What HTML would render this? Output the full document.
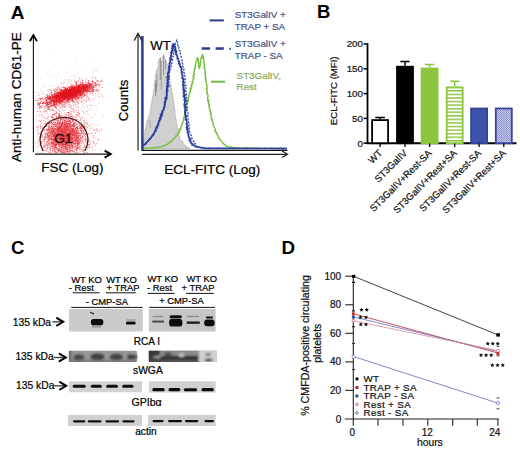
<!DOCTYPE html>
<html><head><meta charset="utf-8"><style>
html,body{margin:0;padding:0;background:#fff;width:520px;height:451px;overflow:hidden}
svg{display:block;font-family:"Liberation Sans",sans-serif}
</style></head><body>
<svg width="520" height="451" viewBox="0 0 520 451" font-family="Liberation Sans, sans-serif"><text x="10.7" y="19.2" font-size="19" fill="#000" text-anchor="start" font-weight="bold">A</text>
<text x="317" y="17.8" font-size="18.5" fill="#000" text-anchor="start" font-weight="bold">B</text>
<text x="11" y="253.8" font-size="18.5" fill="#000" text-anchor="start" font-weight="bold">C</text>
<text x="281.4" y="254.4" font-size="18.8" fill="#000" text-anchor="start" font-weight="bold">D</text>
<g stroke="#111" stroke-width="1.1" fill="none"><path d="M33.4 152.3 V35"/><path d="M35 154.1 H111"/></g><g stroke="#000" stroke-width="1.8" fill="none" stroke-linejoin="miter"><path d="M29.9 41.2 L33.4 35 L36.9 41.2"/><path d="M104.6 150.6 L110.8 154.1 L104.6 157.6"/></g>
<text x="20.8" y="162" font-size="13.5" fill="#000" text-anchor="start" transform="rotate(-90 20.8 162)" stroke="#000" stroke-width="0.22">Anti-human CD61-PE</text>
<text x="41.2" y="172.1" font-size="13.5" fill="#000" text-anchor="start" stroke="#000" stroke-width="0.22">FSC (Log)</text>
<path fill="#e26a78" fill-opacity="0.38" d="M61 112.3h.9v.9h-.9zM59.4 100h.9v.9h-.9zM47.9 103.6h.9v.9h-.9zM83.7 107h.9v.9h-.9zM82 104.6h.9v.9h-.9zM71.1 105.6h.9v.9h-.9zM38.3 121.6h.9v.9h-.9zM73.8 109.9h.9v.9h-.9zM47.9 99.7h.9v.9h-.9zM69 102.4h.9v.9h-.9zM71 93h.9v.9h-.9zM70.2 108.9h.9v.9h-.9zM57.4 131.3h.9v.9h-.9zM76.4 120h.9v.9h-.9zM51.7 94.9h.9v.9h-.9zM58 103.4h.9v.9h-.9zM75.2 105.8h.9v.9h-.9zM54 91.2h.9v.9h-.9zM58.5 123.6h.9v.9h-.9zM51.1 110h.9v.9h-.9zM67.3 80.7h.9v.9h-.9zM68.2 123.2h.9v.9h-.9zM60.1 92.2h.9v.9h-.9zM72.2 101.6h.9v.9h-.9zM41.6 120.6h.9v.9h-.9zM77.7 116h.9v.9h-.9zM89.1 105.1h.9v.9h-.9zM62.6 84.5h.9v.9h-.9zM72.7 93.1h.9v.9h-.9zM53.1 86.7h.9v.9h-.9zM46.4 99h.9v.9h-.9zM80.3 70.2h.9v.9h-.9zM40.2 111.8h.9v.9h-.9zM89.7 108.3h.9v.9h-.9zM68.1 92.1h.9v.9h-.9zM47.8 121.7h.9v.9h-.9zM82.9 103.1h.9v.9h-.9zM69.2 109.7h.9v.9h-.9zM92.3 108.4h.9v.9h-.9zM74.1 110.6h.9v.9h-.9zM41.1 127.6h.9v.9h-.9zM81.4 109h.9v.9h-.9zM73.4 74.8h.9v.9h-.9zM63.6 119.6h.9v.9h-.9zM46.2 131.7h.9v.9h-.9zM72.8 100.2h.9v.9h-.9zM71.1 112.6h.9v.9h-.9zM69 120.6h.9v.9h-.9zM51.8 99.8h.9v.9h-.9zM81.5 101.3h.9v.9h-.9zM51.7 120.6h.9v.9h-.9zM87.4 93.1h.9v.9h-.9zM40.5 106.1h.9v.9h-.9zM60.7 100h.9v.9h-.9zM84.8 84.7h.9v.9h-.9zM81.8 81.5h.9v.9h-.9zM52.5 115.7h.9v.9h-.9zM85.1 113.4h.9v.9h-.9zM70.2 105.1h.9v.9h-.9zM68.1 112h.9v.9h-.9zM61.8 108.6h.9v.9h-.9zM73.6 102.3h.9v.9h-.9zM78.3 110.1h.9v.9h-.9zM98.5 102.9h.9v.9h-.9zM55.9 99.8h.9v.9h-.9zM66.2 117.7h.9v.9h-.9zM59.4 110.7h.9v.9h-.9zM88.1 60.7h.9v.9h-.9zM45.8 110.9h.9v.9h-.9zM71.3 106.3h.9v.9h-.9zM58.5 115h.9v.9h-.9zM67.4 95.5h.9v.9h-.9zM54.5 104.2h.9v.9h-.9zM60.1 103.7h.9v.9h-.9zM77.8 83.8h.9v.9h-.9zM65.4 118.3h.9v.9h-.9zM82.2 123.5h.9v.9h-.9zM59.9 114.2h.9v.9h-.9zM75.3 61.1h.9v.9h-.9zM78.5 79.4h.9v.9h-.9zM71.6 79.9h.9v.9h-.9zM70.1 121.1h.9v.9h-.9zM62 107.3h.9v.9h-.9zM77.7 103.7h.9v.9h-.9zM66.5 126.9h.9v.9h-.9zM80.8 96.6h.9v.9h-.9zM78.6 97.4h.9v.9h-.9zM68.1 114h.9v.9h-.9zM69.4 112.8h.9v.9h-.9zM71.8 88h.9v.9h-.9zM43 85.3h.9v.9h-.9zM87.1 111.3h.9v.9h-.9zM86.2 85.8h.9v.9h-.9zM61 87.2h.9v.9h-.9zM81 125.2h.9v.9h-.9zM53.2 129.7h.9v.9h-.9zM80.1 98.5h.9v.9h-.9zM60.8 95.4h.9v.9h-.9zM71.8 108.9h.9v.9h-.9zM86.4 84.5h.9v.9h-.9zM86.9 122.6h.9v.9h-.9zM87.8 97h.9v.9h-.9zM54.2 121.2h.9v.9h-.9zM66.3 105.5h.9v.9h-.9zM87.2 95.9h.9v.9h-.9zM35.1 121.6h.9v.9h-.9zM67.7 94h.9v.9h-.9zM66 116.3h.9v.9h-.9zM68.8 123.4h.9v.9h-.9zM65.7 119.5h.9v.9h-.9zM93.2 123.4h.9v.9h-.9zM55 119h.9v.9h-.9zM43.3 107.4h.9v.9h-.9zM60.7 104.1h.9v.9h-.9zM54.7 109.2h.9v.9h-.9zM94.1 99.4h.9v.9h-.9zM75.5 117.2h.9v.9h-.9zM57.4 86h.9v.9h-.9zM57.5 121.5h.9v.9h-.9zM82.9 112.7h.9v.9h-.9zM66.2 115.9h.9v.9h-.9zM63.7 86.1h.9v.9h-.9zM36.2 99.2h.9v.9h-.9zM78 92.9h.9v.9h-.9zM46.9 95.3h.9v.9h-.9zM38.1 106.8h.9v.9h-.9zM45.2 112.9h.9v.9h-.9zM48.2 77.2h.9v.9h-.9zM75.4 97.8h.9v.9h-.9zM67.7 96.4h.9v.9h-.9zM79 112.7h.9v.9h-.9zM76 106.9h.9v.9h-.9zM88 109.8h.9v.9h-.9zM66.1 71.9h.9v.9h-.9zM82.4 120.7h.9v.9h-.9zM57.8 97.9h.9v.9h-.9zM91.9 72.3h.9v.9h-.9zM78.2 138.4h.9v.9h-.9zM50.3 116.9h.9v.9h-.9zM95.3 96.7h.9v.9h-.9zM75.7 115.7h.9v.9h-.9zM48.6 105.4h.9v.9h-.9zM71.1 115.3h.9v.9h-.9zM62.9 101.2h.9v.9h-.9zM46.1 101.7h.9v.9h-.9zM79.2 102.9h.9v.9h-.9zM47.5 94.1h.9v.9h-.9zM67.9 63.8h.9v.9h-.9zM75.7 109.3h.9v.9h-.9zM93.3 105.3h.9v.9h-.9zM64.2 111.9h.9v.9h-.9zM67.6 92.7h.9v.9h-.9zM90.9 126.8h.9v.9h-.9zM38.8 98.3h.9v.9h-.9zM69.4 105.9h.9v.9h-.9zM54.8 90.8h.9v.9h-.9zM102.2 113.1h.9v.9h-.9zM40.5 87.7h.9v.9h-.9zM95.1 113.6h.9v.9h-.9zM96.6 110.6h.9v.9h-.9zM50.1 110.4h.9v.9h-.9zM64.4 111.9h.9v.9h-.9zM51.5 104.3h.9v.9h-.9zM72.7 108.2h.9v.9h-.9zM75.2 105.2h.9v.9h-.9zM60.6 116.6h.9v.9h-.9zM62.7 91.7h.9v.9h-.9zM53.5 105.8h.9v.9h-.9zM62.6 106.6h.9v.9h-.9zM64.4 106.6h.9v.9h-.9zM58.5 85.8h.9v.9h-.9zM73.8 118.3h.9v.9h-.9zM70.8 99.9h.9v.9h-.9zM69 88.4h.9v.9h-.9zM50.3 117.7h.9v.9h-.9zM39 68.4h.9v.9h-.9zM50.7 130.4h.9v.9h-.9zM54 84.9h.9v.9h-.9zM52.6 113.9h.9v.9h-.9zM72.8 105.1h.9v.9h-.9zM90.7 110.1h.9v.9h-.9zM65.2 112.9h.9v.9h-.9zM94.2 113.5h.9v.9h-.9zM78.3 85h.9v.9h-.9zM63.4 115.2h.9v.9h-.9zM61.8 120.7h.9v.9h-.9zM76.3 115.7h.9v.9h-.9zM67.1 142.2h.9v.9h-.9zM84.2 97.2h.9v.9h-.9zM72.3 142.1h.9v.9h-.9zM60.5 117.9h.9v.9h-.9zM80.4 101.2h.9v.9h-.9zM44.9 110.2h.9v.9h-.9zM73 119.6h.9v.9h-.9zM77.2 102h.9v.9h-.9zM79.7 109.5h.9v.9h-.9zM67.6 104.2h.9v.9h-.9zM61.7 114.9h.9v.9h-.9zM44.7 97.8h.9v.9h-.9zM60.3 82.4h.9v.9h-.9zM51.5 75.6h.9v.9h-.9zM54 114.4h.9v.9h-.9zM73.3 101.5h.9v.9h-.9zM56.4 83.8h.9v.9h-.9zM95.9 106.2h.9v.9h-.9zM80 87.7h.9v.9h-.9zM56.2 77.7h.9v.9h-.9zM79.5 115.5h.9v.9h-.9zM70 76.1h.9v.9h-.9zM49.8 85.1h.9v.9h-.9zM65.2 107.6h.9v.9h-.9zM76.4 112.5h.9v.9h-.9zM92.2 116.8h.9v.9h-.9zM40.7 100.4h.9v.9h-.9zM43.4 91.2h.9v.9h-.9zM62.7 104.3h.9v.9h-.9zM68.1 79.1h.9v.9h-.9zM43.2 107.3h.9v.9h-.9zM59.8 100h.9v.9h-.9zM61 93h.9v.9h-.9zM76.7 107.2h.9v.9h-.9zM60.8 94.3h.9v.9h-.9zM54 64.3h.9v.9h-.9zM47.7 107.4h.9v.9h-.9zM39.3 111.4h.9v.9h-.9zM62.9 83.2h.9v.9h-.9zM59 100.1h.9v.9h-.9zM73.3 111.7h.9v.9h-.9zM61.2 91.5h.9v.9h-.9zM61.4 103.5h.9v.9h-.9zM77.1 106.2h.9v.9h-.9zM48.4 86.1h.9v.9h-.9zM55.8 94.2h.9v.9h-.9zM45.1 105.6h.9v.9h-.9zM56.1 107h.9v.9h-.9zM71.7 96.4h.9v.9h-.9zM102.1 92.4h.9v.9h-.9zM82.8 102.5h.9v.9h-.9zM76.5 65.6h.9v.9h-.9zM52.1 109.9h.9v.9h-.9zM80.2 136.7h.9v.9h-.9zM72.7 122h.9v.9h-.9zM79.3 115.7h.9v.9h-.9zM72.1 100.2h.9v.9h-.9zM69.7 86.6h.9v.9h-.9zM81.1 85.5h.9v.9h-.9zM73.7 134.6h.9v.9h-.9zM60.3 104.9h.9v.9h-.9zM83.5 101h.9v.9h-.9zM51.2 110.2h.9v.9h-.9zM75.6 112.8h.9v.9h-.9zM55.6 132.2h.9v.9h-.9zM92 99.3h.9v.9h-.9zM67.4 96.9h.9v.9h-.9zM85.8 89.4h.9v.9h-.9zM74 94.9h.9v.9h-.9zM54.3 116.7h.9v.9h-.9zM86.3 99.9h.9v.9h-.9zM54.8 118h.9v.9h-.9zM64 108.7h.9v.9h-.9zM92.4 116.2h.9v.9h-.9zM61.2 139.3h.9v.9h-.9zM66.1 115.6h.9v.9h-.9zM53 105.3h.9v.9h-.9zM39.4 135.6h.9v.9h-.9zM83.7 82h.9v.9h-.9zM82.5 93.7h.9v.9h-.9zM62.2 99.6h.9v.9h-.9zM59.1 88.3h.9v.9h-.9zM60.7 82.7h.9v.9h-.9zM63.6 108.8h.9v.9h-.9zM71.2 99.2h.9v.9h-.9zM49.3 109h.9v.9h-.9zM60 128.6h.9v.9h-.9zM76.6 100h.9v.9h-.9zM54.3 95h.9v.9h-.9zM47.4 101.6h.9v.9h-.9zM70.3 110.7h.9v.9h-.9zM79 133.3h.9v.9h-.9zM52.2 106.3h.9v.9h-.9zM55.7 108h.9v.9h-.9zM67.6 109.6h.9v.9h-.9zM61 110.1h.9v.9h-.9zM66.9 115.2h.9v.9h-.9zM61.3 88.8h.9v.9h-.9zM48.1 116.4h.9v.9h-.9zM54.8 115.3h.9v.9h-.9zM77.3 106.3h.9v.9h-.9zM72.2 101h.9v.9h-.9zM40.3 107.7h.9v.9h-.9zM70.2 94.8h.9v.9h-.9zM64.3 115.4h.9v.9h-.9zM51 116h.9v.9h-.9zM93.7 90.3h.9v.9h-.9zM66.1 101.3h.9v.9h-.9zM90.6 104.1h.9v.9h-.9zM77.2 91.2h.9v.9h-.9zM63.7 103.9h.9v.9h-.9zM38 130.5h.9v.9h-.9zM74.5 75.5h.9v.9h-.9zM76.1 99.9h.9v.9h-.9zM72.5 108.1h.9v.9h-.9zM38.4 105.3h.9v.9h-.9zM87.5 91.1h.9v.9h-.9zM43.3 86.9h.9v.9h-.9zM44.4 112.6h.9v.9h-.9zM93.5 105.3h.9v.9h-.9zM73.9 136.3h.9v.9h-.9zM53.5 95.6h.9v.9h-.9zM74.3 110.5h.9v.9h-.9zM44 89.7h.9v.9h-.9zM69.5 106.8h.9v.9h-.9zM41.6 104.9h.9v.9h-.9zM56.1 112.4h.9v.9h-.9zM61.8 103.1h.9v.9h-.9zM60.8 120.6h.9v.9h-.9zM86.3 94.5h.9v.9h-.9zM76.2 90.3h.9v.9h-.9zM67.2 114.9h.9v.9h-.9zM88.4 93.9h.9v.9h-.9zM63.3 107.1h.9v.9h-.9zM39 108.7h.9v.9h-.9zM53.7 111.5h.9v.9h-.9zM39.9 78.1h.9v.9h-.9zM65.3 107.7h.9v.9h-.9zM57.1 118.8h.9v.9h-.9zM57.8 95.9h.9v.9h-.9zM67.9 79.4h.9v.9h-.9zM52.6 105.7h.9v.9h-.9zM77.8 99.1h.9v.9h-.9zM67.5 93.4h.9v.9h-.9zM73.4 127.7h.9v.9h-.9zM58.7 141h.9v.9h-.9zM53.3 106.2h.9v.9h-.9zM69.6 118.6h.9v.9h-.9zM37.8 76.6h.9v.9h-.9zM76.2 114h.9v.9h-.9zM81.3 141h.9v.9h-.9zM68.1 107.1h.9v.9h-.9zM80.5 106.7h.9v.9h-.9zM88.6 80.8h.9v.9h-.9zM48.7 54.2h.9v.9h-.9zM76.6 96.1h.9v.9h-.9zM85.1 133.1h.9v.9h-.9zM63.2 100.3h.9v.9h-.9zM53.5 93.1h.9v.9h-.9zM55.1 115.3h.9v.9h-.9zM64.8 104.9h.9v.9h-.9zM63.5 118h.9v.9h-.9zM71.9 100.4h.9v.9h-.9zM74.7 99.8h.9v.9h-.9zM48.5 128.9h.9v.9h-.9zM69.3 88.5h.9v.9h-.9zM83 105.9h.9v.9h-.9zM42 132.4h.9v.9h-.9zM71.9 116.2h.9v.9h-.9zM66.9 101.2h.9v.9h-.9zM40.6 122.9h.9v.9h-.9zM63.8 99.7h.9v.9h-.9zM70.1 104.1h.9v.9h-.9zM74.3 96.5h.9v.9h-.9zM57.8 72.5h.9v.9h-.9zM58.7 115.2h.9v.9h-.9zM85.4 94.7h.9v.9h-.9zM66.1 127.7h.9v.9h-.9zM60.5 115.8h.9v.9h-.9zM92.2 99.6h.9v.9h-.9zM82.7 89.9h.9v.9h-.9zM67.3 102.2h.9v.9h-.9zM68.9 120.3h.9v.9h-.9zM102.3 87.1h.9v.9h-.9zM55.7 113h.9v.9h-.9zM47.6 114.5h.9v.9h-.9zM72.9 98.2h.9v.9h-.9zM68.9 79.5h.9v.9h-.9zM72.7 78.9h.9v.9h-.9zM50.9 97.8h.9v.9h-.9zM59.5 117.9h.9v.9h-.9zM64.3 97.9h.9v.9h-.9zM77.2 125.8h.9v.9h-.9zM65.1 109.4h.9v.9h-.9zM85.5 104.3h.9v.9h-.9zM49 144.6h.9v.9h-.9zM95.8 68.2h.9v.9h-.9zM64.4 110.3h.9v.9h-.9zM81.9 111h.9v.9h-.9zM56.7 89.2h.9v.9h-.9zM68.4 119h.9v.9h-.9zM43.1 92h.9v.9h-.9zM58.5 75.5h.9v.9h-.9zM58.5 98.3h.9v.9h-.9zM69.7 92.3h.9v.9h-.9zM48.2 100.8h.9v.9h-.9zM61.4 94.3h.9v.9h-.9zM66.2 115h.9v.9h-.9z"/>
<path fill="#e3303a" fill-opacity="0.5" d="M88.3 99.5h.9v.9h-.9zM54.3 97.7h.9v.9h-.9zM56 99.6h.9v.9h-.9zM72.3 85.6h.9v.9h-.9zM74 93.4h.9v.9h-.9zM39.9 107.2h.9v.9h-.9zM81.4 79.2h.9v.9h-.9zM79.6 93h.9v.9h-.9zM75 96h.9v.9h-.9zM86.3 87.9h.9v.9h-.9zM79.4 89.1h.9v.9h-.9zM76.4 87.6h.9v.9h-.9zM68.7 106.4h.9v.9h-.9zM73.4 92.8h.9v.9h-.9zM48.1 97.5h.9v.9h-.9zM71.8 100.3h.9v.9h-.9zM74.5 96.8h.9v.9h-.9zM69 103.9h.9v.9h-.9zM60 94.9h.9v.9h-.9zM80.6 91.7h.9v.9h-.9zM61.7 94.2h.9v.9h-.9zM64.3 100.9h.9v.9h-.9zM70 87.3h.9v.9h-.9zM73.8 94.8h.9v.9h-.9zM53.4 105.6h.9v.9h-.9zM62.1 95.6h.9v.9h-.9zM81.6 99.3h.9v.9h-.9zM57.4 102.1h.9v.9h-.9zM58.3 113.7h.9v.9h-.9zM61.9 105.4h.9v.9h-.9zM58.8 104h.9v.9h-.9zM95.6 70h.9v.9h-.9zM61.4 101.1h.9v.9h-.9zM64.3 92.7h.9v.9h-.9zM99.7 85.2h.9v.9h-.9zM43.8 109.4h.9v.9h-.9zM43.2 111.5h.9v.9h-.9zM58.5 99.8h.9v.9h-.9zM86.3 90.1h.9v.9h-.9zM42.6 93.6h.9v.9h-.9zM86.3 94h.9v.9h-.9zM56.3 105.1h.9v.9h-.9zM75.8 97.1h.9v.9h-.9zM82.1 95.5h.9v.9h-.9zM75.5 77.5h.9v.9h-.9zM70.5 97.9h.9v.9h-.9zM62.1 97.9h.9v.9h-.9zM79.5 88.9h.9v.9h-.9zM82.8 85.6h.9v.9h-.9zM70 91.6h.9v.9h-.9zM68 91.3h.9v.9h-.9zM45 110.5h.9v.9h-.9zM70.5 91.3h.9v.9h-.9zM72 100.6h.9v.9h-.9zM52 100.5h.9v.9h-.9zM76.2 96.2h.9v.9h-.9zM57.8 85.8h.9v.9h-.9zM86.4 91.4h.9v.9h-.9zM66.7 94.4h.9v.9h-.9zM70.2 92.2h.9v.9h-.9zM50.1 97.1h.9v.9h-.9zM56.8 95.6h.9v.9h-.9zM50.7 105.6h.9v.9h-.9zM48.5 106.6h.9v.9h-.9zM52.3 103.3h.9v.9h-.9zM88.2 90h.9v.9h-.9zM56 100.1h.9v.9h-.9zM65.9 85.4h.9v.9h-.9zM58.1 100.1h.9v.9h-.9zM60.1 98.9h.9v.9h-.9zM79.6 96.5h.9v.9h-.9zM81.9 94.6h.9v.9h-.9zM62.6 97.4h.9v.9h-.9zM62.3 95.6h.9v.9h-.9zM60.9 87.2h.9v.9h-.9zM61.9 97.6h.9v.9h-.9zM52.2 100.9h.9v.9h-.9zM74.5 92.4h.9v.9h-.9zM93.3 70.4h.9v.9h-.9zM60.3 86.7h.9v.9h-.9zM87 106h.9v.9h-.9zM74.3 91.6h.9v.9h-.9zM71 80.4h.9v.9h-.9zM80.6 93.7h.9v.9h-.9zM66.2 92.5h.9v.9h-.9zM75.7 89.9h.9v.9h-.9zM69.4 91.9h.9v.9h-.9zM71.5 99.2h.9v.9h-.9zM53.7 100.4h.9v.9h-.9zM76.6 93.6h.9v.9h-.9zM89.7 100.8h.9v.9h-.9zM49.5 89.8h.9v.9h-.9zM82.9 100.2h.9v.9h-.9zM82.5 95.8h.9v.9h-.9zM56.2 95.2h.9v.9h-.9zM78.7 86.2h.9v.9h-.9zM37.6 99.8h.9v.9h-.9zM55.2 95.4h.9v.9h-.9zM69 90.5h.9v.9h-.9zM86.7 88.7h.9v.9h-.9zM53.1 109.1h.9v.9h-.9zM58.6 100.3h.9v.9h-.9zM66.2 94.3h.9v.9h-.9zM70.6 90.4h.9v.9h-.9zM46.4 98.3h.9v.9h-.9zM66.8 96.4h.9v.9h-.9zM75.6 93.8h.9v.9h-.9zM53.6 96.1h.9v.9h-.9zM75.4 96.5h.9v.9h-.9zM64.8 95.6h.9v.9h-.9zM81.2 91.2h.9v.9h-.9zM79.3 95.5h.9v.9h-.9zM72.8 102.3h.9v.9h-.9zM57.6 96.9h.9v.9h-.9zM53.2 95.7h.9v.9h-.9zM94 97.9h.9v.9h-.9zM68.5 99.1h.9v.9h-.9zM86.4 94.5h.9v.9h-.9zM82.8 82.6h.9v.9h-.9zM58.2 101.9h.9v.9h-.9zM88.9 89.1h.9v.9h-.9zM53.3 98.5h.9v.9h-.9zM55.3 94.6h.9v.9h-.9zM88.5 84.6h.9v.9h-.9zM71.5 108.2h.9v.9h-.9zM85.6 91.7h.9v.9h-.9zM58.5 101.5h.9v.9h-.9zM92.8 91.1h.9v.9h-.9zM86.3 90h.9v.9h-.9zM74.4 92.2h.9v.9h-.9zM76 101.2h.9v.9h-.9zM45.2 103.1h.9v.9h-.9zM69.5 91.5h.9v.9h-.9zM63.9 102.1h.9v.9h-.9zM98.5 89.1h.9v.9h-.9zM68.9 85.5h.9v.9h-.9zM96.3 86.4h.9v.9h-.9zM64.3 89.8h.9v.9h-.9zM64 90.1h.9v.9h-.9zM69 98.3h.9v.9h-.9zM68 97.4h.9v.9h-.9zM56.9 108.5h.9v.9h-.9zM53.6 89.1h.9v.9h-.9zM62.7 92.6h.9v.9h-.9zM51 99.2h.9v.9h-.9zM69.1 87.8h.9v.9h-.9zM67.7 104.8h.9v.9h-.9zM77 91.6h.9v.9h-.9zM68.7 94.7h.9v.9h-.9zM67.7 100.4h.9v.9h-.9zM60.9 82.8h.9v.9h-.9zM64.9 91.1h.9v.9h-.9zM75.7 89.1h.9v.9h-.9zM73.5 107.6h.9v.9h-.9zM49 95.1h.9v.9h-.9zM41 89.8h.9v.9h-.9zM39.3 107.9h.9v.9h-.9zM53.7 88.7h.9v.9h-.9zM45.8 107.2h.9v.9h-.9zM54.6 98h.9v.9h-.9zM74.6 102h.9v.9h-.9zM98.4 91.7h.9v.9h-.9zM69.5 96.3h.9v.9h-.9zM97.1 94.7h.9v.9h-.9zM63.2 100.2h.9v.9h-.9zM71.4 94.8h.9v.9h-.9zM56.8 91.1h.9v.9h-.9zM55.9 90h.9v.9h-.9zM86.6 92.7h.9v.9h-.9zM51.5 110.2h.9v.9h-.9zM76.8 80.5h.9v.9h-.9zM96.4 91h.9v.9h-.9zM95.8 78.3h.9v.9h-.9zM75.9 95.6h.9v.9h-.9zM70.4 95.9h.9v.9h-.9zM80 82h.9v.9h-.9zM45.5 94.6h.9v.9h-.9zM57.4 95.5h.9v.9h-.9zM73.1 95.6h.9v.9h-.9zM66.2 92h.9v.9h-.9zM62.2 103.7h.9v.9h-.9zM78.7 92.6h.9v.9h-.9zM65.2 106.5h.9v.9h-.9zM59.3 102.8h.9v.9h-.9zM83.9 88.5h.9v.9h-.9zM77.3 85.4h.9v.9h-.9zM82.7 91.9h.9v.9h-.9zM44.3 108.1h.9v.9h-.9zM56 107.9h.9v.9h-.9zM56.4 98.6h.9v.9h-.9zM70.6 92.6h.9v.9h-.9zM69.8 91.5h.9v.9h-.9zM77.2 92.5h.9v.9h-.9zM64.8 79.3h.9v.9h-.9zM84.6 90.1h.9v.9h-.9zM40.2 105.8h.9v.9h-.9zM76.2 99.6h.9v.9h-.9zM53.6 110.4h.9v.9h-.9zM69.3 110.4h.9v.9h-.9zM66.1 100.6h.9v.9h-.9zM59.3 91.6h.9v.9h-.9zM85.4 95.4h.9v.9h-.9zM91.9 92.8h.9v.9h-.9zM55.1 89.6h.9v.9h-.9zM55.8 95.6h.9v.9h-.9zM55.8 103.6h.9v.9h-.9zM71.4 92.8h.9v.9h-.9zM69.3 94.3h.9v.9h-.9zM71.7 99.2h.9v.9h-.9zM80.2 87.1h.9v.9h-.9zM47 111.9h.9v.9h-.9zM70.9 101.7h.9v.9h-.9zM41.5 102.7h.9v.9h-.9zM64.6 87.7h.9v.9h-.9zM60.6 102.8h.9v.9h-.9zM86.4 99.4h.9v.9h-.9zM51.2 92.5h.9v.9h-.9zM76.7 98.6h.9v.9h-.9zM67.4 87.6h.9v.9h-.9zM80.4 96.4h.9v.9h-.9zM74.4 90.4h.9v.9h-.9zM73.1 98.9h.9v.9h-.9zM54.9 88.5h.9v.9h-.9zM72.9 97h.9v.9h-.9zM68.9 101h.9v.9h-.9zM58 98.6h.9v.9h-.9zM63.5 100.8h.9v.9h-.9zM90.6 86.3h.9v.9h-.9zM101.1 94h.9v.9h-.9zM80.1 95.2h.9v.9h-.9zM93.4 85.8h.9v.9h-.9zM63.2 90.6h.9v.9h-.9zM76.8 101.2h.9v.9h-.9zM75.9 95.6h.9v.9h-.9zM64.3 98h.9v.9h-.9zM47.5 109.4h.9v.9h-.9zM58.6 91.9h.9v.9h-.9zM54 95.2h.9v.9h-.9zM82 97.5h.9v.9h-.9zM48.3 108.3h.9v.9h-.9zM79.3 88.1h.9v.9h-.9zM43.1 99.5h.9v.9h-.9zM58.1 101.2h.9v.9h-.9zM57.6 86.4h.9v.9h-.9zM67.5 86.1h.9v.9h-.9zM78.3 84.4h.9v.9h-.9zM54.8 94.8h.9v.9h-.9zM61.3 106.2h.9v.9h-.9zM81.1 95h.9v.9h-.9zM68.8 85.6h.9v.9h-.9zM58 95.6h.9v.9h-.9zM53.2 104h.9v.9h-.9zM54.4 95.8h.9v.9h-.9zM47.2 89.8h.9v.9h-.9zM78.6 100.4h.9v.9h-.9zM67.7 89.5h.9v.9h-.9zM86 91.4h.9v.9h-.9zM83.9 99.6h.9v.9h-.9zM83.2 87.6h.9v.9h-.9zM84.4 94.9h.9v.9h-.9zM43 101.7h.9v.9h-.9zM45.2 102.8h.9v.9h-.9zM73.7 86.9h.9v.9h-.9zM38.4 114.1h.9v.9h-.9zM75.6 102.4h.9v.9h-.9zM49 108.9h.9v.9h-.9zM102.3 96.6h.9v.9h-.9zM64.3 98.6h.9v.9h-.9zM66.6 102.5h.9v.9h-.9zM82.9 91.1h.9v.9h-.9zM47.9 107.3h.9v.9h-.9zM61.1 102h.9v.9h-.9zM74.2 103.8h.9v.9h-.9zM83.3 87.5h.9v.9h-.9zM75.7 104.2h.9v.9h-.9zM59.7 101.3h.9v.9h-.9zM87.5 96.9h.9v.9h-.9zM72.3 85.8h.9v.9h-.9zM48.4 104h.9v.9h-.9zM77.8 108.4h.9v.9h-.9zM56.2 106.9h.9v.9h-.9zM75.4 82.5h.9v.9h-.9zM54.9 101.2h.9v.9h-.9zM59.2 97.7h.9v.9h-.9zM72.5 89h.9v.9h-.9zM72.8 90h.9v.9h-.9zM59.8 101.9h.9v.9h-.9zM58.9 100.6h.9v.9h-.9zM91.2 87.8h.9v.9h-.9zM66.2 100.9h.9v.9h-.9zM63.6 104h.9v.9h-.9zM48.8 106.2h.9v.9h-.9zM57.7 94.1h.9v.9h-.9zM92.1 82h.9v.9h-.9zM94.9 90.6h.9v.9h-.9zM87.1 82.9h.9v.9h-.9zM88 98h.9v.9h-.9zM65 95.9h.9v.9h-.9zM59.4 94.6h.9v.9h-.9zM74.4 95.6h.9v.9h-.9zM73 104.8h.9v.9h-.9zM63 100.4h.9v.9h-.9zM87.1 82.7h.9v.9h-.9zM86.3 101h.9v.9h-.9zM44.4 96.8h.9v.9h-.9zM47.7 90.9h.9v.9h-.9zM70.2 83.1h.9v.9h-.9zM77.4 101.6h.9v.9h-.9zM41.9 102.6h.9v.9h-.9zM39.5 110.4h.9v.9h-.9zM55.3 98.3h.9v.9h-.9zM68.9 98.8h.9v.9h-.9zM61.8 97.9h.9v.9h-.9zM59 99.5h.9v.9h-.9zM49.4 102.5h.9v.9h-.9zM36.8 103.3h.9v.9h-.9zM96.1 86.5h.9v.9h-.9zM48.4 104h.9v.9h-.9zM49.1 91.7h.9v.9h-.9zM57.3 104h.9v.9h-.9zM72.6 93.5h.9v.9h-.9zM50.9 94.7h.9v.9h-.9zM87.9 90.4h.9v.9h-.9zM48.5 89h.9v.9h-.9zM51.1 117.2h.9v.9h-.9zM49.5 101.5h.9v.9h-.9zM69.9 94h.9v.9h-.9zM60.1 89.7h.9v.9h-.9zM54.4 111.1h.9v.9h-.9zM57.2 104.7h.9v.9h-.9zM40.8 103.3h.9v.9h-.9zM73 100.5h.9v.9h-.9zM51.2 105.2h.9v.9h-.9zM71.4 89.8h.9v.9h-.9zM72.5 88.4h.9v.9h-.9zM54.9 100h.9v.9h-.9zM49 92.9h.9v.9h-.9zM62.1 102.5h.9v.9h-.9zM63.4 105.3h.9v.9h-.9zM46.9 94.6h.9v.9h-.9zM91.2 90.2h.9v.9h-.9zM79.7 86.4h.9v.9h-.9zM79.7 93.3h.9v.9h-.9zM76.9 92.8h.9v.9h-.9zM84 86h.9v.9h-.9zM49.5 92.6h.9v.9h-.9zM83.1 85.8h.9v.9h-.9zM49.4 96.1h.9v.9h-.9zM57.8 91.1h.9v.9h-.9zM61.4 94h.9v.9h-.9zM56.8 93.4h.9v.9h-.9zM66.7 93.2h.9v.9h-.9zM69.2 96.8h.9v.9h-.9zM67.9 81.8h.9v.9h-.9zM57.3 94.3h.9v.9h-.9zM75.6 83h.9v.9h-.9zM55.6 98.1h.9v.9h-.9zM63.9 103.4h.9v.9h-.9zM62.2 103.8h.9v.9h-.9zM41.3 93.4h.9v.9h-.9zM86.3 92.1h.9v.9h-.9zM74.6 94.2h.9v.9h-.9zM72 86.6h.9v.9h-.9zM80.3 88h.9v.9h-.9zM82.1 91.4h.9v.9h-.9zM83.8 89.3h.9v.9h-.9zM61.5 99.4h.9v.9h-.9zM59.5 95.1h.9v.9h-.9zM68.8 96.3h.9v.9h-.9zM90 88.4h.9v.9h-.9zM99 96.4h.9v.9h-.9zM95 93.1h.9v.9h-.9zM69.2 96.1h.9v.9h-.9zM63.4 92.6h.9v.9h-.9zM64.7 92.7h.9v.9h-.9zM92.9 90.5h.9v.9h-.9zM56.5 87.5h.9v.9h-.9zM65.4 93.9h.9v.9h-.9zM48.4 95.2h.9v.9h-.9zM71 111h.9v.9h-.9zM66.2 95.3h.9v.9h-.9zM89.1 89.2h.9v.9h-.9zM68.8 93h.9v.9h-.9zM60.8 107.7h.9v.9h-.9zM85.5 100.5h.9v.9h-.9zM61.8 98h.9v.9h-.9zM55.6 106.1h.9v.9h-.9zM47 106.5h.9v.9h-.9zM86.3 98.3h.9v.9h-.9zM54.9 107.1h.9v.9h-.9zM54.7 95.4h.9v.9h-.9zM49.2 109.4h.9v.9h-.9zM90.8 84h.9v.9h-.9zM54.8 98h.9v.9h-.9zM55.3 88.6h.9v.9h-.9zM59.1 106.2h.9v.9h-.9zM94.7 84.8h.9v.9h-.9zM55.5 96.7h.9v.9h-.9zM40.2 111h.9v.9h-.9zM52.7 107.7h.9v.9h-.9zM38.7 97.7h.9v.9h-.9zM69.9 90.2h.9v.9h-.9zM78.8 92h.9v.9h-.9zM50.4 105.6h.9v.9h-.9zM76 80.8h.9v.9h-.9zM95.6 89.3h.9v.9h-.9zM74.9 81.5h.9v.9h-.9zM55.4 97.8h.9v.9h-.9zM80.4 82.1h.9v.9h-.9zM49.7 89.1h.9v.9h-.9zM64 99.2h.9v.9h-.9zM40.3 101.4h.9v.9h-.9zM77.8 102.3h.9v.9h-.9zM76.5 90.8h.9v.9h-.9zM47.4 96.8h.9v.9h-.9zM57.2 100.3h.9v.9h-.9zM69.5 105.7h.9v.9h-.9zM69.3 88.4h.9v.9h-.9zM92.2 93.3h.9v.9h-.9zM67.1 91.4h.9v.9h-.9zM36.7 99.9h.9v.9h-.9zM79.2 86.7h.9v.9h-.9zM47.4 104h.9v.9h-.9zM71.9 98.2h.9v.9h-.9zM79.7 100.6h.9v.9h-.9zM56.2 105.9h.9v.9h-.9zM53.4 105.1h.9v.9h-.9zM70.2 96.4h.9v.9h-.9zM81.6 90.9h.9v.9h-.9zM85.5 95.2h.9v.9h-.9zM67.9 92.1h.9v.9h-.9zM54.6 96.9h.9v.9h-.9zM63.9 96.9h.9v.9h-.9zM77 87.1h.9v.9h-.9zM55.6 97.9h.9v.9h-.9zM67.9 89.1h.9v.9h-.9zM90.3 84.4h.9v.9h-.9zM78.7 77.1h.9v.9h-.9zM67.4 97.6h.9v.9h-.9zM71.1 98.4h.9v.9h-.9zM71.6 95.5h.9v.9h-.9zM37 101.8h.9v.9h-.9zM71.3 93.3h.9v.9h-.9zM53.4 97h.9v.9h-.9zM98.3 96.2h.9v.9h-.9zM68.6 103.6h.9v.9h-.9zM39.2 93.3h.9v.9h-.9zM58 93.6h.9v.9h-.9zM58.9 100h.9v.9h-.9zM68.3 97.3h.9v.9h-.9zM68.3 101.5h.9v.9h-.9zM91.4 79.7h.9v.9h-.9zM68.9 93.7h.9v.9h-.9zM69.4 85.5h.9v.9h-.9zM35.9 92h.9v.9h-.9zM75.3 94.4h.9v.9h-.9zM63.5 82.2h.9v.9h-.9zM59.9 93.7h.9v.9h-.9zM43.8 98.2h.9v.9h-.9zM78.6 95.5h.9v.9h-.9zM67.7 99h.9v.9h-.9zM58 99.5h.9v.9h-.9zM68.7 98.9h.9v.9h-.9zM65.7 95.6h.9v.9h-.9zM63.7 93h.9v.9h-.9zM101.8 87.3h.9v.9h-.9zM78 106.8h.9v.9h-.9zM85.2 79.9h.9v.9h-.9zM79.2 97.1h.9v.9h-.9zM98.1 93.6h.9v.9h-.9zM76.4 85.3h.9v.9h-.9zM54.4 102.1h.9v.9h-.9zM72.6 87.6h.9v.9h-.9zM60.4 95.7h.9v.9h-.9zM68.6 97.6h.9v.9h-.9zM60.2 90.5h.9v.9h-.9zM88.9 98.6h.9v.9h-.9zM67.4 102.4h.9v.9h-.9zM75 97.4h.9v.9h-.9zM72.8 89.2h.9v.9h-.9zM77.7 98.7h.9v.9h-.9zM57.3 111.8h.9v.9h-.9zM102.2 95.5h.9v.9h-.9zM98.5 89.8h.9v.9h-.9zM60.7 94.4h.9v.9h-.9zM54.9 100.9h.9v.9h-.9zM67.8 100h.9v.9h-.9zM41 119.6h.9v.9h-.9zM101.4 84h.9v.9h-.9zM78.2 95.2h.9v.9h-.9zM70.7 93.4h.9v.9h-.9zM63.5 92h.9v.9h-.9zM69.6 94.9h.9v.9h-.9zM70.2 89.5h.9v.9h-.9zM67.7 96.1h.9v.9h-.9zM74.1 86.8h.9v.9h-.9zM75.3 99.4h.9v.9h-.9zM75.3 90.8h.9v.9h-.9zM59.1 97.2h.9v.9h-.9zM81.1 101h.9v.9h-.9zM63.4 93.2h.9v.9h-.9zM73.1 95.2h.9v.9h-.9zM51.8 96.5h.9v.9h-.9zM66.8 100.3h.9v.9h-.9zM47 96.4h.9v.9h-.9zM72.2 86.5h.9v.9h-.9zM69.3 97.4h.9v.9h-.9zM63.3 90.8h.9v.9h-.9zM65.4 94.4h.9v.9h-.9zM70.4 89.5h.9v.9h-.9zM80.2 80.8h.9v.9h-.9zM64.3 97h.9v.9h-.9zM80.4 87.5h.9v.9h-.9zM74.2 89.9h.9v.9h-.9zM81.6 102h.9v.9h-.9zM61.8 100.6h.9v.9h-.9zM54.9 106.4h.9v.9h-.9zM85.4 89.9h.9v.9h-.9zM50.6 104.2h.9v.9h-.9zM86.5 96.2h.9v.9h-.9zM75.7 81.4h.9v.9h-.9zM59.5 107.6h.9v.9h-.9zM50.7 108.8h.9v.9h-.9zM97 90.5h.9v.9h-.9zM83.3 88.3h.9v.9h-.9zM48.3 101.8h.9v.9h-.9zM63.9 96.8h.9v.9h-.9zM77.3 91.5h.9v.9h-.9zM70.7 97.4h.9v.9h-.9zM70.5 106.5h.9v.9h-.9zM73.9 94.2h.9v.9h-.9zM62.6 93.5h.9v.9h-.9zM87.6 89.8h.9v.9h-.9zM49.6 98.4h.9v.9h-.9zM64.1 94.2h.9v.9h-.9zM81.1 83.8h.9v.9h-.9zM74.7 94.3h.9v.9h-.9zM49.3 102.4h.9v.9h-.9zM66.6 99.3h.9v.9h-.9zM60.8 100.1h.9v.9h-.9zM39.7 98.5h.9v.9h-.9zM80.9 97.8h.9v.9h-.9zM65.6 92.7h.9v.9h-.9zM79.3 78.5h.9v.9h-.9zM56.2 104h.9v.9h-.9zM74.9 86.7h.9v.9h-.9zM41.3 114.1h.9v.9h-.9zM67.6 90.1h.9v.9h-.9zM69.6 100.8h.9v.9h-.9zM74.1 80.3h.9v.9h-.9zM75.2 81.9h.9v.9h-.9zM85 92.3h.9v.9h-.9zM99.9 80.8h.9v.9h-.9zM69.1 101.9h.9v.9h-.9zM55.9 95.3h.9v.9h-.9zM61.2 97.5h.9v.9h-.9zM51.6 104.4h.9v.9h-.9zM75.4 93.6h.9v.9h-.9zM92.1 85.3h.9v.9h-.9zM85.7 86.1h.9v.9h-.9zM74.7 81.1h.9v.9h-.9zM69.7 94h.9v.9h-.9zM58.3 95.1h.9v.9h-.9zM60.3 93.7h.9v.9h-.9zM57.7 95.9h.9v.9h-.9zM50.7 100.7h.9v.9h-.9zM78.4 90.5h.9v.9h-.9zM62.2 106.3h.9v.9h-.9zM83.6 96.1h.9v.9h-.9zM83.8 88.1h.9v.9h-.9zM67.2 103h.9v.9h-.9zM58.4 98.2h.9v.9h-.9zM73.4 96.1h.9v.9h-.9zM64.7 103h.9v.9h-.9zM65.7 101h.9v.9h-.9zM84.5 94.2h.9v.9h-.9zM75.8 85.6h.9v.9h-.9zM46 99.3h.9v.9h-.9zM77.1 102h.9v.9h-.9zM49.1 104.1h.9v.9h-.9zM52.6 96.3h.9v.9h-.9z"/>
<path fill="#e3121c" fill-opacity="0.8" d="M65.8 96.7h.9v.9h-.9zM72.3 96.1h.9v.9h-.9zM57.3 100.3h.9v.9h-.9zM80 89.8h.9v.9h-.9zM73.8 89.8h.9v.9h-.9zM54.7 96.9h.9v.9h-.9zM63.5 104.7h.9v.9h-.9zM64.2 100.4h.9v.9h-.9zM71.3 93.6h.9v.9h-.9zM76.9 88.1h.9v.9h-.9zM80.1 90.7h.9v.9h-.9zM50.5 101.7h.9v.9h-.9zM75.7 92.5h.9v.9h-.9zM87.6 85.6h.9v.9h-.9zM75.5 93.5h.9v.9h-.9zM58.6 100.8h.9v.9h-.9zM49.4 95.8h.9v.9h-.9zM73.8 88.1h.9v.9h-.9zM65.4 89.2h.9v.9h-.9zM68.2 89.9h.9v.9h-.9zM71.2 87.6h.9v.9h-.9zM73.7 90.8h.9v.9h-.9zM69.2 93h.9v.9h-.9zM68.8 89.1h.9v.9h-.9zM37 104.5h.9v.9h-.9zM56.5 96.1h.9v.9h-.9zM71.7 85.9h.9v.9h-.9zM58.5 94.9h.9v.9h-.9zM55.8 98.9h.9v.9h-.9zM65.9 91.7h.9v.9h-.9zM57.2 100h.9v.9h-.9zM61 98h.9v.9h-.9zM72.1 86h.9v.9h-.9zM55.2 98.1h.9v.9h-.9zM73.5 94.3h.9v.9h-.9zM79.4 93.1h.9v.9h-.9zM63.7 94.5h.9v.9h-.9zM77.6 89h.9v.9h-.9zM79.9 84.4h.9v.9h-.9zM76.4 90.2h.9v.9h-.9zM45.3 104.7h.9v.9h-.9zM72.3 92.2h.9v.9h-.9zM54.8 96.7h.9v.9h-.9zM86.2 84.7h.9v.9h-.9zM53.6 98.2h.9v.9h-.9zM62.7 92.5h.9v.9h-.9zM59.2 100.1h.9v.9h-.9zM52.7 105.3h.9v.9h-.9zM60.7 92.6h.9v.9h-.9zM78.7 91.8h.9v.9h-.9zM56.4 100.1h.9v.9h-.9zM45 98.6h.9v.9h-.9zM82.1 88h.9v.9h-.9zM53 100.5h.9v.9h-.9zM79.7 89.6h.9v.9h-.9zM45.9 100.1h.9v.9h-.9zM74.4 94h.9v.9h-.9zM91 84.9h.9v.9h-.9zM62.5 95.4h.9v.9h-.9zM82.4 85.6h.9v.9h-.9zM81.8 79.9h.9v.9h-.9zM77.6 88.1h.9v.9h-.9zM74.8 93.6h.9v.9h-.9zM53.9 98.3h.9v.9h-.9zM72.1 94.2h.9v.9h-.9zM56.1 94.5h.9v.9h-.9zM47.4 109.1h.9v.9h-.9zM65.9 93.7h.9v.9h-.9zM51.1 102.6h.9v.9h-.9zM63.4 100h.9v.9h-.9zM79 90h.9v.9h-.9zM76.3 87.2h.9v.9h-.9zM63.9 93.2h.9v.9h-.9zM52.9 98.9h.9v.9h-.9zM68.2 98.3h.9v.9h-.9zM56.7 96h.9v.9h-.9zM74.1 92.9h.9v.9h-.9zM68.4 92h.9v.9h-.9zM74.9 92.5h.9v.9h-.9zM45.6 100.5h.9v.9h-.9zM50.4 95.9h.9v.9h-.9zM70.4 93.1h.9v.9h-.9zM69 90.5h.9v.9h-.9zM65.1 91.7h.9v.9h-.9zM73.9 93.9h.9v.9h-.9zM91.4 89.8h.9v.9h-.9zM58.1 95.6h.9v.9h-.9zM57.3 98.4h.9v.9h-.9zM93.6 87.2h.9v.9h-.9zM40.2 99.1h.9v.9h-.9zM53.1 100.5h.9v.9h-.9zM68.8 94.4h.9v.9h-.9zM89.6 83.5h.9v.9h-.9zM60.1 102.8h.9v.9h-.9zM71.9 89.8h.9v.9h-.9zM42 97.6h.9v.9h-.9zM38.5 104h.9v.9h-.9zM70 96.2h.9v.9h-.9zM66.1 92.1h.9v.9h-.9zM61.3 102.2h.9v.9h-.9zM47 101.5h.9v.9h-.9zM69.4 95.2h.9v.9h-.9zM64 96.7h.9v.9h-.9zM78.4 89.6h.9v.9h-.9zM62.7 94.9h.9v.9h-.9zM56.4 97h.9v.9h-.9zM65 95.4h.9v.9h-.9zM86.2 91.7h.9v.9h-.9zM63.6 97.2h.9v.9h-.9zM72.9 94.5h.9v.9h-.9zM69 94.2h.9v.9h-.9zM61.9 93.2h.9v.9h-.9zM80.5 93.6h.9v.9h-.9zM77.1 92h.9v.9h-.9zM71.3 91.1h.9v.9h-.9zM47.3 103h.9v.9h-.9zM70.4 91h.9v.9h-.9zM57.9 101.3h.9v.9h-.9zM48.1 106.3h.9v.9h-.9zM78.8 97.7h.9v.9h-.9zM59.7 96.5h.9v.9h-.9zM62.4 96.1h.9v.9h-.9zM65.2 92.2h.9v.9h-.9zM80.9 86.7h.9v.9h-.9zM62.8 97.3h.9v.9h-.9zM61.5 94.5h.9v.9h-.9zM72.5 90.9h.9v.9h-.9zM53.1 98.5h.9v.9h-.9zM67.5 99.4h.9v.9h-.9zM56 101h.9v.9h-.9zM58.5 95.8h.9v.9h-.9zM64.8 95.7h.9v.9h-.9zM80.9 95h.9v.9h-.9zM62 100.1h.9v.9h-.9zM81.6 91.7h.9v.9h-.9zM60.1 99.4h.9v.9h-.9zM67.5 95h.9v.9h-.9zM65.9 96.6h.9v.9h-.9zM83.3 92.1h.9v.9h-.9zM67 97.3h.9v.9h-.9zM85.4 84.6h.9v.9h-.9zM85.2 83.4h.9v.9h-.9zM75.8 92.9h.9v.9h-.9zM87 88h.9v.9h-.9zM61.8 93.2h.9v.9h-.9zM53.9 101h.9v.9h-.9zM64.9 92.4h.9v.9h-.9zM74.3 89h.9v.9h-.9zM62.7 94h.9v.9h-.9zM90.3 90.8h.9v.9h-.9zM65 89.6h.9v.9h-.9zM72 92.5h.9v.9h-.9zM73.4 93.7h.9v.9h-.9zM65.5 97.6h.9v.9h-.9zM79 90.6h.9v.9h-.9zM63 93.8h.9v.9h-.9zM75.9 87.3h.9v.9h-.9zM65.8 92h.9v.9h-.9zM52 101.2h.9v.9h-.9zM68.2 93.7h.9v.9h-.9zM77.7 85.4h.9v.9h-.9zM68 94.6h.9v.9h-.9zM77.6 86.8h.9v.9h-.9zM77.5 91.1h.9v.9h-.9zM86.3 91.1h.9v.9h-.9zM77.4 97.5h.9v.9h-.9zM68.1 92.3h.9v.9h-.9zM63.4 92.2h.9v.9h-.9zM66.3 88.1h.9v.9h-.9zM67.9 95.1h.9v.9h-.9zM80.3 88.3h.9v.9h-.9zM84.9 85.7h.9v.9h-.9zM65 88.6h.9v.9h-.9zM58.3 94.4h.9v.9h-.9zM87 88.8h.9v.9h-.9zM55.8 99.6h.9v.9h-.9zM74 90.8h.9v.9h-.9zM68.5 92.5h.9v.9h-.9zM60.2 90.7h.9v.9h-.9zM68.7 97.6h.9v.9h-.9zM85.4 86.8h.9v.9h-.9zM59.3 96h.9v.9h-.9zM79.6 90.8h.9v.9h-.9zM61.9 96.9h.9v.9h-.9zM66.5 95.8h.9v.9h-.9zM62.2 91h.9v.9h-.9zM69.9 95.4h.9v.9h-.9zM55.1 97.8h.9v.9h-.9zM78.7 88.8h.9v.9h-.9zM62.7 102h.9v.9h-.9zM79.5 93h.9v.9h-.9zM58.8 102.1h.9v.9h-.9zM48.2 98.8h.9v.9h-.9zM78.7 94.2h.9v.9h-.9zM56.7 95.4h.9v.9h-.9zM69 87.2h.9v.9h-.9zM76.7 92.5h.9v.9h-.9zM63.7 96.9h.9v.9h-.9zM78.1 91.2h.9v.9h-.9zM76.2 95.7h.9v.9h-.9zM63 95.9h.9v.9h-.9zM63.3 98.6h.9v.9h-.9zM64.1 96.5h.9v.9h-.9zM70.2 93.1h.9v.9h-.9zM88.9 86.2h.9v.9h-.9zM86.2 90h.9v.9h-.9zM84 87.6h.9v.9h-.9zM80.3 91.8h.9v.9h-.9zM61.5 96.8h.9v.9h-.9zM66.9 93.9h.9v.9h-.9zM83.3 86.1h.9v.9h-.9zM46.8 95.4h.9v.9h-.9zM62.5 93.5h.9v.9h-.9zM69.2 95h.9v.9h-.9zM89.7 87.2h.9v.9h-.9zM73.3 89.5h.9v.9h-.9zM76.7 95h.9v.9h-.9zM82.5 82.5h.9v.9h-.9zM80.6 94.3h.9v.9h-.9zM76.8 85.9h.9v.9h-.9zM65.4 96.4h.9v.9h-.9zM72.6 89.5h.9v.9h-.9zM58.9 99.9h.9v.9h-.9zM54.1 103h.9v.9h-.9zM69 94.3h.9v.9h-.9zM52.1 97.3h.9v.9h-.9zM75.2 86.5h.9v.9h-.9zM91.6 81.1h.9v.9h-.9zM54.1 98.6h.9v.9h-.9zM74.9 93.6h.9v.9h-.9zM63.9 94.4h.9v.9h-.9zM65.2 92.8h.9v.9h-.9zM39 106.7h.9v.9h-.9zM71.6 92.9h.9v.9h-.9zM61.3 96.8h.9v.9h-.9zM68.3 93.3h.9v.9h-.9zM79.9 84.2h.9v.9h-.9zM70.4 89.5h.9v.9h-.9zM66.2 99h.9v.9h-.9zM55.6 97.6h.9v.9h-.9zM62.4 98.6h.9v.9h-.9zM55.3 92.7h.9v.9h-.9zM74.2 90.4h.9v.9h-.9zM65.8 97.8h.9v.9h-.9zM57.7 96.1h.9v.9h-.9zM70.6 94.1h.9v.9h-.9zM63.4 98.5h.9v.9h-.9zM94.6 83.2h.9v.9h-.9zM88.5 80h.9v.9h-.9zM84.8 86.8h.9v.9h-.9zM69.8 92h.9v.9h-.9zM59.7 92.5h.9v.9h-.9zM65.1 98.8h.9v.9h-.9zM81.6 87.9h.9v.9h-.9zM61.6 93.7h.9v.9h-.9zM56.1 103.5h.9v.9h-.9zM76.4 91.1h.9v.9h-.9zM61.7 92.6h.9v.9h-.9zM84.8 90.3h.9v.9h-.9zM58.2 100.2h.9v.9h-.9zM56.1 99.8h.9v.9h-.9zM56.8 96.2h.9v.9h-.9zM74.8 92.7h.9v.9h-.9zM79.6 87h.9v.9h-.9zM88.4 90.9h.9v.9h-.9zM68.8 94.9h.9v.9h-.9zM59.2 96.2h.9v.9h-.9zM53 99.1h.9v.9h-.9zM72.2 96.5h.9v.9h-.9zM80.5 91.9h.9v.9h-.9zM64 94.3h.9v.9h-.9zM64.7 95.5h.9v.9h-.9zM46.5 103.5h.9v.9h-.9zM49.5 98.4h.9v.9h-.9zM68.3 92h.9v.9h-.9zM88 86.5h.9v.9h-.9zM88.2 90.4h.9v.9h-.9zM63 96.6h.9v.9h-.9zM83.5 87.3h.9v.9h-.9zM69 91.6h.9v.9h-.9zM68.8 92.3h.9v.9h-.9zM70.4 96h.9v.9h-.9zM85.1 88.2h.9v.9h-.9zM71.7 95.1h.9v.9h-.9zM64.1 91.7h.9v.9h-.9zM80.7 86.4h.9v.9h-.9zM78.5 87h.9v.9h-.9zM89.1 83.1h.9v.9h-.9zM80 94.3h.9v.9h-.9zM58.6 101.6h.9v.9h-.9zM57.1 91.9h.9v.9h-.9zM77.7 92.5h.9v.9h-.9zM63.7 87.2h.9v.9h-.9zM67.6 92.9h.9v.9h-.9zM63.7 94.2h.9v.9h-.9zM46.8 99.2h.9v.9h-.9zM91.2 90.5h.9v.9h-.9zM63.5 93h.9v.9h-.9zM74.2 94.9h.9v.9h-.9zM75.9 87.3h.9v.9h-.9zM70.5 93.2h.9v.9h-.9zM86.6 91h.9v.9h-.9zM75.9 94.8h.9v.9h-.9zM65.3 99.4h.9v.9h-.9zM63.9 96.3h.9v.9h-.9zM78.5 87.2h.9v.9h-.9zM58.5 91.4h.9v.9h-.9zM70.4 92.7h.9v.9h-.9zM65.1 96.2h.9v.9h-.9zM43.5 102h.9v.9h-.9zM69.3 92.4h.9v.9h-.9zM79.6 95.2h.9v.9h-.9zM62.3 92.7h.9v.9h-.9zM61.5 96.2h.9v.9h-.9zM74.6 88.7h.9v.9h-.9zM79.3 86.6h.9v.9h-.9zM78.7 91.3h.9v.9h-.9zM76.1 97.7h.9v.9h-.9zM65.2 94.1h.9v.9h-.9zM75 94h.9v.9h-.9zM53 99.7h.9v.9h-.9zM60.4 98.3h.9v.9h-.9zM84.7 88.1h.9v.9h-.9zM67.4 94.4h.9v.9h-.9zM75.3 91.7h.9v.9h-.9zM63.1 93.1h.9v.9h-.9zM67.6 97.6h.9v.9h-.9zM68.6 97.7h.9v.9h-.9zM37.7 102.7h.9v.9h-.9zM71.7 92.3h.9v.9h-.9zM48.3 98.4h.9v.9h-.9zM82 84.8h.9v.9h-.9zM55.7 94.4h.9v.9h-.9zM62.6 97.6h.9v.9h-.9zM73.5 85.4h.9v.9h-.9zM85.2 85.9h.9v.9h-.9zM63.2 100.6h.9v.9h-.9zM66.3 90.3h.9v.9h-.9zM60.3 94.1h.9v.9h-.9zM56.3 96.7h.9v.9h-.9zM79.2 90.9h.9v.9h-.9zM54.9 107h.9v.9h-.9zM56.9 97.8h.9v.9h-.9zM69.6 95.5h.9v.9h-.9zM65.1 96.1h.9v.9h-.9zM93.4 85.2h.9v.9h-.9zM56 98.8h.9v.9h-.9zM58.7 95.7h.9v.9h-.9zM71 93.7h.9v.9h-.9zM66 97h.9v.9h-.9zM65 90.6h.9v.9h-.9zM78.5 88.9h.9v.9h-.9zM82.2 86.7h.9v.9h-.9zM75.6 92.1h.9v.9h-.9zM35.2 100.3h.9v.9h-.9zM56.7 102h.9v.9h-.9zM47.1 103.7h.9v.9h-.9zM81.9 90.5h.9v.9h-.9zM76 89.4h.9v.9h-.9zM68.6 94.2h.9v.9h-.9zM74.2 93.8h.9v.9h-.9zM65.4 92.4h.9v.9h-.9zM62.3 96.9h.9v.9h-.9zM47.7 96.7h.9v.9h-.9zM63.1 93.6h.9v.9h-.9zM62.7 87.1h.9v.9h-.9zM64.2 94.2h.9v.9h-.9zM75.7 84.8h.9v.9h-.9zM65.3 96.1h.9v.9h-.9zM75.4 94.9h.9v.9h-.9zM79.9 86.3h.9v.9h-.9zM75.7 90h.9v.9h-.9zM60.5 101.1h.9v.9h-.9zM60.2 93.7h.9v.9h-.9zM62.9 92.8h.9v.9h-.9zM80.8 90.5h.9v.9h-.9zM85.4 89h.9v.9h-.9zM62.2 99h.9v.9h-.9zM60.3 94.9h.9v.9h-.9zM66.6 94.3h.9v.9h-.9zM82 86.9h.9v.9h-.9zM72.6 92h.9v.9h-.9zM52.6 95.5h.9v.9h-.9zM66.3 95.5h.9v.9h-.9zM72.8 93.5h.9v.9h-.9zM68.6 92h.9v.9h-.9zM72.6 88.9h.9v.9h-.9zM52.3 98h.9v.9h-.9zM51.1 97.9h.9v.9h-.9zM59.1 95h.9v.9h-.9zM67.2 91.4h.9v.9h-.9zM61.8 90.4h.9v.9h-.9zM69.4 90.4h.9v.9h-.9zM70.5 83.9h.9v.9h-.9zM59.2 97.5h.9v.9h-.9zM39.2 102.4h.9v.9h-.9zM69.7 93.4h.9v.9h-.9zM51 100.3h.9v.9h-.9zM69.3 90.1h.9v.9h-.9zM77.3 90.3h.9v.9h-.9zM68.3 92.2h.9v.9h-.9zM75.1 91.5h.9v.9h-.9zM82.4 90.1h.9v.9h-.9zM61 95.4h.9v.9h-.9zM79 88.7h.9v.9h-.9zM73.6 93.4h.9v.9h-.9zM64.1 87.6h.9v.9h-.9zM70.3 93.6h.9v.9h-.9zM69.4 90.8h.9v.9h-.9zM82.7 88.2h.9v.9h-.9zM60.4 94h.9v.9h-.9zM71.7 88.9h.9v.9h-.9zM58.6 103.3h.9v.9h-.9zM85.1 91.1h.9v.9h-.9zM85.3 89.6h.9v.9h-.9zM49.6 103.8h.9v.9h-.9zM83.7 89.8h.9v.9h-.9zM46.4 105h.9v.9h-.9zM84.3 86.5h.9v.9h-.9zM70.8 95.2h.9v.9h-.9zM68.6 97h.9v.9h-.9zM70.1 95.1h.9v.9h-.9zM68.1 89h.9v.9h-.9zM59.7 106.6h.9v.9h-.9zM73.1 96.1h.9v.9h-.9zM83.7 93.7h.9v.9h-.9zM74.5 89.5h.9v.9h-.9zM66.8 88h.9v.9h-.9zM67.1 96.8h.9v.9h-.9zM42.9 102.9h.9v.9h-.9zM79.6 93.9h.9v.9h-.9zM56.8 95.4h.9v.9h-.9zM45.1 98.3h.9v.9h-.9zM76.9 97.2h.9v.9h-.9zM56.2 102.1h.9v.9h-.9zM73.1 90.3h.9v.9h-.9zM92.2 77.3h.9v.9h-.9zM67.9 94.4h.9v.9h-.9zM95.7 89.9h.9v.9h-.9zM95.7 84.6h.9v.9h-.9zM81.5 93.4h.9v.9h-.9zM75 92.4h.9v.9h-.9zM65.9 93.1h.9v.9h-.9zM55.7 104.1h.9v.9h-.9zM61.1 89.4h.9v.9h-.9zM71.6 92.3h.9v.9h-.9zM72.4 97.9h.9v.9h-.9zM67 93.2h.9v.9h-.9zM59.6 96.5h.9v.9h-.9zM63.5 95.9h.9v.9h-.9zM60.2 102.5h.9v.9h-.9zM79.6 92.3h.9v.9h-.9zM77.9 92.9h.9v.9h-.9zM78 94.7h.9v.9h-.9zM81.9 93.2h.9v.9h-.9zM62.5 95.6h.9v.9h-.9zM60.7 99.2h.9v.9h-.9zM78 88.7h.9v.9h-.9zM78.1 98.6h.9v.9h-.9zM82.2 85.2h.9v.9h-.9zM68 95.7h.9v.9h-.9zM68.5 94.8h.9v.9h-.9zM82.9 89.6h.9v.9h-.9zM56.1 100.1h.9v.9h-.9zM67.4 94.2h.9v.9h-.9zM60.4 91.9h.9v.9h-.9zM53.2 97.6h.9v.9h-.9zM53 90.2h.9v.9h-.9zM81.1 85.5h.9v.9h-.9zM60.3 98h.9v.9h-.9zM41 107.3h.9v.9h-.9zM59.9 98.6h.9v.9h-.9zM63 96.4h.9v.9h-.9zM69.8 93.1h.9v.9h-.9zM45.2 96.8h.9v.9h-.9zM69.4 97.7h.9v.9h-.9zM62.5 97.3h.9v.9h-.9zM70.9 94.2h.9v.9h-.9zM78.9 85.1h.9v.9h-.9zM71.6 91.9h.9v.9h-.9zM63.9 92.3h.9v.9h-.9zM58.1 93.8h.9v.9h-.9zM57.8 105.2h.9v.9h-.9zM88.9 86.5h.9v.9h-.9zM76.4 87.7h.9v.9h-.9zM71.6 97h.9v.9h-.9zM67 90.8h.9v.9h-.9zM64.6 91.6h.9v.9h-.9zM51.6 98.6h.9v.9h-.9zM62.9 92.8h.9v.9h-.9zM57 94.5h.9v.9h-.9zM72.7 96.5h.9v.9h-.9zM68.2 100.8h.9v.9h-.9zM49.4 101h.9v.9h-.9zM54.5 97.8h.9v.9h-.9zM70.3 94.7h.9v.9h-.9zM81.5 87.3h.9v.9h-.9zM53.4 98.1h.9v.9h-.9zM71.3 90.3h.9v.9h-.9zM80.9 94.6h.9v.9h-.9zM51.8 100.4h.9v.9h-.9zM78.8 83.8h.9v.9h-.9zM70.7 92h.9v.9h-.9zM52.7 103.1h.9v.9h-.9zM70.6 91.2h.9v.9h-.9zM74.4 93.5h.9v.9h-.9zM78.3 92h.9v.9h-.9zM72.2 88.5h.9v.9h-.9zM63.6 95.6h.9v.9h-.9zM37.4 111h.9v.9h-.9zM62.9 92.1h.9v.9h-.9zM47 101.7h.9v.9h-.9zM68.3 91.7h.9v.9h-.9zM62.6 92.7h.9v.9h-.9zM59.4 96.3h.9v.9h-.9zM61.5 98.1h.9v.9h-.9zM66.9 94.5h.9v.9h-.9zM74.6 95.5h.9v.9h-.9zM75.9 91.7h.9v.9h-.9zM65.8 91.9h.9v.9h-.9zM65.1 96.9h.9v.9h-.9zM70.8 91.5h.9v.9h-.9zM51 94.6h.9v.9h-.9zM73.4 95.1h.9v.9h-.9zM71.6 88h.9v.9h-.9zM66.2 95h.9v.9h-.9zM57.8 98.3h.9v.9h-.9zM65.3 91.9h.9v.9h-.9zM54.4 100.9h.9v.9h-.9zM71.9 89.5h.9v.9h-.9zM57.2 100.2h.9v.9h-.9zM75.3 90.2h.9v.9h-.9zM87.3 86.1h.9v.9h-.9zM56.9 101h.9v.9h-.9zM66.6 95.3h.9v.9h-.9zM68 90.5h.9v.9h-.9zM54.1 97.8h.9v.9h-.9zM84.3 84.8h.9v.9h-.9zM85 88.5h.9v.9h-.9zM55.4 98.8h.9v.9h-.9zM74.4 88.6h.9v.9h-.9zM43.4 103.3h.9v.9h-.9zM55.7 99.3h.9v.9h-.9zM45.5 101h.9v.9h-.9zM57.4 92.6h.9v.9h-.9zM65.8 95h.9v.9h-.9zM60.7 92.4h.9v.9h-.9zM69.3 87.6h.9v.9h-.9zM75.4 92.7h.9v.9h-.9zM89.4 89.1h.9v.9h-.9zM73 92.8h.9v.9h-.9zM67.5 89.6h.9v.9h-.9zM86.5 89h.9v.9h-.9zM64 91.4h.9v.9h-.9zM86.8 88.9h.9v.9h-.9zM55 100.3h.9v.9h-.9zM91.1 85.6h.9v.9h-.9zM72.9 90.7h.9v.9h-.9zM62 99.1h.9v.9h-.9zM67.8 96.3h.9v.9h-.9zM65.6 96.8h.9v.9h-.9zM77.4 87.2h.9v.9h-.9zM55.6 97.7h.9v.9h-.9zM78.7 90.9h.9v.9h-.9zM82 84.5h.9v.9h-.9zM73.8 89.7h.9v.9h-.9zM70 94h.9v.9h-.9zM56.7 96.8h.9v.9h-.9zM54.9 99h.9v.9h-.9zM57.9 95.6h.9v.9h-.9zM70.5 90.7h.9v.9h-.9zM81.6 87h.9v.9h-.9zM78.9 90.8h.9v.9h-.9zM56 97.1h.9v.9h-.9zM58.2 95.9h.9v.9h-.9zM67 99.8h.9v.9h-.9zM65 99.7h.9v.9h-.9zM72.5 88h.9v.9h-.9zM41.6 104.9h.9v.9h-.9zM45.5 103.7h.9v.9h-.9zM81.1 90.4h.9v.9h-.9zM65.8 93.6h.9v.9h-.9zM71.3 91.6h.9v.9h-.9zM61.8 94.6h.9v.9h-.9zM81.8 86.9h.9v.9h-.9zM71.9 88.7h.9v.9h-.9zM58.7 92.5h.9v.9h-.9zM66.8 96.2h.9v.9h-.9zM71.7 90.8h.9v.9h-.9zM75.4 90h.9v.9h-.9zM73.2 92.8h.9v.9h-.9zM72.5 84.3h.9v.9h-.9zM53.8 101h.9v.9h-.9zM69.4 100.3h.9v.9h-.9zM65.2 92.9h.9v.9h-.9zM86.8 89h.9v.9h-.9zM91.6 87.2h.9v.9h-.9zM66.8 96.4h.9v.9h-.9zM58.7 95.5h.9v.9h-.9zM61.7 95.1h.9v.9h-.9zM77.3 88.9h.9v.9h-.9zM71.8 90.8h.9v.9h-.9zM76.3 82.1h.9v.9h-.9zM66.2 94.8h.9v.9h-.9zM56.7 100.8h.9v.9h-.9zM72.3 96.2h.9v.9h-.9zM80.6 91.4h.9v.9h-.9zM65.7 91h.9v.9h-.9zM65.4 93.1h.9v.9h-.9zM71 91.2h.9v.9h-.9zM82 87.4h.9v.9h-.9zM66.5 97.1h.9v.9h-.9zM67.4 90.1h.9v.9h-.9zM73.2 91.3h.9v.9h-.9zM44.3 102.5h.9v.9h-.9zM55.2 95.7h.9v.9h-.9zM74.5 92.4h.9v.9h-.9zM67.2 100.8h.9v.9h-.9zM72.9 90h.9v.9h-.9zM71.2 92.2h.9v.9h-.9zM40.8 98h.9v.9h-.9zM54 105h.9v.9h-.9zM66 93.5h.9v.9h-.9zM62.8 98.6h.9v.9h-.9zM70.5 98.2h.9v.9h-.9zM79.5 94.9h.9v.9h-.9zM67.5 95h.9v.9h-.9zM63.2 94.8h.9v.9h-.9zM47.4 98.9h.9v.9h-.9zM56.6 95.5h.9v.9h-.9zM83.2 89.3h.9v.9h-.9zM83.9 90.9h.9v.9h-.9zM80.4 92.6h.9v.9h-.9zM62.1 98.2h.9v.9h-.9zM64.2 93.3h.9v.9h-.9zM84.8 94.7h.9v.9h-.9zM58.6 102.4h.9v.9h-.9zM77.5 87.7h.9v.9h-.9zM72.1 93.4h.9v.9h-.9zM72.6 91h.9v.9h-.9zM53.3 98.8h.9v.9h-.9zM79.5 92.2h.9v.9h-.9zM77.4 93.9h.9v.9h-.9zM56.7 97.4h.9v.9h-.9zM73.5 94.9h.9v.9h-.9zM70.9 94.3h.9v.9h-.9zM72.1 98.9h.9v.9h-.9zM42.6 102.3h.9v.9h-.9zM98 84.1h.9v.9h-.9zM46.9 101.3h.9v.9h-.9zM50.9 97.4h.9v.9h-.9zM72.8 97.4h.9v.9h-.9zM74.6 93.5h.9v.9h-.9zM80.8 89.9h.9v.9h-.9zM58.3 96.7h.9v.9h-.9zM72.2 91.3h.9v.9h-.9zM60.2 95.2h.9v.9h-.9zM49.7 96.7h.9v.9h-.9zM67.1 92.9h.9v.9h-.9zM70.3 97.3h.9v.9h-.9zM72 92.2h.9v.9h-.9zM53.6 95.2h.9v.9h-.9zM72.1 89.5h.9v.9h-.9zM72.5 88.7h.9v.9h-.9zM70 92.7h.9v.9h-.9zM79.9 88.3h.9v.9h-.9zM64.3 95.7h.9v.9h-.9zM70.8 98h.9v.9h-.9zM64.9 93h.9v.9h-.9zM65.2 96.1h.9v.9h-.9zM71.9 94.5h.9v.9h-.9zM54.5 106.1h.9v.9h-.9zM90.2 85.9h.9v.9h-.9zM54.4 98.9h.9v.9h-.9zM71.2 85.5h.9v.9h-.9zM67.2 89.3h.9v.9h-.9zM75.3 95.5h.9v.9h-.9zM79.3 85h.9v.9h-.9zM85.7 90.4h.9v.9h-.9zM64.7 96.4h.9v.9h-.9zM86.1 86.4h.9v.9h-.9zM67.8 92h.9v.9h-.9zM80.1 82.7h.9v.9h-.9zM84.4 85h.9v.9h-.9zM77.9 85.1h.9v.9h-.9zM56.8 95.6h.9v.9h-.9zM76.7 85.6h.9v.9h-.9zM75 89.3h.9v.9h-.9zM82.9 87.6h.9v.9h-.9zM74.1 91h.9v.9h-.9zM89.4 85.2h.9v.9h-.9zM70.1 99.2h.9v.9h-.9zM70.1 95.1h.9v.9h-.9zM60 97.1h.9v.9h-.9zM41.8 103h.9v.9h-.9zM59.4 91.9h.9v.9h-.9zM52.9 102.5h.9v.9h-.9zM72.1 87.5h.9v.9h-.9zM89.3 84.2h.9v.9h-.9zM64.4 95.7h.9v.9h-.9zM53.5 93.6h.9v.9h-.9zM60.8 99.9h.9v.9h-.9zM78.2 85.2h.9v.9h-.9zM82.8 88.7h.9v.9h-.9zM74.5 91.6h.9v.9h-.9zM72.4 89h.9v.9h-.9zM57.1 95.2h.9v.9h-.9zM64.7 96.7h.9v.9h-.9zM55.7 102.9h.9v.9h-.9zM60.4 94.4h.9v.9h-.9zM77.2 91.9h.9v.9h-.9zM63.5 91.9h.9v.9h-.9zM55.1 93.1h.9v.9h-.9zM83.1 91.9h.9v.9h-.9zM91.1 87.3h.9v.9h-.9zM73.2 94.3h.9v.9h-.9zM79.5 88.9h.9v.9h-.9zM74.8 98.1h.9v.9h-.9zM47.1 96.4h.9v.9h-.9zM57.8 99.5h.9v.9h-.9zM82.2 87.7h.9v.9h-.9zM76.4 90.6h.9v.9h-.9zM71.5 90.8h.9v.9h-.9zM68.2 93.6h.9v.9h-.9zM84.1 95.2h.9v.9h-.9zM47.5 102.4h.9v.9h-.9zM69.4 96.3h.9v.9h-.9zM81.8 91.4h.9v.9h-.9zM77.1 87.5h.9v.9h-.9zM49.9 105.2h.9v.9h-.9zM81.9 85.9h.9v.9h-.9zM84.4 90.1h.9v.9h-.9zM40.3 106h.9v.9h-.9zM57.9 100.8h.9v.9h-.9zM59.7 94.2h.9v.9h-.9zM50 99.2h.9v.9h-.9zM79.9 87.5h.9v.9h-.9zM48.6 107.1h.9v.9h-.9zM91 87.9h.9v.9h-.9zM61 92.3h.9v.9h-.9zM49.6 101.8h.9v.9h-.9zM82.9 85.2h.9v.9h-.9zM68.2 92.7h.9v.9h-.9zM66 96h.9v.9h-.9zM92.7 83.2h.9v.9h-.9zM79.6 93.1h.9v.9h-.9zM65 94.2h.9v.9h-.9zM53.7 102h.9v.9h-.9zM61.6 93.8h.9v.9h-.9zM68.5 90.8h.9v.9h-.9zM55.9 96.9h.9v.9h-.9zM85.9 86.9h.9v.9h-.9zM73.3 87.2h.9v.9h-.9zM47.2 106.6h.9v.9h-.9zM62.3 90.8h.9v.9h-.9zM67.8 95.6h.9v.9h-.9zM47.2 98.1h.9v.9h-.9zM70.7 89.8h.9v.9h-.9zM78.9 93h.9v.9h-.9zM73.3 90.5h.9v.9h-.9zM67.3 91.9h.9v.9h-.9zM67.3 94.9h.9v.9h-.9zM65.9 97.5h.9v.9h-.9zM98.7 81.4h.9v.9h-.9zM73.4 94.4h.9v.9h-.9zM75.9 90.2h.9v.9h-.9zM63.8 98.3h.9v.9h-.9zM76.4 92.4h.9v.9h-.9zM59.6 98.6h.9v.9h-.9zM77.8 89.7h.9v.9h-.9zM78.3 97h.9v.9h-.9zM46.8 102.9h.9v.9h-.9zM53.3 94.4h.9v.9h-.9zM66.2 96h.9v.9h-.9zM68 90h.9v.9h-.9zM50.9 97.8h.9v.9h-.9zM67.9 91.1h.9v.9h-.9zM52.3 104.6h.9v.9h-.9zM58.4 96.5h.9v.9h-.9zM61.4 94.1h.9v.9h-.9zM68.7 92.5h.9v.9h-.9zM74.7 87.6h.9v.9h-.9zM52.7 105.1h.9v.9h-.9zM68.4 96h.9v.9h-.9zM83.1 90.2h.9v.9h-.9zM67.4 88.9h.9v.9h-.9zM50.4 102.8h.9v.9h-.9zM77.1 92.3h.9v.9h-.9zM46.7 94.2h.9v.9h-.9zM54.8 94.5h.9v.9h-.9zM69.4 89.9h.9v.9h-.9zM86.7 85.2h.9v.9h-.9zM62.7 98.3h.9v.9h-.9zM71.5 89.6h.9v.9h-.9zM80.2 95.6h.9v.9h-.9zM53.6 97.8h.9v.9h-.9zM53.8 92.4h.9v.9h-.9zM76.7 92.9h.9v.9h-.9zM80.5 90.7h.9v.9h-.9zM44.5 101.7h.9v.9h-.9zM59.4 92.9h.9v.9h-.9zM56 100.2h.9v.9h-.9zM66.9 100.3h.9v.9h-.9zM72.2 86.1h.9v.9h-.9zM80.4 93.4h.9v.9h-.9zM67.7 89.9h.9v.9h-.9zM88.3 82.5h.9v.9h-.9zM65.6 88.4h.9v.9h-.9zM51.8 93.8h.9v.9h-.9zM82.7 92.4h.9v.9h-.9zM62.3 91.3h.9v.9h-.9zM68.2 94.8h.9v.9h-.9zM49.1 96.5h.9v.9h-.9zM68 95.9h.9v.9h-.9zM69.8 94.5h.9v.9h-.9zM51.1 91.5h.9v.9h-.9zM71.3 89.6h.9v.9h-.9zM66.6 92.9h.9v.9h-.9zM73.5 89.3h.9v.9h-.9zM85.8 87.6h.9v.9h-.9zM75.5 93.1h.9v.9h-.9zM81.3 90.4h.9v.9h-.9zM46.9 98.9h.9v.9h-.9zM91.3 87.2h.9v.9h-.9zM75.7 92.5h.9v.9h-.9zM60.1 94.2h.9v.9h-.9zM61.9 99.5h.9v.9h-.9zM74.6 97.1h.9v.9h-.9zM76.4 96.9h.9v.9h-.9zM72.8 88.2h.9v.9h-.9zM89.8 87.3h.9v.9h-.9zM83.1 89.2h.9v.9h-.9zM64.7 95.3h.9v.9h-.9zM53.8 94.7h.9v.9h-.9zM57.3 95.7h.9v.9h-.9zM52.1 98.8h.9v.9h-.9zM74.2 98.1h.9v.9h-.9zM90.6 85.7h.9v.9h-.9zM78.9 89.2h.9v.9h-.9zM73.2 91.8h.9v.9h-.9zM62.1 96h.9v.9h-.9zM51.1 100.9h.9v.9h-.9zM63.9 91.6h.9v.9h-.9zM64.7 96.6h.9v.9h-.9zM60.8 97.7h.9v.9h-.9zM76.9 95.6h.9v.9h-.9zM55.2 97.7h.9v.9h-.9zM76.2 95.7h.9v.9h-.9zM72.4 94.6h.9v.9h-.9zM50.2 97.9h.9v.9h-.9zM88.3 85.8h.9v.9h-.9zM94 82.4h.9v.9h-.9zM63.5 90.1h.9v.9h-.9zM76.5 91.6h.9v.9h-.9zM93.1 85.6h.9v.9h-.9zM64.1 90.5h.9v.9h-.9zM68.4 96.6h.9v.9h-.9zM78.7 94h.9v.9h-.9zM78.9 89.8h.9v.9h-.9zM76 91.5h.9v.9h-.9zM54 104h.9v.9h-.9zM72 88.9h.9v.9h-.9zM73.5 92.7h.9v.9h-.9zM82 93.5h.9v.9h-.9zM86.1 84.3h.9v.9h-.9zM46.2 102.1h.9v.9h-.9zM72.9 93.1h.9v.9h-.9zM54.5 96.8h.9v.9h-.9zM71.6 94.8h.9v.9h-.9zM95.5 85.2h.9v.9h-.9zM58.8 89.2h.9v.9h-.9zM81.4 88.6h.9v.9h-.9zM66.2 91.1h.9v.9h-.9zM75.6 85.2h.9v.9h-.9zM69.9 93.4h.9v.9h-.9zM73.5 96h.9v.9h-.9zM67.4 94.2h.9v.9h-.9zM77.4 85.4h.9v.9h-.9zM65 94.9h.9v.9h-.9zM79.3 87.2h.9v.9h-.9zM78.7 91.2h.9v.9h-.9zM48.9 95.4h.9v.9h-.9zM51.2 99.9h.9v.9h-.9zM71.7 94.7h.9v.9h-.9zM78 88.4h.9v.9h-.9zM82.4 91.4h.9v.9h-.9zM74.7 92.9h.9v.9h-.9zM53.2 100h.9v.9h-.9zM54.7 94.4h.9v.9h-.9zM64.4 95.4h.9v.9h-.9zM67.5 92.8h.9v.9h-.9zM56.5 98.3h.9v.9h-.9zM58 92.5h.9v.9h-.9zM71.1 97.3h.9v.9h-.9zM62.5 92.1h.9v.9h-.9zM87.1 92.7h.9v.9h-.9zM64.7 94.1h.9v.9h-.9zM74.1 101.2h.9v.9h-.9zM71.1 95.8h.9v.9h-.9zM72.1 86.3h.9v.9h-.9zM53.8 94.5h.9v.9h-.9zM73.9 92h.9v.9h-.9zM90.1 85.2h.9v.9h-.9zM72.3 92.4h.9v.9h-.9zM72.5 99.7h.9v.9h-.9zM73.5 96.6h.9v.9h-.9zM83.8 86.3h.9v.9h-.9zM76.5 89.5h.9v.9h-.9zM70 93.5h.9v.9h-.9zM68.3 92h.9v.9h-.9zM87.3 86.2h.9v.9h-.9zM78.8 95.4h.9v.9h-.9zM77.2 93.9h.9v.9h-.9zM86.6 90.8h.9v.9h-.9zM88.1 82.1h.9v.9h-.9zM92.5 85.3h.9v.9h-.9zM46.4 99h.9v.9h-.9zM51.4 99.3h.9v.9h-.9zM49.2 96.8h.9v.9h-.9zM72.3 92.7h.9v.9h-.9zM58.5 96.2h.9v.9h-.9zM67.4 94.1h.9v.9h-.9zM68.2 92.9h.9v.9h-.9zM77.7 85.1h.9v.9h-.9zM62.6 96h.9v.9h-.9zM63 93.6h.9v.9h-.9zM63.3 96h.9v.9h-.9zM83.6 87.7h.9v.9h-.9zM65.6 95.7h.9v.9h-.9zM63.6 88.9h.9v.9h-.9zM71.4 91.3h.9v.9h-.9zM62.1 97.8h.9v.9h-.9zM68.5 91.7h.9v.9h-.9zM40 97.7h.9v.9h-.9zM68.6 93.1h.9v.9h-.9zM74.1 92.3h.9v.9h-.9zM61.3 91.8h.9v.9h-.9zM54.9 97.7h.9v.9h-.9zM55.2 100.6h.9v.9h-.9zM50.4 93.9h.9v.9h-.9zM64.3 89.1h.9v.9h-.9zM87.5 83.7h.9v.9h-.9zM67.6 93h.9v.9h-.9zM56.6 91.8h.9v.9h-.9zM46.5 103.9h.9v.9h-.9zM83.2 95.5h.9v.9h-.9zM51.1 101.3h.9v.9h-.9zM69.2 96h.9v.9h-.9zM62.9 97.8h.9v.9h-.9zM80.1 91.5h.9v.9h-.9zM86.1 86.9h.9v.9h-.9zM86.8 84.9h.9v.9h-.9zM86.2 78.4h.9v.9h-.9zM67.9 91.1h.9v.9h-.9zM69.6 96.5h.9v.9h-.9zM77.4 90.7h.9v.9h-.9zM87.9 82h.9v.9h-.9zM60 101.4h.9v.9h-.9zM70.4 86h.9v.9h-.9zM71.5 88.6h.9v.9h-.9zM87.8 90.6h.9v.9h-.9zM63.1 99.6h.9v.9h-.9zM59.2 99.7h.9v.9h-.9zM75.5 90.7h.9v.9h-.9zM50.7 98.7h.9v.9h-.9zM39.8 101.5h.9v.9h-.9zM47 104.9h.9v.9h-.9zM54.2 90.5h.9v.9h-.9zM76.1 92.1h.9v.9h-.9zM64.4 101.9h.9v.9h-.9zM78.1 90.4h.9v.9h-.9zM57.6 87.6h.9v.9h-.9zM75.4 94.3h.9v.9h-.9zM59.8 91.9h.9v.9h-.9zM66.3 88.8h.9v.9h-.9zM69.4 95.7h.9v.9h-.9zM87.3 87.9h.9v.9h-.9zM71.7 94.9h.9v.9h-.9zM85.4 86.6h.9v.9h-.9zM52.6 96.4h.9v.9h-.9zM52.1 96.2h.9v.9h-.9zM67.4 95h.9v.9h-.9zM70.5 93h.9v.9h-.9zM64.5 96.3h.9v.9h-.9zM80.2 92h.9v.9h-.9zM86.6 86.3h.9v.9h-.9zM67.1 99.5h.9v.9h-.9zM71.4 93.9h.9v.9h-.9zM65.3 97.8h.9v.9h-.9zM62.5 92.2h.9v.9h-.9zM67.3 92.5h.9v.9h-.9zM78.4 88.9h.9v.9h-.9zM69.8 92.3h.9v.9h-.9zM72 90.2h.9v.9h-.9zM80.6 84.7h.9v.9h-.9zM63 93.1h.9v.9h-.9zM76.5 90.9h.9v.9h-.9zM74.1 90.5h.9v.9h-.9zM58.5 93.3h.9v.9h-.9zM63.9 93.3h.9v.9h-.9zM72.3 93.4h.9v.9h-.9zM80.4 89.1h.9v.9h-.9zM58.2 93.6h.9v.9h-.9zM69.6 94.3h.9v.9h-.9zM92.6 85.8h.9v.9h-.9zM92 91.6h.9v.9h-.9zM56.8 101.5h.9v.9h-.9zM83.8 92.6h.9v.9h-.9zM69.3 96.3h.9v.9h-.9zM62.5 95.3h.9v.9h-.9zM70.5 98.6h.9v.9h-.9zM66.8 97.2h.9v.9h-.9zM68.6 91.1h.9v.9h-.9zM72.1 94.4h.9v.9h-.9zM60.4 98.4h.9v.9h-.9zM58.9 93.9h.9v.9h-.9zM71 91.9h.9v.9h-.9zM54.8 92.9h.9v.9h-.9zM69 94.1h.9v.9h-.9zM63 96h.9v.9h-.9zM50.1 101.1h.9v.9h-.9zM73.9 92.6h.9v.9h-.9zM61 96.3h.9v.9h-.9zM71.2 96.1h.9v.9h-.9zM72.1 93.1h.9v.9h-.9zM60.5 99.1h.9v.9h-.9zM82.4 87.1h.9v.9h-.9zM76.7 91.7h.9v.9h-.9zM66.6 89.9h.9v.9h-.9zM88.2 80.6h.9v.9h-.9zM71.8 91.1h.9v.9h-.9zM82.1 87.4h.9v.9h-.9zM69.6 95.1h.9v.9h-.9zM73.6 90h.9v.9h-.9zM77.3 91.8h.9v.9h-.9zM80.1 87.8h.9v.9h-.9zM67.5 92.5h.9v.9h-.9zM58.5 97.8h.9v.9h-.9zM75 95.9h.9v.9h-.9zM64.9 96h.9v.9h-.9zM82.4 88.3h.9v.9h-.9zM69.4 93.6h.9v.9h-.9zM59 93.5h.9v.9h-.9zM82.4 89.3h.9v.9h-.9zM66.3 90.2h.9v.9h-.9zM71.1 96.4h.9v.9h-.9zM53.5 95.7h.9v.9h-.9zM83.5 93h.9v.9h-.9zM87 85.3h.9v.9h-.9zM75.1 88.8h.9v.9h-.9zM74.5 90.2h.9v.9h-.9zM72.2 96.6h.9v.9h-.9zM72.4 91.4h.9v.9h-.9zM69.5 94h.9v.9h-.9zM62.4 96.3h.9v.9h-.9zM77.4 95.5h.9v.9h-.9zM42.1 98.7h.9v.9h-.9zM54.3 101.3h.9v.9h-.9zM98.5 83.8h.9v.9h-.9zM71.1 96.3h.9v.9h-.9zM38.5 103.3h.9v.9h-.9zM61.8 94.2h.9v.9h-.9zM72.1 90.4h.9v.9h-.9zM82.1 88.8h.9v.9h-.9zM75.7 99.3h.9v.9h-.9zM64 98.1h.9v.9h-.9zM59.7 100.6h.9v.9h-.9zM80.4 89.9h.9v.9h-.9zM82.2 94h.9v.9h-.9zM85.3 87.7h.9v.9h-.9zM68.9 97h.9v.9h-.9zM50 97.9h.9v.9h-.9zM75 93.1h.9v.9h-.9zM92.9 90.8h.9v.9h-.9zM72.9 93.4h.9v.9h-.9zM52.3 98.5h.9v.9h-.9zM71.5 91.7h.9v.9h-.9zM69.8 95h.9v.9h-.9zM56.3 95.8h.9v.9h-.9zM48 104.3h.9v.9h-.9zM54 93h.9v.9h-.9zM77.7 89.7h.9v.9h-.9zM79.9 88.4h.9v.9h-.9zM95.1 86.7h.9v.9h-.9zM70.4 93.2h.9v.9h-.9zM66.8 96.7h.9v.9h-.9zM92.4 83.9h.9v.9h-.9zM55.9 99.8h.9v.9h-.9zM80 84.7h.9v.9h-.9zM59.1 93.5h.9v.9h-.9zM75.8 92.6h.9v.9h-.9zM58.5 93.3h.9v.9h-.9zM74.7 84.7h.9v.9h-.9zM76.2 90.4h.9v.9h-.9zM92.8 88.4h.9v.9h-.9zM61.2 95.1h.9v.9h-.9zM64.4 92.6h.9v.9h-.9zM70.5 95.9h.9v.9h-.9zM50 99.1h.9v.9h-.9zM87.3 89.4h.9v.9h-.9zM57.8 94.6h.9v.9h-.9zM56.5 92.4h.9v.9h-.9zM82.5 88.9h.9v.9h-.9zM58.6 92.3h.9v.9h-.9zM63.3 93.6h.9v.9h-.9zM88.9 85h.9v.9h-.9zM71 96.1h.9v.9h-.9zM76.4 90.2h.9v.9h-.9zM43.5 106.6h.9v.9h-.9zM75.3 89.8h.9v.9h-.9zM66.5 91.1h.9v.9h-.9zM56.2 93h.9v.9h-.9zM75.1 92.9h.9v.9h-.9zM71.4 95h.9v.9h-.9zM75.1 91.6h.9v.9h-.9zM58.4 98.9h.9v.9h-.9zM83.5 90.4h.9v.9h-.9zM83.1 86.9h.9v.9h-.9zM57.9 101.2h.9v.9h-.9zM61.7 96.6h.9v.9h-.9zM66.2 94.4h.9v.9h-.9zM64.7 93.1h.9v.9h-.9zM48.9 106.4h.9v.9h-.9zM69.1 87.1h.9v.9h-.9zM56.4 94h.9v.9h-.9zM57 89.3h.9v.9h-.9zM77.1 95.8h.9v.9h-.9zM66.3 96.7h.9v.9h-.9zM74.5 87.4h.9v.9h-.9zM81.5 83.6h.9v.9h-.9zM61.2 94.9h.9v.9h-.9zM83.8 88.6h.9v.9h-.9zM66.2 91.7h.9v.9h-.9zM69.6 93.2h.9v.9h-.9zM78.7 94.5h.9v.9h-.9zM77.4 90.5h.9v.9h-.9zM68.2 98.7h.9v.9h-.9zM70.9 92.6h.9v.9h-.9zM91.7 90.6h.9v.9h-.9zM75.2 90.8h.9v.9h-.9zM61.9 99.2h.9v.9h-.9zM64 98.1h.9v.9h-.9zM59.2 97h.9v.9h-.9zM73.5 92.2h.9v.9h-.9zM71.7 93.6h.9v.9h-.9zM53.9 95h.9v.9h-.9zM68.5 99.3h.9v.9h-.9zM66.1 91.4h.9v.9h-.9zM60.6 96.3h.9v.9h-.9zM82.2 87h.9v.9h-.9zM75.4 91.7h.9v.9h-.9zM63.3 92.3h.9v.9h-.9zM66 92.1h.9v.9h-.9zM73.2 86.2h.9v.9h-.9zM82.8 91h.9v.9h-.9zM76.9 95.4h.9v.9h-.9zM74.1 86.1h.9v.9h-.9zM69.6 94.6h.9v.9h-.9zM59.2 93.1h.9v.9h-.9zM74.2 93.2h.9v.9h-.9zM63.2 94.6h.9v.9h-.9zM61.9 94h.9v.9h-.9zM68.9 96.8h.9v.9h-.9zM48.9 99.2h.9v.9h-.9zM88.2 87.7h.9v.9h-.9zM71.2 95.3h.9v.9h-.9zM55.3 94.2h.9v.9h-.9zM47.2 96.2h.9v.9h-.9zM72.3 94.9h.9v.9h-.9zM62.8 93.3h.9v.9h-.9zM73.9 93.6h.9v.9h-.9zM69.7 87h.9v.9h-.9zM59.5 88.5h.9v.9h-.9zM70.6 90.1h.9v.9h-.9zM62.1 100.5h.9v.9h-.9zM84.8 89.4h.9v.9h-.9zM72 92.9h.9v.9h-.9zM61.4 95.8h.9v.9h-.9zM90.5 83.1h.9v.9h-.9zM60.7 96.7h.9v.9h-.9zM80 92.2h.9v.9h-.9zM56.8 97.1h.9v.9h-.9zM64.1 91.1h.9v.9h-.9zM69 91.8h.9v.9h-.9zM79.9 90.9h.9v.9h-.9zM59.3 96.9h.9v.9h-.9zM63.6 93.2h.9v.9h-.9zM63.7 98.5h.9v.9h-.9zM61.9 90.3h.9v.9h-.9zM60 99h.9v.9h-.9zM93.2 81.6h.9v.9h-.9zM63.9 94h.9v.9h-.9zM52.1 100.4h.9v.9h-.9zM68.2 94.5h.9v.9h-.9zM95 83.5h.9v.9h-.9zM78.8 92.6h.9v.9h-.9zM60.3 94.4h.9v.9h-.9zM87.8 89.1h.9v.9h-.9zM69.1 89.8h.9v.9h-.9zM79.6 91.4h.9v.9h-.9zM96.2 88.7h.9v.9h-.9zM78.4 91h.9v.9h-.9zM68.7 91.7h.9v.9h-.9zM72.4 92.9h.9v.9h-.9zM77.4 93.9h.9v.9h-.9zM71.7 90.7h.9v.9h-.9zM79.7 94.6h.9v.9h-.9zM58.9 98.1h.9v.9h-.9zM75.6 92.8h.9v.9h-.9zM74.4 91.2h.9v.9h-.9zM68.9 98.7h.9v.9h-.9zM87.8 82.4h.9v.9h-.9zM38.6 105.2h.9v.9h-.9zM59.9 94.8h.9v.9h-.9zM49.8 101.1h.9v.9h-.9zM67.3 92.2h.9v.9h-.9zM81.6 96.7h.9v.9h-.9zM87.3 90.8h.9v.9h-.9zM64.2 97.1h.9v.9h-.9zM69.2 97h.9v.9h-.9zM75.4 91h.9v.9h-.9zM74.4 89.2h.9v.9h-.9zM79.4 94.5h.9v.9h-.9zM64.7 96.6h.9v.9h-.9zM49.5 103h.9v.9h-.9zM78 87h.9v.9h-.9zM89.4 86.7h.9v.9h-.9zM46.5 96.7h.9v.9h-.9zM78.7 89.1h.9v.9h-.9zM80.2 84.5h.9v.9h-.9zM68.3 96.7h.9v.9h-.9zM61.1 98.2h.9v.9h-.9zM64.6 96h.9v.9h-.9zM74.5 98.5h.9v.9h-.9zM54.5 100.8h.9v.9h-.9zM83.1 84.9h.9v.9h-.9zM71.7 99.7h.9v.9h-.9zM78.1 80.7h.9v.9h-.9zM64 89.6h.9v.9h-.9zM71.4 90.2h.9v.9h-.9zM61 93.4h.9v.9h-.9zM71.6 91h.9v.9h-.9zM57.5 96.6h.9v.9h-.9zM72.5 89.4h.9v.9h-.9zM80.1 84.2h.9v.9h-.9zM73 90.7h.9v.9h-.9zM86.7 85.2h.9v.9h-.9zM59.3 92.4h.9v.9h-.9zM92.8 87.1h.9v.9h-.9zM55.2 97h.9v.9h-.9zM58.6 101.8h.9v.9h-.9zM71.5 86h.9v.9h-.9zM71.9 95.2h.9v.9h-.9zM69 94.8h.9v.9h-.9zM67.4 94.5h.9v.9h-.9zM70.4 90.6h.9v.9h-.9zM72.8 92.5h.9v.9h-.9zM67.4 91.7h.9v.9h-.9zM56.6 98.4h.9v.9h-.9zM76 83.2h.9v.9h-.9zM63.4 99.6h.9v.9h-.9zM78.7 87.7h.9v.9h-.9zM83.7 85.1h.9v.9h-.9zM61 102.3h.9v.9h-.9zM63.1 94.7h.9v.9h-.9zM47.8 97.4h.9v.9h-.9zM54.3 97.9h.9v.9h-.9zM47.6 104.1h.9v.9h-.9zM63.7 93.2h.9v.9h-.9zM61.7 98.2h.9v.9h-.9zM86.4 86h.9v.9h-.9zM89.4 91.5h.9v.9h-.9zM84.8 88.8h.9v.9h-.9zM51.4 101.6h.9v.9h-.9zM63.8 95.7h.9v.9h-.9zM45.7 100.5h.9v.9h-.9zM70.4 89.9h.9v.9h-.9zM73.7 97.1h.9v.9h-.9zM70.6 90.6h.9v.9h-.9zM94.9 77.5h.9v.9h-.9zM57.9 98.5h.9v.9h-.9zM59.2 89.4h.9v.9h-.9zM72.4 94.8h.9v.9h-.9zM60.4 101h.9v.9h-.9zM75.7 94.8h.9v.9h-.9zM50.2 99.8h.9v.9h-.9zM89.6 92.7h.9v.9h-.9zM84.3 88.1h.9v.9h-.9zM70.1 91h.9v.9h-.9zM81 87h.9v.9h-.9zM68 87.1h.9v.9h-.9zM52.2 104.8h.9v.9h-.9zM69.4 93.9h.9v.9h-.9zM42.2 102.5h.9v.9h-.9zM91.8 80.7h.9v.9h-.9zM39.9 102.8h.9v.9h-.9zM61.9 95.1h.9v.9h-.9zM52.1 94.8h.9v.9h-.9zM54.3 100.4h.9v.9h-.9zM68.7 96h.9v.9h-.9zM56.1 99.6h.9v.9h-.9zM63.3 95.6h.9v.9h-.9zM79.7 89.7h.9v.9h-.9zM62.6 90.2h.9v.9h-.9zM70 95.5h.9v.9h-.9zM60.8 95.9h.9v.9h-.9zM45.9 97h.9v.9h-.9zM74.6 95.5h.9v.9h-.9zM63.1 90h.9v.9h-.9zM62.4 90.6h.9v.9h-.9zM67.1 100.2h.9v.9h-.9zM71.9 91.8h.9v.9h-.9zM80.6 88.1h.9v.9h-.9zM72.7 92.7h.9v.9h-.9zM72.4 87.4h.9v.9h-.9zM77.9 93.1h.9v.9h-.9zM38.3 95.2h.9v.9h-.9zM59.2 101.5h.9v.9h-.9zM69.4 95.4h.9v.9h-.9zM76.1 93.8h.9v.9h-.9zM60.2 94.5h.9v.9h-.9zM73.6 93.7h.9v.9h-.9zM75.8 92.1h.9v.9h-.9zM63.7 98.7h.9v.9h-.9zM75.2 94.6h.9v.9h-.9zM38.8 107h.9v.9h-.9zM39.2 104.3h.9v.9h-.9zM60.6 96.6h.9v.9h-.9zM62.4 94.6h.9v.9h-.9zM71.2 93.7h.9v.9h-.9zM56.3 89.5h.9v.9h-.9zM59.6 98.3h.9v.9h-.9zM58.7 98.3h.9v.9h-.9zM63.1 92.3h.9v.9h-.9zM84.3 93.4h.9v.9h-.9zM67.2 93.8h.9v.9h-.9zM78.8 85.7h.9v.9h-.9zM59 100.4h.9v.9h-.9zM78.9 88.3h.9v.9h-.9zM59.4 97.8h.9v.9h-.9zM50.9 97.9h.9v.9h-.9zM63.2 87.3h.9v.9h-.9zM76.4 93.2h.9v.9h-.9zM80 84.9h.9v.9h-.9zM52.1 96.5h.9v.9h-.9zM54.7 104.9h.9v.9h-.9zM56.3 96.7h.9v.9h-.9zM71.5 94h.9v.9h-.9zM85.1 84.3h.9v.9h-.9zM79.4 90.2h.9v.9h-.9zM54.4 98.8h.9v.9h-.9zM53 104.1h.9v.9h-.9zM60.6 99.5h.9v.9h-.9zM83.7 86.2h.9v.9h-.9zM57.7 97.6h.9v.9h-.9zM56.6 100.5h.9v.9h-.9zM69.9 90.5h.9v.9h-.9zM60.9 98.5h.9v.9h-.9zM52.5 104.5h.9v.9h-.9zM58.7 96.2h.9v.9h-.9zM58.8 102.1h.9v.9h-.9zM79.9 93.8h.9v.9h-.9zM76.6 91h.9v.9h-.9zM89.9 88.3h.9v.9h-.9zM74.4 93.3h.9v.9h-.9zM77.8 91.2h.9v.9h-.9zM64.9 89.6h.9v.9h-.9zM92.4 81h.9v.9h-.9zM41.4 100.5h.9v.9h-.9zM93.4 88.9h.9v.9h-.9zM61.4 96.8h.9v.9h-.9zM66.2 87.8h.9v.9h-.9zM64.7 95.8h.9v.9h-.9zM81.6 85h.9v.9h-.9zM39.3 98.4h.9v.9h-.9zM72.6 92.3h.9v.9h-.9zM70.5 93.3h.9v.9h-.9zM62.6 91.1h.9v.9h-.9zM74.5 92.7h.9v.9h-.9zM76.8 94.7h.9v.9h-.9zM50.9 91.9h.9v.9h-.9zM48.8 107.3h.9v.9h-.9zM57.7 98.5h.9v.9h-.9zM69 95.7h.9v.9h-.9zM65.8 92.5h.9v.9h-.9zM72 94h.9v.9h-.9zM57.9 101.5h.9v.9h-.9zM83 90h.9v.9h-.9zM66.9 93.3h.9v.9h-.9zM49 102.4h.9v.9h-.9zM56 96.2h.9v.9h-.9zM79.8 86.6h.9v.9h-.9zM63 98.2h.9v.9h-.9zM90.6 83.6h.9v.9h-.9zM81.4 86.9h.9v.9h-.9zM73.8 93.3h.9v.9h-.9zM55.5 101.3h.9v.9h-.9zM90.7 86h.9v.9h-.9zM70.6 88.9h.9v.9h-.9zM90.5 86.1h.9v.9h-.9zM53.6 101.1h.9v.9h-.9zM49.8 97.7h.9v.9h-.9zM43.7 106.6h.9v.9h-.9zM95 82.3h.9v.9h-.9zM59.9 94.6h.9v.9h-.9zM62.1 97.5h.9v.9h-.9zM85.4 84.4h.9v.9h-.9zM72.1 86.4h.9v.9h-.9zM87.1 86.8h.9v.9h-.9zM61.4 101h.9v.9h-.9zM68.6 98h.9v.9h-.9zM83.4 93.8h.9v.9h-.9zM58.7 97.1h.9v.9h-.9zM72.8 91.4h.9v.9h-.9zM86.5 85h.9v.9h-.9zM82.2 93.3h.9v.9h-.9zM43.5 98.9h.9v.9h-.9zM56.8 95.7h.9v.9h-.9zM73.1 91.3h.9v.9h-.9zM69 91.8h.9v.9h-.9zM68 95.3h.9v.9h-.9zM76.9 88.1h.9v.9h-.9zM66.3 91.7h.9v.9h-.9zM64.9 90h.9v.9h-.9zM80.9 91.4h.9v.9h-.9zM66.3 92h.9v.9h-.9zM62.2 93.5h.9v.9h-.9zM51.2 104.8h.9v.9h-.9zM54.7 100.1h.9v.9h-.9zM74.4 86.3h.9v.9h-.9zM45.4 103.2h.9v.9h-.9zM45.5 106.1h.9v.9h-.9zM62.5 95.8h.9v.9h-.9zM67.9 91.9h.9v.9h-.9zM66.5 93.2h.9v.9h-.9zM83.7 88h.9v.9h-.9zM67.6 92.1h.9v.9h-.9zM60 94h.9v.9h-.9zM70.5 98.8h.9v.9h-.9zM82.4 89.5h.9v.9h-.9zM90 89.4h.9v.9h-.9zM70.9 92.1h.9v.9h-.9zM55.3 98.9h.9v.9h-.9zM63 90.2h.9v.9h-.9zM54.7 104.6h.9v.9h-.9zM71.6 94.1h.9v.9h-.9zM70.5 91.3h.9v.9h-.9zM75.3 94.7h.9v.9h-.9zM65.2 96.3h.9v.9h-.9zM80.6 87.7h.9v.9h-.9zM69.8 90.6h.9v.9h-.9zM75.5 89.9h.9v.9h-.9zM81.8 86.4h.9v.9h-.9zM88.9 85.4h.9v.9h-.9zM57.3 94.4h.9v.9h-.9zM75.8 88.2h.9v.9h-.9zM92 89.6h.9v.9h-.9zM73.4 87.1h.9v.9h-.9zM67.5 91.5h.9v.9h-.9zM46.7 102.4h.9v.9h-.9zM95 82.6h.9v.9h-.9zM79.7 93.8h.9v.9h-.9zM56.3 96.6h.9v.9h-.9zM72.3 93.7h.9v.9h-.9zM54.6 99h.9v.9h-.9zM68.1 96.7h.9v.9h-.9zM48.3 98.6h.9v.9h-.9zM62 94.7h.9v.9h-.9zM76.7 88.6h.9v.9h-.9zM101.4 79.8h.9v.9h-.9zM79.9 92.9h.9v.9h-.9zM80.2 88.8h.9v.9h-.9zM58 96.3h.9v.9h-.9zM76.8 91h.9v.9h-.9zM76.2 92.7h.9v.9h-.9zM56.7 94.5h.9v.9h-.9zM85.7 86h.9v.9h-.9zM50.9 105.7h.9v.9h-.9zM57.3 94.3h.9v.9h-.9zM79.2 86.1h.9v.9h-.9zM58.9 100.3h.9v.9h-.9zM61 104.3h.9v.9h-.9zM72.4 101h.9v.9h-.9zM70.1 93.1h.9v.9h-.9zM60.4 95.6h.9v.9h-.9zM62.3 95.6h.9v.9h-.9zM76.7 86.5h.9v.9h-.9zM55.1 91.2h.9v.9h-.9zM86.9 86.9h.9v.9h-.9zM68.3 93.4h.9v.9h-.9zM81.2 90.2h.9v.9h-.9zM78.8 89.4h.9v.9h-.9zM67 93.8h.9v.9h-.9zM46.7 104.6h.9v.9h-.9zM48.1 97.3h.9v.9h-.9zM76.8 90.8h.9v.9h-.9zM80.2 95.1h.9v.9h-.9zM92.8 89.7h.9v.9h-.9zM67.8 100.5h.9v.9h-.9zM57.6 97h.9v.9h-.9zM80.5 88.7h.9v.9h-.9zM66.7 93h.9v.9h-.9zM82.8 80.5h.9v.9h-.9zM85.2 91.2h.9v.9h-.9zM68.2 95.5h.9v.9h-.9zM57.7 100.9h.9v.9h-.9zM85.6 87.4h.9v.9h-.9zM63.9 93.5h.9v.9h-.9zM64.9 90.6h.9v.9h-.9zM53.5 104.1h.9v.9h-.9zM68.8 95.2h.9v.9h-.9zM72.8 93.6h.9v.9h-.9zM48.8 97.2h.9v.9h-.9zM77.3 93.7h.9v.9h-.9zM53.8 96.6h.9v.9h-.9zM56 99.9h.9v.9h-.9zM72.8 92.1h.9v.9h-.9zM60.9 97.3h.9v.9h-.9zM68.1 91.2h.9v.9h-.9zM71.9 90.1h.9v.9h-.9zM80.8 91.3h.9v.9h-.9zM60.6 98.1h.9v.9h-.9zM68.6 91.1h.9v.9h-.9zM55.6 92.5h.9v.9h-.9zM55 99.3h.9v.9h-.9zM82.7 86.5h.9v.9h-.9zM70.8 93.8h.9v.9h-.9zM78.5 91.5h.9v.9h-.9zM84.4 90.6h.9v.9h-.9zM59.5 97.9h.9v.9h-.9zM39.5 102.9h.9v.9h-.9zM69.3 95.1h.9v.9h-.9zM65.6 97.2h.9v.9h-.9zM83.9 85.4h.9v.9h-.9zM62.1 96.6h.9v.9h-.9zM74.7 91.8h.9v.9h-.9zM77.5 86.5h.9v.9h-.9zM79.2 93.6h.9v.9h-.9zM82.6 90.1h.9v.9h-.9zM66 95.7h.9v.9h-.9zM66 89.2h.9v.9h-.9zM61 95.9h.9v.9h-.9zM61.2 92.9h.9v.9h-.9zM65.3 93.4h.9v.9h-.9zM69.3 93.1h.9v.9h-.9zM71.6 95.7h.9v.9h-.9zM70.6 94.1h.9v.9h-.9zM50.5 90h.9v.9h-.9zM64.3 97.2h.9v.9h-.9zM63.7 93.1h.9v.9h-.9zM54.2 101.4h.9v.9h-.9zM62.3 96.5h.9v.9h-.9zM82.9 90.3h.9v.9h-.9zM95.9 83.6h.9v.9h-.9zM81 91.5h.9v.9h-.9zM60.5 96.4h.9v.9h-.9zM60.5 92.9h.9v.9h-.9zM71.4 90h.9v.9h-.9zM88.4 84.2h.9v.9h-.9zM61.9 96.1h.9v.9h-.9zM62.2 95.9h.9v.9h-.9zM59.6 91.9h.9v.9h-.9zM37.5 99.9h.9v.9h-.9zM87.7 88.4h.9v.9h-.9zM69.9 91.5h.9v.9h-.9zM67 95h.9v.9h-.9zM50.6 97h.9v.9h-.9zM58.8 101h.9v.9h-.9zM56.7 101.4h.9v.9h-.9zM65.5 103.5h.9v.9h-.9zM67.6 93.9h.9v.9h-.9zM86 90.3h.9v.9h-.9zM79 86.4h.9v.9h-.9zM84.2 93.6h.9v.9h-.9zM66.8 92.5h.9v.9h-.9zM56.1 101.1h.9v.9h-.9zM72.1 92.3h.9v.9h-.9zM55 103.5h.9v.9h-.9zM79.2 89.7h.9v.9h-.9zM85.7 84.5h.9v.9h-.9zM78.3 86.8h.9v.9h-.9zM85.6 86.7h.9v.9h-.9zM83.1 87.1h.9v.9h-.9zM74.6 95.2h.9v.9h-.9zM57.5 97.6h.9v.9h-.9zM59.1 99.5h.9v.9h-.9zM60.7 95h.9v.9h-.9zM67.2 97.8h.9v.9h-.9zM55.7 97.8h.9v.9h-.9zM63.9 93.3h.9v.9h-.9zM58.7 96.4h.9v.9h-.9zM69.3 88.1h.9v.9h-.9zM70.2 89h.9v.9h-.9zM71 100.1h.9v.9h-.9zM56.5 97.4h.9v.9h-.9zM66.4 97.5h.9v.9h-.9zM60.9 90.3h.9v.9h-.9zM48.9 100.8h.9v.9h-.9zM72.7 95.6h.9v.9h-.9zM62.6 97.7h.9v.9h-.9zM56.7 101.8h.9v.9h-.9zM66.9 91.8h.9v.9h-.9zM72.4 97.9h.9v.9h-.9zM56.8 93.5h.9v.9h-.9zM54.9 94.4h.9v.9h-.9zM68.2 94.7h.9v.9h-.9zM66.7 94.8h.9v.9h-.9zM82.8 87.6h.9v.9h-.9zM50.8 92.1h.9v.9h-.9zM70.8 90.5h.9v.9h-.9zM65.9 95.8h.9v.9h-.9zM72.6 86.9h.9v.9h-.9zM56.8 97.8h.9v.9h-.9zM67.9 97.5h.9v.9h-.9zM60.2 89.6h.9v.9h-.9zM81.2 83.8h.9v.9h-.9zM57 98.7h.9v.9h-.9zM58 105.3h.9v.9h-.9zM72 94.1h.9v.9h-.9zM65.4 101.8h.9v.9h-.9zM74.4 89.1h.9v.9h-.9zM82.2 83.2h.9v.9h-.9zM61.6 96.8h.9v.9h-.9zM69.2 90.1h.9v.9h-.9zM89.4 91.1h.9v.9h-.9zM57.4 98.6h.9v.9h-.9zM60.3 94.9h.9v.9h-.9zM80.8 89.7h.9v.9h-.9zM67.3 94.3h.9v.9h-.9zM55.3 102h.9v.9h-.9zM60.6 100.5h.9v.9h-.9zM62.4 94.1h.9v.9h-.9zM87 87.8h.9v.9h-.9zM60.1 94.6h.9v.9h-.9zM77.8 96.4h.9v.9h-.9zM75.6 89.7h.9v.9h-.9zM54 96.3h.9v.9h-.9zM67.3 94.7h.9v.9h-.9zM61.7 100h.9v.9h-.9zM56 95.5h.9v.9h-.9zM75.1 92.8h.9v.9h-.9zM64.7 98h.9v.9h-.9zM52.8 104.2h.9v.9h-.9zM97.3 90h.9v.9h-.9zM71.9 98.8h.9v.9h-.9zM70.5 97.2h.9v.9h-.9zM66.2 94.9h.9v.9h-.9zM73.2 86.2h.9v.9h-.9zM67.7 99.4h.9v.9h-.9zM80.2 90.6h.9v.9h-.9zM72.3 96.7h.9v.9h-.9zM70.7 86.5h.9v.9h-.9zM56.6 96.6h.9v.9h-.9zM69.8 91.6h.9v.9h-.9zM68.9 98.8h.9v.9h-.9zM80.6 91.3h.9v.9h-.9zM68.8 93.6h.9v.9h-.9zM73.2 92.7h.9v.9h-.9zM60.4 98.9h.9v.9h-.9zM58.3 96.9h.9v.9h-.9zM62.9 91.6h.9v.9h-.9zM75.9 90.7h.9v.9h-.9zM54.1 98.2h.9v.9h-.9zM53 103.5h.9v.9h-.9zM76.8 97.1h.9v.9h-.9zM62.2 98h.9v.9h-.9zM55.8 95.1h.9v.9h-.9zM67.8 95.1h.9v.9h-.9zM79.6 88.8h.9v.9h-.9zM83 91.7h.9v.9h-.9zM57.6 96.7h.9v.9h-.9zM59 102.4h.9v.9h-.9zM62.6 98.4h.9v.9h-.9zM79.5 88.9h.9v.9h-.9zM62.9 96.6h.9v.9h-.9zM57.7 93.1h.9v.9h-.9zM57 98.6h.9v.9h-.9zM72.6 97.8h.9v.9h-.9zM46.6 102.7h.9v.9h-.9zM55.5 101.7h.9v.9h-.9zM77.1 90.9h.9v.9h-.9zM86.2 86.2h.9v.9h-.9zM61 92.7h.9v.9h-.9zM60.6 96.6h.9v.9h-.9zM78 94.4h.9v.9h-.9zM64.5 92.5h.9v.9h-.9zM64 93.7h.9v.9h-.9zM62.4 94.3h.9v.9h-.9zM57.8 97h.9v.9h-.9zM62.1 95.2h.9v.9h-.9zM51.7 99.8h.9v.9h-.9zM76.1 93h.9v.9h-.9zM60.7 92.5h.9v.9h-.9zM51.4 95.6h.9v.9h-.9zM60.3 95.3h.9v.9h-.9zM47.5 102.9h.9v.9h-.9zM49 98h.9v.9h-.9zM60.5 98.9h.9v.9h-.9zM90.6 84.7h.9v.9h-.9zM64.8 93.5h.9v.9h-.9zM65.9 93.8h.9v.9h-.9zM97.5 80h.9v.9h-.9zM66.4 91.7h.9v.9h-.9zM72.3 90.5h.9v.9h-.9zM74.4 87.9h.9v.9h-.9zM94.4 85.3h.9v.9h-.9zM47.7 102.9h.9v.9h-.9zM61.6 92.1h.9v.9h-.9zM73.4 90.1h.9v.9h-.9zM76.9 88.8h.9v.9h-.9zM79.6 90.1h.9v.9h-.9zM73 92.5h.9v.9h-.9zM63.7 94h.9v.9h-.9zM74.7 93.7h.9v.9h-.9zM65.8 101.7h.9v.9h-.9zM87.9 83.1h.9v.9h-.9zM81.6 88.7h.9v.9h-.9zM70.5 90.2h.9v.9h-.9zM87.8 84.2h.9v.9h-.9zM66.8 91.7h.9v.9h-.9zM93.2 89h.9v.9h-.9zM52 97.7h.9v.9h-.9zM72.5 90.7h.9v.9h-.9zM63.1 91.9h.9v.9h-.9zM70.5 89.3h.9v.9h-.9zM81 96.9h.9v.9h-.9zM66.2 99.6h.9v.9h-.9zM72.4 90h.9v.9h-.9zM63.4 92.2h.9v.9h-.9zM70.6 95h.9v.9h-.9zM79.5 88.8h.9v.9h-.9zM54 98.3h.9v.9h-.9zM89.1 87.3h.9v.9h-.9zM65.7 87.8h.9v.9h-.9zM63.8 96.9h.9v.9h-.9zM58.4 101.3h.9v.9h-.9zM60.8 93.4h.9v.9h-.9zM61.4 95.7h.9v.9h-.9zM80.1 87.7h.9v.9h-.9zM46.8 100.7h.9v.9h-.9zM76.4 95.8h.9v.9h-.9zM56.4 102.5h.9v.9h-.9zM77.1 92h.9v.9h-.9zM58.3 94.2h.9v.9h-.9zM57.9 100.2h.9v.9h-.9zM72.2 95.7h.9v.9h-.9zM90.5 86h.9v.9h-.9zM69.8 99.2h.9v.9h-.9zM52.3 97.7h.9v.9h-.9zM63.7 94h.9v.9h-.9zM69.4 90.5h.9v.9h-.9zM81.2 84.8h.9v.9h-.9zM57 92h.9v.9h-.9zM52.1 101h.9v.9h-.9zM75.9 90.3h.9v.9h-.9zM79.3 91.8h.9v.9h-.9zM61.5 95.8h.9v.9h-.9zM74.9 97.8h.9v.9h-.9zM63.5 96.4h.9v.9h-.9zM76.3 94.7h.9v.9h-.9zM74.7 94.8h.9v.9h-.9zM55.4 97.2h.9v.9h-.9zM45.1 101.4h.9v.9h-.9zM96.9 84.5h.9v.9h-.9zM69.8 93.9h.9v.9h-.9zM69 89.1h.9v.9h-.9zM60 95.9h.9v.9h-.9zM69.7 90.3h.9v.9h-.9zM66.5 91.9h.9v.9h-.9zM51.9 97.1h.9v.9h-.9zM59.6 99.3h.9v.9h-.9zM85.3 89.6h.9v.9h-.9zM65.4 92.8h.9v.9h-.9zM49 98.5h.9v.9h-.9zM88.6 90.3h.9v.9h-.9zM71 91.9h.9v.9h-.9zM69 94.7h.9v.9h-.9zM68.8 94.8h.9v.9h-.9zM59.2 96.9h.9v.9h-.9zM65.3 98.1h.9v.9h-.9zM54.8 102.4h.9v.9h-.9zM67 92.4h.9v.9h-.9zM68.9 93.8h.9v.9h-.9zM66.1 95.7h.9v.9h-.9zM59.9 91.1h.9v.9h-.9zM76.9 90.5h.9v.9h-.9z"/>
<path fill="#e0101a" fill-opacity="0.9" d="M84.2 88.5h.9v.9h-.9zM54.2 100.9h.9v.9h-.9zM64.7 95.7h.9v.9h-.9zM89.4 88.4h.9v.9h-.9zM60.8 95.5h.9v.9h-.9zM57.1 98.6h.9v.9h-.9zM74 88.7h.9v.9h-.9zM74.5 93.2h.9v.9h-.9zM76.3 88.8h.9v.9h-.9zM63.4 92.1h.9v.9h-.9zM59.4 96.9h.9v.9h-.9zM71.3 95.2h.9v.9h-.9zM72.1 91h.9v.9h-.9zM59.2 99.9h.9v.9h-.9zM71.4 92h.9v.9h-.9zM60.8 93.2h.9v.9h-.9zM74.6 88.6h.9v.9h-.9zM75.4 92.2h.9v.9h-.9zM65.6 90.2h.9v.9h-.9zM74.5 94.3h.9v.9h-.9zM62.2 92.2h.9v.9h-.9zM79.2 89.7h.9v.9h-.9zM65.7 96.9h.9v.9h-.9zM68 94.3h.9v.9h-.9zM66.1 92.1h.9v.9h-.9zM71.2 90.1h.9v.9h-.9zM54.8 96.5h.9v.9h-.9zM81.1 91.3h.9v.9h-.9zM88.9 88.4h.9v.9h-.9zM83.7 88.4h.9v.9h-.9zM66.7 94.8h.9v.9h-.9zM62.6 96.8h.9v.9h-.9zM66.5 94.4h.9v.9h-.9zM62.8 94.7h.9v.9h-.9zM78 89.2h.9v.9h-.9zM64.6 95.1h.9v.9h-.9zM77.2 89.6h.9v.9h-.9zM59.1 92.6h.9v.9h-.9zM59.6 98.6h.9v.9h-.9zM69.6 93.8h.9v.9h-.9zM79.2 90h.9v.9h-.9zM73.7 90.1h.9v.9h-.9zM57 98.5h.9v.9h-.9zM69.6 94h.9v.9h-.9zM61 95.3h.9v.9h-.9zM86.2 85h.9v.9h-.9zM71.8 95h.9v.9h-.9zM68.2 93.5h.9v.9h-.9zM52.8 100.3h.9v.9h-.9zM67.3 96.5h.9v.9h-.9zM69 92h.9v.9h-.9zM73.5 90.8h.9v.9h-.9zM66.8 97.2h.9v.9h-.9zM78.3 89.9h.9v.9h-.9zM77.3 91.9h.9v.9h-.9zM74.9 91h.9v.9h-.9zM70.9 93.2h.9v.9h-.9zM75 91.6h.9v.9h-.9zM65.4 93.9h.9v.9h-.9zM73.1 89.1h.9v.9h-.9zM70.5 94.1h.9v.9h-.9zM71.2 91.4h.9v.9h-.9zM69.5 91.6h.9v.9h-.9zM77.9 88.9h.9v.9h-.9zM55.3 94.8h.9v.9h-.9zM72.7 92.1h.9v.9h-.9zM65.1 91.1h.9v.9h-.9zM68.2 91.2h.9v.9h-.9zM64.5 94.4h.9v.9h-.9zM63.8 95.4h.9v.9h-.9zM63.5 93.7h.9v.9h-.9zM69.2 96.2h.9v.9h-.9zM83.8 90h.9v.9h-.9zM63.9 94.7h.9v.9h-.9zM78.2 91.6h.9v.9h-.9zM56.4 97.1h.9v.9h-.9zM64.4 96.2h.9v.9h-.9zM74.9 89.6h.9v.9h-.9zM87.7 85.8h.9v.9h-.9zM90.2 85.2h.9v.9h-.9zM70.7 96.7h.9v.9h-.9zM65.3 93.1h.9v.9h-.9zM82.3 88.2h.9v.9h-.9zM73.1 88.5h.9v.9h-.9zM85.6 89.4h.9v.9h-.9zM73.5 93h.9v.9h-.9zM65.5 93h.9v.9h-.9zM57.2 97.8h.9v.9h-.9zM80.9 90.8h.9v.9h-.9zM78.2 91.4h.9v.9h-.9zM61.4 92.5h.9v.9h-.9zM75.5 91h.9v.9h-.9zM78 89.1h.9v.9h-.9zM63 96h.9v.9h-.9zM64.2 90.7h.9v.9h-.9zM64.3 92.5h.9v.9h-.9zM60.3 94.6h.9v.9h-.9zM79.6 94.7h.9v.9h-.9zM84.1 86.7h.9v.9h-.9zM79.5 89.1h.9v.9h-.9zM72.9 90h.9v.9h-.9zM68.2 89.3h.9v.9h-.9zM84.4 85.8h.9v.9h-.9zM74.5 89.6h.9v.9h-.9zM71.4 89.3h.9v.9h-.9zM67.5 95.5h.9v.9h-.9zM73.6 86.8h.9v.9h-.9zM76.2 87.4h.9v.9h-.9zM72.8 92.8h.9v.9h-.9zM64.4 93.7h.9v.9h-.9zM68.3 94.1h.9v.9h-.9zM78.6 92.7h.9v.9h-.9zM74.2 95.7h.9v.9h-.9zM63.4 98.9h.9v.9h-.9zM68.4 94.9h.9v.9h-.9zM69 93.1h.9v.9h-.9zM62.6 96h.9v.9h-.9zM87 87h.9v.9h-.9zM69.8 92.6h.9v.9h-.9zM75.8 90.1h.9v.9h-.9zM70.1 93h.9v.9h-.9zM81.5 90.8h.9v.9h-.9zM60.8 94.3h.9v.9h-.9zM70.8 94.2h.9v.9h-.9zM77.9 89.3h.9v.9h-.9zM87.6 86.1h.9v.9h-.9zM82.7 91.4h.9v.9h-.9zM83.4 88.4h.9v.9h-.9zM73.7 87.7h.9v.9h-.9zM54.8 96.4h.9v.9h-.9zM76.8 92.7h.9v.9h-.9zM69.9 95h.9v.9h-.9zM75.9 94h.9v.9h-.9zM56.2 95.4h.9v.9h-.9zM61.3 93.1h.9v.9h-.9zM83.1 85.9h.9v.9h-.9zM62.8 94.1h.9v.9h-.9zM77.1 89h.9v.9h-.9zM76.5 91.6h.9v.9h-.9zM63 89.5h.9v.9h-.9zM61.5 92.6h.9v.9h-.9zM83.1 86.4h.9v.9h-.9zM61.4 96.4h.9v.9h-.9zM69.8 90.4h.9v.9h-.9zM79.8 91.3h.9v.9h-.9zM71.8 90.2h.9v.9h-.9zM61.3 90.8h.9v.9h-.9zM73.5 92.2h.9v.9h-.9zM62.4 95.2h.9v.9h-.9zM96.5 80.8h.9v.9h-.9zM56.2 98.7h.9v.9h-.9zM66.1 92.7h.9v.9h-.9zM75.1 90.5h.9v.9h-.9zM78.7 90.7h.9v.9h-.9zM79.8 89.4h.9v.9h-.9zM53 101.5h.9v.9h-.9zM56.6 99.6h.9v.9h-.9zM71.1 88.9h.9v.9h-.9zM71.2 94.2h.9v.9h-.9zM61.5 95.6h.9v.9h-.9zM63.1 92.6h.9v.9h-.9zM65.8 96.9h.9v.9h-.9zM75.7 90.5h.9v.9h-.9zM69.4 93h.9v.9h-.9zM72.5 92.1h.9v.9h-.9zM56.3 99.4h.9v.9h-.9zM61 89.6h.9v.9h-.9zM75 88h.9v.9h-.9zM68.8 92.7h.9v.9h-.9zM65.5 95.3h.9v.9h-.9zM67.5 92.7h.9v.9h-.9zM61.8 94.7h.9v.9h-.9zM61.4 95.6h.9v.9h-.9zM81.8 90.8h.9v.9h-.9zM72.6 88.5h.9v.9h-.9zM79.3 91.5h.9v.9h-.9zM85.6 81.9h.9v.9h-.9zM69.9 91.8h.9v.9h-.9zM78.3 87.1h.9v.9h-.9zM68.5 98.4h.9v.9h-.9zM76.9 85.5h.9v.9h-.9zM71.2 95.3h.9v.9h-.9zM65.3 95.5h.9v.9h-.9zM69.8 89.2h.9v.9h-.9zM65.6 96.7h.9v.9h-.9zM79.5 87.9h.9v.9h-.9zM78.9 87.8h.9v.9h-.9zM72.1 91.8h.9v.9h-.9zM59.8 96.8h.9v.9h-.9zM64.8 88h.9v.9h-.9zM62.5 93.2h.9v.9h-.9zM62.3 92.9h.9v.9h-.9zM62.5 89.4h.9v.9h-.9zM77.5 90.1h.9v.9h-.9zM71.9 91.2h.9v.9h-.9zM70.4 91.8h.9v.9h-.9zM59.8 92.5h.9v.9h-.9zM71.4 94.4h.9v.9h-.9zM73.1 95.2h.9v.9h-.9zM58.4 95.9h.9v.9h-.9zM65.7 96.9h.9v.9h-.9zM83.8 86.5h.9v.9h-.9zM76 89.9h.9v.9h-.9zM61.6 95.2h.9v.9h-.9zM62.4 98.7h.9v.9h-.9zM75.8 93.3h.9v.9h-.9zM71.3 86.4h.9v.9h-.9zM76.8 90.4h.9v.9h-.9zM50.1 99.6h.9v.9h-.9zM79.7 93.1h.9v.9h-.9zM62 97.1h.9v.9h-.9zM72.7 91.2h.9v.9h-.9zM68 94.4h.9v.9h-.9zM75.3 92.2h.9v.9h-.9zM65.6 90.9h.9v.9h-.9zM82 91.4h.9v.9h-.9zM65.3 94.1h.9v.9h-.9zM75.5 86.5h.9v.9h-.9zM75.9 96.1h.9v.9h-.9zM71.8 90.3h.9v.9h-.9zM87.1 86.6h.9v.9h-.9zM71.5 91h.9v.9h-.9zM70.2 88.3h.9v.9h-.9zM58.2 93.1h.9v.9h-.9zM77.5 89.7h.9v.9h-.9zM78.2 84.9h.9v.9h-.9zM66 97.3h.9v.9h-.9zM62 90.9h.9v.9h-.9zM63.5 93.9h.9v.9h-.9zM70.8 95.3h.9v.9h-.9zM82.2 91.9h.9v.9h-.9zM74.5 89.8h.9v.9h-.9zM64.8 90.9h.9v.9h-.9zM81.6 91.4h.9v.9h-.9zM70.1 90.4h.9v.9h-.9zM76 91.6h.9v.9h-.9zM70.5 89.6h.9v.9h-.9zM71.6 90.6h.9v.9h-.9zM76.6 91.6h.9v.9h-.9zM73.4 90.3h.9v.9h-.9zM83.3 89.7h.9v.9h-.9zM81.2 90.6h.9v.9h-.9zM75.8 91.4h.9v.9h-.9zM59.8 91.8h.9v.9h-.9zM62.6 96.5h.9v.9h-.9zM77.8 90.3h.9v.9h-.9zM72.1 96.1h.9v.9h-.9zM65.4 89.9h.9v.9h-.9zM56.8 96.3h.9v.9h-.9zM76.4 92h.9v.9h-.9zM68.7 94.8h.9v.9h-.9zM69.1 91.1h.9v.9h-.9zM67.4 95.2h.9v.9h-.9zM77.2 87.4h.9v.9h-.9zM61.8 95.6h.9v.9h-.9zM86.9 84h.9v.9h-.9zM59.8 97h.9v.9h-.9zM73.8 89.8h.9v.9h-.9zM70.1 93.6h.9v.9h-.9zM55.4 97.5h.9v.9h-.9zM75.7 92.7h.9v.9h-.9zM79.7 89h.9v.9h-.9zM58.9 99.4h.9v.9h-.9zM76 89h.9v.9h-.9zM79.4 91.7h.9v.9h-.9zM67.1 88h.9v.9h-.9zM65.6 92.3h.9v.9h-.9zM63 94.7h.9v.9h-.9zM61.3 96.4h.9v.9h-.9zM84.9 84.6h.9v.9h-.9zM78.3 88.4h.9v.9h-.9zM74.4 90.7h.9v.9h-.9zM80.2 87.3h.9v.9h-.9zM75.6 88.8h.9v.9h-.9zM71.9 91.8h.9v.9h-.9zM77.9 86.1h.9v.9h-.9zM59.8 99.3h.9v.9h-.9zM74.4 94.9h.9v.9h-.9zM61.6 95.9h.9v.9h-.9zM76.3 94.5h.9v.9h-.9zM69.2 91.7h.9v.9h-.9zM75.9 90.2h.9v.9h-.9zM64.3 96.2h.9v.9h-.9zM53.4 95.8h.9v.9h-.9zM81 87.6h.9v.9h-.9zM67.6 94.2h.9v.9h-.9zM79.7 90.4h.9v.9h-.9zM61.6 94.1h.9v.9h-.9zM78.7 89.2h.9v.9h-.9zM65.4 96.1h.9v.9h-.9zM81.1 93.8h.9v.9h-.9zM60.5 94.1h.9v.9h-.9zM64.5 95.2h.9v.9h-.9zM66.8 96.2h.9v.9h-.9zM48.3 102.2h.9v.9h-.9zM64.5 93.8h.9v.9h-.9zM74.9 91.3h.9v.9h-.9zM62.7 98.5h.9v.9h-.9zM74.4 89.8h.9v.9h-.9zM70.9 89.6h.9v.9h-.9zM59.6 95.4h.9v.9h-.9zM73.1 91.7h.9v.9h-.9zM62.6 91.8h.9v.9h-.9zM57.2 100.6h.9v.9h-.9zM72.5 89.8h.9v.9h-.9zM80.3 90.2h.9v.9h-.9zM66.1 92.4h.9v.9h-.9zM79.7 89.9h.9v.9h-.9zM83.8 88.6h.9v.9h-.9zM64.7 92.9h.9v.9h-.9zM64.3 95h.9v.9h-.9zM72.5 93h.9v.9h-.9zM73 89h.9v.9h-.9zM67.6 91.1h.9v.9h-.9zM73.1 88.4h.9v.9h-.9zM64.6 92.4h.9v.9h-.9zM64.7 93.7h.9v.9h-.9zM82.4 87.7h.9v.9h-.9zM57.9 96h.9v.9h-.9zM76.6 91.5h.9v.9h-.9zM73.4 96h.9v.9h-.9zM79.3 89.5h.9v.9h-.9zM79.1 86.2h.9v.9h-.9zM68 91.2h.9v.9h-.9zM72.6 95.4h.9v.9h-.9zM67 97.2h.9v.9h-.9zM62.6 98.4h.9v.9h-.9zM55.4 95.6h.9v.9h-.9zM78.2 89.5h.9v.9h-.9zM71.2 92.1h.9v.9h-.9zM71.4 91.6h.9v.9h-.9zM61.7 94.7h.9v.9h-.9zM70.3 90.3h.9v.9h-.9zM75.1 94.8h.9v.9h-.9zM56 96h.9v.9h-.9zM67.7 93.3h.9v.9h-.9zM70.3 90.7h.9v.9h-.9zM69.7 92.6h.9v.9h-.9zM70.4 96h.9v.9h-.9zM70 89h.9v.9h-.9zM57.5 98.2h.9v.9h-.9zM66.7 92.2h.9v.9h-.9zM58.6 95.7h.9v.9h-.9zM68.8 91.3h.9v.9h-.9zM67.7 95.4h.9v.9h-.9zM76.9 91.4h.9v.9h-.9zM67.6 90.2h.9v.9h-.9zM77.5 93.4h.9v.9h-.9zM81.4 91.3h.9v.9h-.9zM72.6 92.5h.9v.9h-.9zM70.8 95.2h.9v.9h-.9zM69.3 97.7h.9v.9h-.9zM76.2 89.6h.9v.9h-.9zM68.8 89.1h.9v.9h-.9zM63.7 94h.9v.9h-.9zM89.7 83.8h.9v.9h-.9zM77.6 90h.9v.9h-.9zM68 94.6h.9v.9h-.9zM54.2 100.1h.9v.9h-.9zM86.2 87.6h.9v.9h-.9zM69.6 93h.9v.9h-.9zM75.1 89.6h.9v.9h-.9zM71.4 93.2h.9v.9h-.9zM67.4 94.3h.9v.9h-.9zM73.3 93h.9v.9h-.9zM61.5 94.2h.9v.9h-.9zM67.3 96.2h.9v.9h-.9zM70.9 88.3h.9v.9h-.9zM60.8 100.2h.9v.9h-.9zM71.9 88.8h.9v.9h-.9zM62.6 95.4h.9v.9h-.9zM83 91.8h.9v.9h-.9zM66.8 92.9h.9v.9h-.9zM85.2 85h.9v.9h-.9zM83.2 88.8h.9v.9h-.9zM71.7 94.9h.9v.9h-.9zM73.4 89.4h.9v.9h-.9zM57.4 96.9h.9v.9h-.9zM75.2 93.9h.9v.9h-.9zM49.4 102.7h.9v.9h-.9zM76.2 93.9h.9v.9h-.9zM76.7 90.7h.9v.9h-.9zM73.9 92.1h.9v.9h-.9zM64.7 94h.9v.9h-.9zM70.7 91.2h.9v.9h-.9zM56.9 93.7h.9v.9h-.9zM74.5 92.2h.9v.9h-.9zM70.1 89.8h.9v.9h-.9zM76.8 89.3h.9v.9h-.9zM54 101.7h.9v.9h-.9zM59.3 101.5h.9v.9h-.9zM74.1 90.1h.9v.9h-.9zM50.1 97.7h.9v.9h-.9zM83.2 91.1h.9v.9h-.9zM70.9 88.2h.9v.9h-.9zM66.6 93h.9v.9h-.9zM73.7 90.9h.9v.9h-.9zM71.7 88.1h.9v.9h-.9zM65.7 97.3h.9v.9h-.9zM58.7 98.6h.9v.9h-.9zM89.5 87.3h.9v.9h-.9zM59.4 99.1h.9v.9h-.9zM54.9 98.5h.9v.9h-.9zM67.5 96.3h.9v.9h-.9zM79.9 89.5h.9v.9h-.9zM85.5 89.5h.9v.9h-.9zM65.3 91.8h.9v.9h-.9zM90 84.6h.9v.9h-.9zM73.3 91.1h.9v.9h-.9zM64.9 90.5h.9v.9h-.9zM68.7 92.7h.9v.9h-.9zM77.7 88.6h.9v.9h-.9zM56.3 94.7h.9v.9h-.9zM69.9 93.1h.9v.9h-.9zM75.7 89.6h.9v.9h-.9zM74.6 91.3h.9v.9h-.9zM83.9 87.6h.9v.9h-.9zM71.6 93.3h.9v.9h-.9zM79.4 87.1h.9v.9h-.9zM65.9 93.3h.9v.9h-.9zM53.3 101.3h.9v.9h-.9zM78.9 89.5h.9v.9h-.9zM98.7 85.6h.9v.9h-.9zM87.9 90h.9v.9h-.9zM76.5 87h.9v.9h-.9zM83 89h.9v.9h-.9zM60.2 96h.9v.9h-.9zM76.9 92.4h.9v.9h-.9zM71.1 90.9h.9v.9h-.9zM75.8 88.7h.9v.9h-.9zM69.9 94.3h.9v.9h-.9zM58.4 97.4h.9v.9h-.9zM53.1 96.1h.9v.9h-.9zM59.8 95.8h.9v.9h-.9zM75.9 90.4h.9v.9h-.9zM77.6 90.1h.9v.9h-.9zM68.7 94.1h.9v.9h-.9zM68.1 93.5h.9v.9h-.9zM78.2 88.3h.9v.9h-.9zM78.7 86.9h.9v.9h-.9zM66.9 89.5h.9v.9h-.9zM66.8 97.3h.9v.9h-.9zM73.9 94.1h.9v.9h-.9zM57.1 94.6h.9v.9h-.9zM74.5 92.9h.9v.9h-.9zM75.7 86.6h.9v.9h-.9zM74.2 90.9h.9v.9h-.9zM71.3 93.2h.9v.9h-.9zM66.5 89.7h.9v.9h-.9zM60.1 92.5h.9v.9h-.9zM59 96h.9v.9h-.9zM80.3 87.3h.9v.9h-.9zM62.9 92.3h.9v.9h-.9zM55.7 97.6h.9v.9h-.9zM65.8 93.4h.9v.9h-.9zM62.4 96.3h.9v.9h-.9zM60.5 97.1h.9v.9h-.9zM65.1 96h.9v.9h-.9zM63 96h.9v.9h-.9zM73.6 91.1h.9v.9h-.9zM83.7 88.2h.9v.9h-.9zM63.2 96.5h.9v.9h-.9zM62.8 93.7h.9v.9h-.9zM70.2 92.8h.9v.9h-.9zM82.9 84h.9v.9h-.9zM68.7 95.6h.9v.9h-.9zM68.9 93.6h.9v.9h-.9zM81.8 85.6h.9v.9h-.9zM70.9 94h.9v.9h-.9zM63.9 90.5h.9v.9h-.9zM61.9 95.8h.9v.9h-.9zM72.9 95.8h.9v.9h-.9zM79.9 85.5h.9v.9h-.9zM79.3 91.5h.9v.9h-.9zM83.3 87.6h.9v.9h-.9zM65.5 94.4h.9v.9h-.9zM83.3 89.4h.9v.9h-.9zM84.6 89.3h.9v.9h-.9zM64.4 92.1h.9v.9h-.9zM84.3 84h.9v.9h-.9zM66.9 92.8h.9v.9h-.9zM62 93.9h.9v.9h-.9zM71.8 97.5h.9v.9h-.9zM69.1 91.6h.9v.9h-.9zM71.7 94.1h.9v.9h-.9zM62.9 94h.9v.9h-.9zM56 99h.9v.9h-.9zM76.7 93.7h.9v.9h-.9zM61.6 100.5h.9v.9h-.9zM77 89.4h.9v.9h-.9zM66.5 93h.9v.9h-.9zM60.5 97.6h.9v.9h-.9zM64.4 92.7h.9v.9h-.9zM74.4 91.3h.9v.9h-.9zM65 93.7h.9v.9h-.9zM66.9 96.7h.9v.9h-.9zM77.8 88.1h.9v.9h-.9zM70.7 95.5h.9v.9h-.9zM68.9 97.1h.9v.9h-.9zM74.2 92.6h.9v.9h-.9zM53.4 100.2h.9v.9h-.9zM73.2 92.8h.9v.9h-.9zM74.4 92.2h.9v.9h-.9zM66.4 95.8h.9v.9h-.9zM69.8 90.1h.9v.9h-.9zM61.7 95.7h.9v.9h-.9zM71.2 86.9h.9v.9h-.9zM53.6 100.6h.9v.9h-.9zM72 98.5h.9v.9h-.9zM57.1 96.4h.9v.9h-.9zM65.4 95.4h.9v.9h-.9zM82.9 91.9h.9v.9h-.9zM62.5 98h.9v.9h-.9zM60.1 96.6h.9v.9h-.9zM71.9 93.3h.9v.9h-.9zM64.3 97.6h.9v.9h-.9zM69.4 92.7h.9v.9h-.9zM67 91h.9v.9h-.9zM76.2 91.1h.9v.9h-.9zM75.1 95.1h.9v.9h-.9zM62.6 94.4h.9v.9h-.9zM70.7 94.3h.9v.9h-.9zM69.2 95h.9v.9h-.9zM72.5 87.5h.9v.9h-.9zM62.9 90.2h.9v.9h-.9zM67.3 92.4h.9v.9h-.9zM75 91.2h.9v.9h-.9zM70.4 95.3h.9v.9h-.9zM74 88.2h.9v.9h-.9zM64.5 95.2h.9v.9h-.9zM84 87.2h.9v.9h-.9zM68.8 93.5h.9v.9h-.9zM76.4 90.1h.9v.9h-.9zM72.1 90.8h.9v.9h-.9zM64.9 92.4h.9v.9h-.9zM75.1 89.4h.9v.9h-.9zM74.9 91.8h.9v.9h-.9zM76.1 84h.9v.9h-.9zM61.1 92.7h.9v.9h-.9zM69.2 94.7h.9v.9h-.9zM92.2 88.5h.9v.9h-.9zM81.6 89.4h.9v.9h-.9zM67.2 94.7h.9v.9h-.9zM52.6 100.7h.9v.9h-.9zM70.5 93.8h.9v.9h-.9zM60.7 93.1h.9v.9h-.9zM64.6 94.2h.9v.9h-.9zM72.6 90.8h.9v.9h-.9zM73.4 92.9h.9v.9h-.9zM60.3 95.6h.9v.9h-.9zM56.7 95.8h.9v.9h-.9zM77 88.4h.9v.9h-.9zM85.9 88.2h.9v.9h-.9zM77.5 90.2h.9v.9h-.9zM78 92.3h.9v.9h-.9zM70.5 91.1h.9v.9h-.9zM66.8 98.2h.9v.9h-.9zM68.1 92.1h.9v.9h-.9zM62.9 91h.9v.9h-.9zM66.1 94.6h.9v.9h-.9zM65.4 92.3h.9v.9h-.9zM73.7 92.3h.9v.9h-.9zM66.6 94.4h.9v.9h-.9zM62.5 97.1h.9v.9h-.9zM61.6 94.6h.9v.9h-.9zM70.8 91.2h.9v.9h-.9zM62 100.2h.9v.9h-.9zM81.3 84.5h.9v.9h-.9zM70.1 89.5h.9v.9h-.9zM71.6 88.9h.9v.9h-.9zM75.2 92h.9v.9h-.9zM85.1 90.2h.9v.9h-.9zM66.9 95.8h.9v.9h-.9zM66.1 93.6h.9v.9h-.9zM64.6 90.2h.9v.9h-.9zM73.5 86.5h.9v.9h-.9zM68.4 94.3h.9v.9h-.9zM69.8 88.8h.9v.9h-.9zM65.1 95.8h.9v.9h-.9zM80.3 92.7h.9v.9h-.9zM55.2 98.7h.9v.9h-.9zM66.6 95.5h.9v.9h-.9zM55.9 97h.9v.9h-.9zM75.4 89.1h.9v.9h-.9zM66.3 91.5h.9v.9h-.9zM78.3 86.5h.9v.9h-.9zM62.2 94.4h.9v.9h-.9zM68.9 97.9h.9v.9h-.9zM71.7 90h.9v.9h-.9zM75.1 91.6h.9v.9h-.9zM72.3 91.6h.9v.9h-.9zM73 88.7h.9v.9h-.9zM59.7 95h.9v.9h-.9zM61.3 97.1h.9v.9h-.9zM87 89.6h.9v.9h-.9zM74 91.9h.9v.9h-.9zM63.4 91.7h.9v.9h-.9zM73.5 87.8h.9v.9h-.9zM72.4 91.3h.9v.9h-.9zM76.3 90.5h.9v.9h-.9zM70.5 91h.9v.9h-.9zM55.4 96.7h.9v.9h-.9zM76.6 92.7h.9v.9h-.9zM80.7 86.4h.9v.9h-.9zM62.7 96.7h.9v.9h-.9zM68.1 99.2h.9v.9h-.9zM71.5 88.4h.9v.9h-.9zM66.5 97.4h.9v.9h-.9zM54.9 98h.9v.9h-.9zM59.6 99.9h.9v.9h-.9zM65.5 91.6h.9v.9h-.9zM55.3 95.9h.9v.9h-.9zM48.4 98.8h.9v.9h-.9zM88.2 86.5h.9v.9h-.9zM66.9 90.8h.9v.9h-.9zM72.5 90.5h.9v.9h-.9zM64 97.9h.9v.9h-.9zM73 89.4h.9v.9h-.9zM82.3 88.1h.9v.9h-.9zM74.3 91.4h.9v.9h-.9zM80.3 90.4h.9v.9h-.9zM67.6 95h.9v.9h-.9zM66.8 93.9h.9v.9h-.9zM82.9 85.6h.9v.9h-.9zM61.1 94.6h.9v.9h-.9zM66.8 96.7h.9v.9h-.9zM58.4 101.9h.9v.9h-.9zM82.9 87h.9v.9h-.9zM71.3 91.2h.9v.9h-.9zM76.1 92h.9v.9h-.9zM76.8 92h.9v.9h-.9zM86 86.6h.9v.9h-.9zM75.7 90.1h.9v.9h-.9zM70.5 92.9h.9v.9h-.9zM69.8 93.4h.9v.9h-.9zM62.8 94.6h.9v.9h-.9zM64.1 91.8h.9v.9h-.9zM63.8 93.5h.9v.9h-.9zM67.6 89.6h.9v.9h-.9zM67 90.8h.9v.9h-.9zM63.3 95.2h.9v.9h-.9zM79.4 89.9h.9v.9h-.9zM65.6 93h.9v.9h-.9zM80 85.2h.9v.9h-.9zM78.4 86h.9v.9h-.9zM64.8 94.4h.9v.9h-.9zM69.4 96.7h.9v.9h-.9zM74.1 91h.9v.9h-.9zM78 89.8h.9v.9h-.9zM64.1 97.2h.9v.9h-.9zM83.4 90.9h.9v.9h-.9zM61.6 99.9h.9v.9h-.9zM67.1 95.3h.9v.9h-.9zM81.7 94.1h.9v.9h-.9zM55.8 95h.9v.9h-.9zM80.2 90.2h.9v.9h-.9zM65.3 87.2h.9v.9h-.9zM73.5 90.8h.9v.9h-.9zM50.2 105.7h.9v.9h-.9zM48.8 98.5h.9v.9h-.9zM70.1 93h.9v.9h-.9zM76.1 89.8h.9v.9h-.9zM62.3 94.3h.9v.9h-.9zM51.7 96.2h.9v.9h-.9zM86 85.4h.9v.9h-.9zM70.7 96.8h.9v.9h-.9zM78.9 89.7h.9v.9h-.9zM75.9 89.8h.9v.9h-.9zM63.2 97.2h.9v.9h-.9zM72.3 95.5h.9v.9h-.9zM67.5 92.5h.9v.9h-.9zM72.7 91.1h.9v.9h-.9zM66.7 91.5h.9v.9h-.9zM72.4 92.5h.9v.9h-.9zM85.2 87.2h.9v.9h-.9zM55.7 98.5h.9v.9h-.9zM88.8 85h.9v.9h-.9zM63.2 94.4h.9v.9h-.9zM45.9 100h.9v.9h-.9zM67.3 89.8h.9v.9h-.9zM74.2 89h.9v.9h-.9zM54.1 96.3h.9v.9h-.9zM76.7 94.8h.9v.9h-.9zM80.6 89.3h.9v.9h-.9zM65.5 93.4h.9v.9h-.9zM77.7 88.6h.9v.9h-.9zM74.2 93.4h.9v.9h-.9zM62 93.9h.9v.9h-.9zM73.8 91.2h.9v.9h-.9zM68.6 91.7h.9v.9h-.9zM70.8 96.6h.9v.9h-.9zM80.2 85.2h.9v.9h-.9zM70.5 92.6h.9v.9h-.9zM69.3 89.5h.9v.9h-.9zM69 93.2h.9v.9h-.9zM64.5 95.1h.9v.9h-.9zM48.6 96.3h.9v.9h-.9zM71.1 93h.9v.9h-.9zM68.3 92h.9v.9h-.9zM72.3 94.3h.9v.9h-.9zM77.4 89.7h.9v.9h-.9zM66.9 96.1h.9v.9h-.9zM75.2 92.8h.9v.9h-.9zM67.1 91.5h.9v.9h-.9zM71.1 90.6h.9v.9h-.9zM80.2 91h.9v.9h-.9zM52.3 100.2h.9v.9h-.9zM81.9 90.9h.9v.9h-.9zM65.4 92h.9v.9h-.9zM78.8 91.9h.9v.9h-.9zM69.7 89.9h.9v.9h-.9zM57.4 97.5h.9v.9h-.9zM62.6 93.4h.9v.9h-.9zM74.5 93.5h.9v.9h-.9zM52.3 97h.9v.9h-.9zM80.8 88.7h.9v.9h-.9zM67.6 94.8h.9v.9h-.9zM59.6 93.2h.9v.9h-.9zM71.3 95.8h.9v.9h-.9zM78.5 89.6h.9v.9h-.9zM78.1 88.7h.9v.9h-.9zM58.9 92.3h.9v.9h-.9zM72.9 93.6h.9v.9h-.9zM73.1 91.3h.9v.9h-.9zM67.5 96h.9v.9h-.9zM68.6 89.6h.9v.9h-.9zM81 87.2h.9v.9h-.9zM73.3 91.4h.9v.9h-.9zM79 90h.9v.9h-.9zM80.4 89.4h.9v.9h-.9zM65.8 92.7h.9v.9h-.9zM74.8 88.9h.9v.9h-.9zM77.6 89.3h.9v.9h-.9zM61.6 93.3h.9v.9h-.9zM70.1 96.7h.9v.9h-.9zM76.5 90.3h.9v.9h-.9zM63.8 99.2h.9v.9h-.9zM67.7 93.3h.9v.9h-.9zM67.4 96.6h.9v.9h-.9zM71.1 91h.9v.9h-.9zM70.8 89.8h.9v.9h-.9zM61.1 95.2h.9v.9h-.9zM46.8 103.3h.9v.9h-.9zM85.8 84.4h.9v.9h-.9zM67.7 89.5h.9v.9h-.9zM71.6 92.5h.9v.9h-.9zM75.2 87.5h.9v.9h-.9zM64.5 92.9h.9v.9h-.9zM69.6 98.1h.9v.9h-.9zM68.3 93h.9v.9h-.9zM66.3 95.7h.9v.9h-.9zM92.3 87.6h.9v.9h-.9zM82 85.8h.9v.9h-.9zM78.9 89.5h.9v.9h-.9zM81.2 91.2h.9v.9h-.9zM74.2 87h.9v.9h-.9zM70.8 91h.9v.9h-.9zM73.8 91.3h.9v.9h-.9zM77.6 86.1h.9v.9h-.9zM63.8 94.5h.9v.9h-.9zM72.4 90.7h.9v.9h-.9zM69.8 92.7h.9v.9h-.9zM78.7 89.2h.9v.9h-.9zM70.7 87.9h.9v.9h-.9zM47 96.9h.9v.9h-.9zM71.3 86.6h.9v.9h-.9zM73.4 91.1h.9v.9h-.9zM69.5 90.9h.9v.9h-.9zM67.1 95.5h.9v.9h-.9zM73 91.4h.9v.9h-.9zM66.1 94.4h.9v.9h-.9zM79.9 89h.9v.9h-.9zM66.1 91h.9v.9h-.9zM70.2 90.3h.9v.9h-.9zM58.6 98.5h.9v.9h-.9zM63.3 89.9h.9v.9h-.9zM65.3 98.5h.9v.9h-.9zM68.1 90h.9v.9h-.9zM61.3 97.2h.9v.9h-.9zM73.6 91.8h.9v.9h-.9zM68.7 94.1h.9v.9h-.9zM83.2 89.1h.9v.9h-.9zM67.6 90h.9v.9h-.9zM74.9 94.6h.9v.9h-.9zM74.5 87.9h.9v.9h-.9zM72.5 94.7h.9v.9h-.9zM65 95.4h.9v.9h-.9zM81.3 92.5h.9v.9h-.9zM55.4 93.4h.9v.9h-.9zM73.7 92.9h.9v.9h-.9zM67 93.5h.9v.9h-.9zM67.5 96.2h.9v.9h-.9zM51.7 99.4h.9v.9h-.9zM58.8 94.7h.9v.9h-.9zM56.5 95h.9v.9h-.9zM69.8 92.6h.9v.9h-.9zM84.8 86.9h.9v.9h-.9zM73.2 92.3h.9v.9h-.9zM73.2 94.9h.9v.9h-.9zM71.3 92.4h.9v.9h-.9zM69.1 92.8h.9v.9h-.9zM70.3 94.8h.9v.9h-.9zM70.2 92.6h.9v.9h-.9zM70.2 94.3h.9v.9h-.9zM66.7 95.9h.9v.9h-.9zM65.7 95.6h.9v.9h-.9zM86.3 87.5h.9v.9h-.9zM68.4 90.2h.9v.9h-.9zM76.2 90.4h.9v.9h-.9zM77.1 88.5h.9v.9h-.9zM75.7 94.9h.9v.9h-.9zM73.1 90.6h.9v.9h-.9zM59.1 96.2h.9v.9h-.9zM76 91.9h.9v.9h-.9zM59.9 93.5h.9v.9h-.9zM61.1 93.1h.9v.9h-.9zM67.9 93.9h.9v.9h-.9zM86.3 87.4h.9v.9h-.9zM81 84.8h.9v.9h-.9zM83.5 89.8h.9v.9h-.9zM74.3 93h.9v.9h-.9zM76.6 94.8h.9v.9h-.9zM75.5 86.4h.9v.9h-.9zM56.5 101h.9v.9h-.9zM70.3 95.6h.9v.9h-.9zM66.6 92.1h.9v.9h-.9zM67.4 94.2h.9v.9h-.9zM71.1 90.6h.9v.9h-.9zM75 92.3h.9v.9h-.9zM61.5 92.8h.9v.9h-.9zM53.3 97.5h.9v.9h-.9zM69.6 91h.9v.9h-.9zM64.8 94h.9v.9h-.9zM70.7 93.6h.9v.9h-.9zM77.3 91h.9v.9h-.9zM78.7 87.2h.9v.9h-.9zM75.4 91.5h.9v.9h-.9zM60.7 94.1h.9v.9h-.9zM73.8 91.4h.9v.9h-.9zM59 94.9h.9v.9h-.9zM83.4 89.9h.9v.9h-.9zM71.7 95.2h.9v.9h-.9zM62.2 94.8h.9v.9h-.9zM77.8 89h.9v.9h-.9zM61 97h.9v.9h-.9zM81.6 82.4h.9v.9h-.9zM70.4 89.4h.9v.9h-.9zM66.4 90.3h.9v.9h-.9zM91.4 83.5h.9v.9h-.9zM69.9 90.9h.9v.9h-.9zM61.3 94.4h.9v.9h-.9zM73 95.7h.9v.9h-.9zM73.6 95h.9v.9h-.9zM61.1 95.7h.9v.9h-.9zM65.2 90.4h.9v.9h-.9zM101.2 81.2h.9v.9h-.9zM71.5 90.2h.9v.9h-.9zM64.4 91.9h.9v.9h-.9zM78.3 88.7h.9v.9h-.9zM68.9 93.3h.9v.9h-.9zM59.9 96.5h.9v.9h-.9zM68.9 94h.9v.9h-.9zM66.8 93.7h.9v.9h-.9zM75.1 93.1h.9v.9h-.9zM64.9 96.6h.9v.9h-.9zM61.6 94.9h.9v.9h-.9zM71.2 92.4h.9v.9h-.9zM48.3 97.6h.9v.9h-.9zM69.1 95h.9v.9h-.9zM65.2 97.8h.9v.9h-.9zM54.9 97.9h.9v.9h-.9zM74.6 91h.9v.9h-.9zM72.9 93.7h.9v.9h-.9zM63.7 96.1h.9v.9h-.9zM78.8 88.9h.9v.9h-.9zM49.7 96.6h.9v.9h-.9zM62 92.7h.9v.9h-.9zM73 89.5h.9v.9h-.9zM91.3 86.5h.9v.9h-.9zM58.8 95.7h.9v.9h-.9zM83.4 89.5h.9v.9h-.9zM62.2 97.7h.9v.9h-.9zM67.6 98.6h.9v.9h-.9zM65.8 95.4h.9v.9h-.9zM74.4 89.9h.9v.9h-.9zM69.6 95.4h.9v.9h-.9zM74.1 90.9h.9v.9h-.9zM75 95h.9v.9h-.9zM78.2 90.8h.9v.9h-.9zM71.6 88.2h.9v.9h-.9zM70.8 91.1h.9v.9h-.9zM75.7 89.1h.9v.9h-.9zM73 88.9h.9v.9h-.9zM77 88.3h.9v.9h-.9zM70.2 93.8h.9v.9h-.9zM67.3 93.5h.9v.9h-.9zM80.2 93.2h.9v.9h-.9zM54.2 95.8h.9v.9h-.9zM76.4 92.6h.9v.9h-.9zM66.1 94.1h.9v.9h-.9z"/>
<path fill="#e3303a" fill-opacity="0.55" d="M61.4 124.1h.9v.9h-.9zM44.1 123.1h.9v.9h-.9zM80.7 132.8h.9v.9h-.9zM89 143.9h.9v.9h-.9zM68.9 144h.9v.9h-.9zM74.2 147h.9v.9h-.9zM51.5 130.9h.9v.9h-.9zM57 138.1h.9v.9h-.9zM60.8 123.6h.9v.9h-.9zM91.3 127.7h.9v.9h-.9zM68.9 136.6h.9v.9h-.9zM53.1 144.7h.9v.9h-.9zM69.9 133.6h.9v.9h-.9zM74.9 129.3h.9v.9h-.9zM75.4 144.4h.9v.9h-.9zM41.3 134.9h.9v.9h-.9zM68.1 145.2h.9v.9h-.9zM66 136.8h.9v.9h-.9zM59.5 133.8h.9v.9h-.9zM64 125.5h.9v.9h-.9zM72.2 133.5h.9v.9h-.9zM70.7 131.5h.9v.9h-.9zM69.3 138.4h.9v.9h-.9zM75.4 142h.9v.9h-.9zM76 135.2h.9v.9h-.9zM63.3 134.2h.9v.9h-.9zM47.9 135.6h.9v.9h-.9zM78 145.4h.9v.9h-.9zM53.1 140.3h.9v.9h-.9zM73.6 122.2h.9v.9h-.9zM68.5 140.6h.9v.9h-.9zM73.6 139.8h.9v.9h-.9zM41.7 115.1h.9v.9h-.9zM89.5 132.7h.9v.9h-.9zM80.4 150.7h.9v.9h-.9zM65.1 124.6h.9v.9h-.9zM81.6 136.6h.9v.9h-.9zM70.7 142.2h.9v.9h-.9zM76.2 148h.9v.9h-.9zM45.7 121.7h.9v.9h-.9zM65.8 137.1h.9v.9h-.9zM74 135.5h.9v.9h-.9zM81.6 149.6h.9v.9h-.9zM77.3 128.5h.9v.9h-.9zM62.9 136.2h.9v.9h-.9zM49.9 127.6h.9v.9h-.9zM66.1 123.8h.9v.9h-.9zM71 142.1h.9v.9h-.9zM61 133.3h.9v.9h-.9zM71.7 142.2h.9v.9h-.9zM68.7 123.7h.9v.9h-.9zM55.6 133h.9v.9h-.9zM40.6 128.3h.9v.9h-.9zM54.6 145.6h.9v.9h-.9zM58.7 131.7h.9v.9h-.9zM54 132.2h.9v.9h-.9zM43.7 139.9h.9v.9h-.9zM79.3 138.7h.9v.9h-.9zM57.1 150.7h.9v.9h-.9zM70.3 125.9h.9v.9h-.9zM56.6 130.4h.9v.9h-.9zM63.4 150.1h.9v.9h-.9zM54.9 135.4h.9v.9h-.9zM65.4 124.1h.9v.9h-.9zM57.9 143.6h.9v.9h-.9zM78.5 116.7h.9v.9h-.9zM73.1 133.9h.9v.9h-.9zM80.6 143.7h.9v.9h-.9zM89.3 140.4h.9v.9h-.9zM58.9 128h.9v.9h-.9zM45.6 143h.9v.9h-.9zM70.6 145.9h.9v.9h-.9zM68.5 120.8h.9v.9h-.9zM58.8 134.4h.9v.9h-.9zM66.1 145.3h.9v.9h-.9zM82.2 140.1h.9v.9h-.9zM37.5 126h.9v.9h-.9zM36.6 128.7h.9v.9h-.9zM48.6 139.6h.9v.9h-.9zM61.2 149.1h.9v.9h-.9zM77.9 132.1h.9v.9h-.9zM76.1 137.1h.9v.9h-.9zM69.9 151.6h.9v.9h-.9zM49.3 136.3h.9v.9h-.9zM83.8 128.8h.9v.9h-.9zM66.8 138.4h.9v.9h-.9zM58.7 122.9h.9v.9h-.9zM55.2 126.4h.9v.9h-.9zM77.9 139.7h.9v.9h-.9zM73 124.2h.9v.9h-.9zM70.4 138.6h.9v.9h-.9zM77.5 129.2h.9v.9h-.9zM74.4 151.8h.9v.9h-.9zM87.2 127h.9v.9h-.9zM49.6 121.2h.9v.9h-.9zM76.4 143.4h.9v.9h-.9zM68.4 127.7h.9v.9h-.9zM63.6 135.7h.9v.9h-.9zM79.3 142.5h.9v.9h-.9zM81.3 132.6h.9v.9h-.9zM68.4 133.4h.9v.9h-.9zM56.7 133.8h.9v.9h-.9zM60.4 142.4h.9v.9h-.9zM60.1 137.8h.9v.9h-.9zM53.6 123.8h.9v.9h-.9zM82.4 126.4h.9v.9h-.9zM87.3 147.1h.9v.9h-.9zM58.7 137.2h.9v.9h-.9zM61.7 130.5h.9v.9h-.9zM80.1 135.6h.9v.9h-.9zM76.4 129.6h.9v.9h-.9zM55.1 151.4h.9v.9h-.9zM60.4 125.2h.9v.9h-.9zM61.8 148.3h.9v.9h-.9zM61.9 129.3h.9v.9h-.9zM72.2 147.6h.9v.9h-.9zM61.4 133.6h.9v.9h-.9zM62.1 141.4h.9v.9h-.9zM37.9 138.9h.9v.9h-.9zM64.7 133.6h.9v.9h-.9zM58.8 122.3h.9v.9h-.9zM44.9 138.8h.9v.9h-.9zM55.8 136h.9v.9h-.9zM61.7 131.6h.9v.9h-.9zM49.9 131.5h.9v.9h-.9zM60.2 124.6h.9v.9h-.9zM51.7 146.3h.9v.9h-.9zM76 138.4h.9v.9h-.9zM79.9 128.2h.9v.9h-.9zM53.7 124.8h.9v.9h-.9zM63.4 128.3h.9v.9h-.9zM72.2 125.1h.9v.9h-.9zM65.1 116h.9v.9h-.9zM63.6 148.3h.9v.9h-.9zM60.6 140.4h.9v.9h-.9zM78 125.2h.9v.9h-.9zM47.7 137.9h.9v.9h-.9zM67.6 134.1h.9v.9h-.9zM51.6 150h.9v.9h-.9zM49.1 134.2h.9v.9h-.9zM63.5 144.8h.9v.9h-.9zM58.3 128.2h.9v.9h-.9zM89.9 127.9h.9v.9h-.9zM74.3 135.4h.9v.9h-.9zM57.9 136.5h.9v.9h-.9zM60.8 140.3h.9v.9h-.9zM65 126.6h.9v.9h-.9zM87.7 143.9h.9v.9h-.9zM67 133.7h.9v.9h-.9zM81.9 132.2h.9v.9h-.9zM53.5 144.4h.9v.9h-.9zM51.6 128.5h.9v.9h-.9zM82.6 119.8h.9v.9h-.9zM63.2 138.3h.9v.9h-.9zM67.4 121.4h.9v.9h-.9zM61.1 133.4h.9v.9h-.9zM88.7 147.8h.9v.9h-.9zM54.4 146.4h.9v.9h-.9zM72.4 135.8h.9v.9h-.9zM60.9 134.1h.9v.9h-.9zM44.3 130.2h.9v.9h-.9zM76.1 152.5h.9v.9h-.9zM87.8 133h.9v.9h-.9zM72 111.2h.9v.9h-.9zM60.6 123.4h.9v.9h-.9zM74.6 119.2h.9v.9h-.9zM50.7 125.1h.9v.9h-.9zM69.1 146h.9v.9h-.9zM66.1 128.1h.9v.9h-.9zM68.5 136.9h.9v.9h-.9zM74.7 140.7h.9v.9h-.9zM92.1 149.6h.9v.9h-.9zM55.9 145.5h.9v.9h-.9zM73.8 126.3h.9v.9h-.9zM54.4 128.3h.9v.9h-.9zM61.3 150.2h.9v.9h-.9zM56.9 137.8h.9v.9h-.9zM73.4 147.4h.9v.9h-.9zM68.2 125.8h.9v.9h-.9zM92.3 146.3h.9v.9h-.9zM82.1 141.5h.9v.9h-.9zM70.1 143.8h.9v.9h-.9zM44.8 145.7h.9v.9h-.9zM51.6 141.5h.9v.9h-.9zM51.1 144.7h.9v.9h-.9zM66.5 142.5h.9v.9h-.9zM52.5 133.9h.9v.9h-.9zM63.3 133.9h.9v.9h-.9zM58.5 127.6h.9v.9h-.9zM73.9 132.9h.9v.9h-.9zM53.6 140.9h.9v.9h-.9zM53.7 135.1h.9v.9h-.9zM57.5 127.1h.9v.9h-.9zM61.2 128.2h.9v.9h-.9zM48 140.8h.9v.9h-.9zM60.3 121.3h.9v.9h-.9zM59 139h.9v.9h-.9zM69.6 141h.9v.9h-.9zM67.3 143.4h.9v.9h-.9zM57.8 128.5h.9v.9h-.9zM72 132.6h.9v.9h-.9zM64.2 144h.9v.9h-.9zM76.1 150.1h.9v.9h-.9zM55.3 133h.9v.9h-.9zM71.2 121.7h.9v.9h-.9zM48 143.5h.9v.9h-.9zM56.2 127.1h.9v.9h-.9zM74.4 142.7h.9v.9h-.9zM75.9 133.5h.9v.9h-.9zM60.4 133.4h.9v.9h-.9zM67.9 115.3h.9v.9h-.9zM55.2 144.6h.9v.9h-.9zM54.1 136.3h.9v.9h-.9zM65.7 142.6h.9v.9h-.9zM58 124.9h.9v.9h-.9zM96.1 129.3h.9v.9h-.9zM86 118.2h.9v.9h-.9zM65.5 134.9h.9v.9h-.9zM76.6 126.2h.9v.9h-.9zM53.8 129h.9v.9h-.9zM57.5 139.8h.9v.9h-.9zM54.1 134.4h.9v.9h-.9zM82.9 152.4h.9v.9h-.9zM40.3 126.8h.9v.9h-.9zM59.4 150.9h.9v.9h-.9zM68.8 152.4h.9v.9h-.9zM53.1 133.7h.9v.9h-.9zM77.2 143.1h.9v.9h-.9zM40.2 134.1h.9v.9h-.9zM66.4 143.7h.9v.9h-.9zM66.1 152.5h.9v.9h-.9zM69.3 137.9h.9v.9h-.9zM60.1 124.5h.9v.9h-.9zM75.2 145.1h.9v.9h-.9zM76.1 133h.9v.9h-.9zM51.3 133h.9v.9h-.9zM60.1 136.9h.9v.9h-.9zM76.7 127.3h.9v.9h-.9zM57.9 144.4h.9v.9h-.9zM70.9 128h.9v.9h-.9zM50.9 128.6h.9v.9h-.9zM65 139.7h.9v.9h-.9zM63.3 130.5h.9v.9h-.9zM61.8 136.2h.9v.9h-.9zM71.7 137.9h.9v.9h-.9zM53.8 124.5h.9v.9h-.9zM83.1 136.1h.9v.9h-.9zM61.9 136.8h.9v.9h-.9zM78.5 133.7h.9v.9h-.9zM66.4 134.5h.9v.9h-.9zM71.5 126.2h.9v.9h-.9zM66.7 148h.9v.9h-.9zM79.3 143.6h.9v.9h-.9zM73.2 151.9h.9v.9h-.9zM48.8 125.3h.9v.9h-.9zM74.4 134.2h.9v.9h-.9zM58.7 126.9h.9v.9h-.9zM83.1 124.3h.9v.9h-.9zM65.5 122.2h.9v.9h-.9zM95.2 131.8h.9v.9h-.9zM53.2 118h.9v.9h-.9zM68.6 125.5h.9v.9h-.9zM45.7 149h.9v.9h-.9zM54.9 125.7h.9v.9h-.9zM66.3 135h.9v.9h-.9zM78.5 138h.9v.9h-.9zM84.5 149.1h.9v.9h-.9zM86.9 149h.9v.9h-.9zM65.1 142.8h.9v.9h-.9zM64.5 120.5h.9v.9h-.9zM49.2 144.9h.9v.9h-.9zM47.8 136.3h.9v.9h-.9zM51 139.7h.9v.9h-.9zM61.7 132h.9v.9h-.9zM53.4 113.4h.9v.9h-.9zM65.1 123.3h.9v.9h-.9zM60.4 141h.9v.9h-.9zM77.5 144.5h.9v.9h-.9zM83 121.9h.9v.9h-.9zM69.2 125.2h.9v.9h-.9zM69.3 131.5h.9v.9h-.9zM56 148.4h.9v.9h-.9zM61.9 125.1h.9v.9h-.9zM53.4 144.2h.9v.9h-.9zM66.5 149.5h.9v.9h-.9zM60.7 127h.9v.9h-.9zM56.1 126.1h.9v.9h-.9zM97.2 139.1h.9v.9h-.9zM60.1 150.4h.9v.9h-.9zM72.6 135.1h.9v.9h-.9zM72.1 139.9h.9v.9h-.9zM60.2 136.7h.9v.9h-.9zM61.9 150h.9v.9h-.9zM69.1 145.4h.9v.9h-.9zM75.6 130.3h.9v.9h-.9zM65.8 151.8h.9v.9h-.9zM76 145.7h.9v.9h-.9zM60.6 133.2h.9v.9h-.9zM53.3 134.2h.9v.9h-.9zM63.4 121.8h.9v.9h-.9zM79 128.9h.9v.9h-.9zM67.4 143.4h.9v.9h-.9zM57.2 117.8h.9v.9h-.9zM76.5 141.4h.9v.9h-.9zM61 149.1h.9v.9h-.9zM75.6 126.9h.9v.9h-.9zM63.2 118.3h.9v.9h-.9zM60.9 152h.9v.9h-.9zM53.6 145.8h.9v.9h-.9zM45.1 133.9h.9v.9h-.9zM70 145.1h.9v.9h-.9zM86 111.1h.9v.9h-.9zM95.5 143.4h.9v.9h-.9zM65.1 139.8h.9v.9h-.9zM64.6 130.5h.9v.9h-.9zM64 135.7h.9v.9h-.9zM72.7 144.3h.9v.9h-.9zM76.7 143.3h.9v.9h-.9zM51.9 151.8h.9v.9h-.9zM68.4 131.4h.9v.9h-.9zM88 125.4h.9v.9h-.9zM49.4 131.7h.9v.9h-.9zM69.5 145.5h.9v.9h-.9zM65.6 144.1h.9v.9h-.9zM55.3 130.6h.9v.9h-.9zM65.9 122.7h.9v.9h-.9zM66.6 132.8h.9v.9h-.9zM72.9 126.3h.9v.9h-.9zM57.5 131h.9v.9h-.9zM59.6 126.4h.9v.9h-.9zM60.9 122.7h.9v.9h-.9zM71 144.2h.9v.9h-.9zM64 135h.9v.9h-.9zM53 126.8h.9v.9h-.9zM61.4 127.4h.9v.9h-.9zM49.4 138.8h.9v.9h-.9zM64 132.7h.9v.9h-.9zM53.9 136.5h.9v.9h-.9zM55.5 132.5h.9v.9h-.9zM66.6 144.7h.9v.9h-.9zM73.8 130.6h.9v.9h-.9zM79.5 124.7h.9v.9h-.9zM62 150.9h.9v.9h-.9zM94.2 138.4h.9v.9h-.9zM59.7 133.1h.9v.9h-.9zM48.9 135.5h.9v.9h-.9zM58.9 129h.9v.9h-.9zM79.3 128.8h.9v.9h-.9zM85.6 146h.9v.9h-.9zM72.3 130.8h.9v.9h-.9zM57.8 115.8h.9v.9h-.9zM67.7 134.2h.9v.9h-.9zM69.1 129.9h.9v.9h-.9zM70.3 121.1h.9v.9h-.9zM36.6 142.1h.9v.9h-.9zM77.7 103.6h.9v.9h-.9zM80.4 133.3h.9v.9h-.9zM62.2 120.7h.9v.9h-.9zM51.6 144.6h.9v.9h-.9zM54.9 136.6h.9v.9h-.9zM75.4 123h.9v.9h-.9zM58.2 124.8h.9v.9h-.9zM46.7 129.8h.9v.9h-.9zM78.1 137.5h.9v.9h-.9zM72.7 135.6h.9v.9h-.9zM58.9 137.9h.9v.9h-.9zM86.8 141h.9v.9h-.9zM71.8 115.9h.9v.9h-.9zM54.2 145.7h.9v.9h-.9zM79.5 132.8h.9v.9h-.9zM61.4 132.2h.9v.9h-.9zM74.2 137.3h.9v.9h-.9zM83.1 149.6h.9v.9h-.9zM60.3 130.5h.9v.9h-.9zM61.2 127.7h.9v.9h-.9zM58.9 136.3h.9v.9h-.9zM75.4 120.2h.9v.9h-.9zM46.6 128.8h.9v.9h-.9zM60.4 141.9h.9v.9h-.9zM57.5 134.7h.9v.9h-.9zM64.9 149.5h.9v.9h-.9zM67.9 137.3h.9v.9h-.9zM57.4 138.8h.9v.9h-.9zM69.2 133.3h.9v.9h-.9zM63.9 117.4h.9v.9h-.9zM57.5 149.6h.9v.9h-.9zM82 136.2h.9v.9h-.9zM59 147.7h.9v.9h-.9zM56.4 151.6h.9v.9h-.9zM78.7 125.7h.9v.9h-.9zM61.4 124.1h.9v.9h-.9zM67.6 132.8h.9v.9h-.9zM45.4 125.8h.9v.9h-.9zM67.2 120.8h.9v.9h-.9zM77.7 141.8h.9v.9h-.9zM61.9 151.9h.9v.9h-.9zM52.6 144.3h.9v.9h-.9zM47.2 133.5h.9v.9h-.9zM72.2 131.3h.9v.9h-.9zM62.7 143.9h.9v.9h-.9zM83.2 150.9h.9v.9h-.9zM69.9 134.2h.9v.9h-.9zM87.6 114h.9v.9h-.9zM75 136.6h.9v.9h-.9zM73 140.4h.9v.9h-.9zM61.7 137h.9v.9h-.9zM63.7 149.4h.9v.9h-.9zM60.9 131.2h.9v.9h-.9zM72.3 143.9h.9v.9h-.9zM69.6 140h.9v.9h-.9zM82.6 148.9h.9v.9h-.9zM66.8 134.8h.9v.9h-.9zM72.4 117h.9v.9h-.9zM57.6 129.5h.9v.9h-.9zM66.3 132.9h.9v.9h-.9zM95 144.9h.9v.9h-.9zM64.1 133.6h.9v.9h-.9zM79.5 145.9h.9v.9h-.9zM75.7 149.9h.9v.9h-.9zM59.6 129.9h.9v.9h-.9zM55.1 138.1h.9v.9h-.9zM76.7 125.8h.9v.9h-.9zM57.4 122.7h.9v.9h-.9zM89.1 145.6h.9v.9h-.9zM66.9 124h.9v.9h-.9zM51.2 130.1h.9v.9h-.9zM64.5 123.4h.9v.9h-.9zM61.3 150.1h.9v.9h-.9zM64.3 138.1h.9v.9h-.9zM37.9 134.1h.9v.9h-.9zM62.3 129.6h.9v.9h-.9zM46.8 136.2h.9v.9h-.9zM51.3 131.2h.9v.9h-.9zM44.2 136h.9v.9h-.9zM75.5 128h.9v.9h-.9zM68.2 120.8h.9v.9h-.9zM71.4 142.8h.9v.9h-.9zM59.3 146.5h.9v.9h-.9zM53.2 137.5h.9v.9h-.9zM85.2 136.8h.9v.9h-.9zM50.1 149.4h.9v.9h-.9zM70.8 134h.9v.9h-.9zM41.4 116.8h.9v.9h-.9zM67.8 127.9h.9v.9h-.9zM53.6 142.2h.9v.9h-.9zM43.6 141h.9v.9h-.9zM86.8 121.9h.9v.9h-.9zM64.8 130.2h.9v.9h-.9zM63 137.9h.9v.9h-.9zM67.6 146.6h.9v.9h-.9zM70.5 148.2h.9v.9h-.9zM76.8 148.8h.9v.9h-.9zM55.7 141.4h.9v.9h-.9zM59.5 128h.9v.9h-.9zM88.5 140.1h.9v.9h-.9zM64.7 114.4h.9v.9h-.9zM61.2 145.3h.9v.9h-.9zM61.6 131.2h.9v.9h-.9zM82.5 133.7h.9v.9h-.9zM60 135.9h.9v.9h-.9zM61.2 148.3h.9v.9h-.9zM71.2 136.3h.9v.9h-.9zM59.6 134.6h.9v.9h-.9zM85.2 133.7h.9v.9h-.9zM72.3 120.1h.9v.9h-.9zM68.1 144.4h.9v.9h-.9zM80 140.4h.9v.9h-.9zM71.3 140.5h.9v.9h-.9zM66.6 128.3h.9v.9h-.9zM71.5 135.8h.9v.9h-.9zM72.1 145.3h.9v.9h-.9zM66 132.3h.9v.9h-.9zM67.9 123.6h.9v.9h-.9zM67.5 127.5h.9v.9h-.9zM69.7 138.3h.9v.9h-.9zM61.4 124.1h.9v.9h-.9zM64.7 129.7h.9v.9h-.9zM62.4 144.5h.9v.9h-.9zM76 123.2h.9v.9h-.9zM75.8 151.6h.9v.9h-.9zM78.1 140h.9v.9h-.9zM60.1 120.6h.9v.9h-.9zM65.3 140.1h.9v.9h-.9zM51.2 123.9h.9v.9h-.9zM88.8 138.2h.9v.9h-.9zM73.8 130.7h.9v.9h-.9zM45.3 135.1h.9v.9h-.9zM80.8 129.8h.9v.9h-.9zM41.9 135.1h.9v.9h-.9zM60.6 137.2h.9v.9h-.9zM51.2 133.7h.9v.9h-.9zM57.4 146.5h.9v.9h-.9zM66 146.4h.9v.9h-.9zM63.5 114.1h.9v.9h-.9zM39.8 142.7h.9v.9h-.9zM75 146.4h.9v.9h-.9zM63.2 117.8h.9v.9h-.9zM58 141.3h.9v.9h-.9zM81.3 133.3h.9v.9h-.9zM57.2 128.7h.9v.9h-.9zM76.8 146.3h.9v.9h-.9zM41.4 150h.9v.9h-.9zM52.7 121.2h.9v.9h-.9zM44.3 129.2h.9v.9h-.9zM48.7 129.8h.9v.9h-.9zM66.1 141.5h.9v.9h-.9zM58.2 120h.9v.9h-.9zM59 129.7h.9v.9h-.9zM41.9 138.6h.9v.9h-.9zM45.9 118.4h.9v.9h-.9zM83 147.1h.9v.9h-.9zM82.1 138.3h.9v.9h-.9zM59 136.1h.9v.9h-.9zM47.1 145h.9v.9h-.9zM67.5 133.7h.9v.9h-.9zM40.9 135.8h.9v.9h-.9zM84.4 152.6h.9v.9h-.9zM75 133.2h.9v.9h-.9zM65.9 143h.9v.9h-.9zM66.6 148.3h.9v.9h-.9zM55.9 112.1h.9v.9h-.9zM46.9 144.1h.9v.9h-.9zM77.5 137h.9v.9h-.9zM70.9 137.8h.9v.9h-.9zM66.3 131.9h.9v.9h-.9zM59.1 149.8h.9v.9h-.9zM60.8 136.6h.9v.9h-.9zM79 147.6h.9v.9h-.9zM59.3 139.7h.9v.9h-.9zM51.6 138.4h.9v.9h-.9zM68.1 137h.9v.9h-.9zM66.2 140.9h.9v.9h-.9zM65.1 131.7h.9v.9h-.9zM52.1 134.5h.9v.9h-.9zM84.2 134.6h.9v.9h-.9zM56.1 131.8h.9v.9h-.9zM49.3 142.2h.9v.9h-.9zM51.9 146.8h.9v.9h-.9zM75.5 143.2h.9v.9h-.9zM77.1 136.1h.9v.9h-.9zM42.3 136.3h.9v.9h-.9zM72.1 120.4h.9v.9h-.9zM48.9 148.8h.9v.9h-.9zM69.6 151.5h.9v.9h-.9zM72.5 137.7h.9v.9h-.9zM69.5 146.1h.9v.9h-.9zM63.8 134.7h.9v.9h-.9zM68.1 133.6h.9v.9h-.9zM94.2 128.8h.9v.9h-.9zM45.3 123.1h.9v.9h-.9zM77.2 132.6h.9v.9h-.9zM66.1 134.7h.9v.9h-.9zM67.6 121.4h.9v.9h-.9zM65.2 130.8h.9v.9h-.9zM77.7 143.7h.9v.9h-.9zM48.4 126.6h.9v.9h-.9zM71.3 149.9h.9v.9h-.9zM73.7 135.4h.9v.9h-.9zM78 111.6h.9v.9h-.9zM57.5 126.5h.9v.9h-.9zM51.3 143.1h.9v.9h-.9zM67.6 140.1h.9v.9h-.9zM62.5 143.7h.9v.9h-.9zM74 130.8h.9v.9h-.9zM75.9 127h.9v.9h-.9zM86.2 123h.9v.9h-.9zM60.6 125.4h.9v.9h-.9zM64.7 151.2h.9v.9h-.9zM81.8 141.2h.9v.9h-.9zM56.8 146.7h.9v.9h-.9zM76.2 136.6h.9v.9h-.9zM95.3 129.7h.9v.9h-.9zM47.5 134.7h.9v.9h-.9zM42.1 138.7h.9v.9h-.9zM80 129.8h.9v.9h-.9zM58.4 123.9h.9v.9h-.9zM73.8 145.9h.9v.9h-.9zM71.6 139.7h.9v.9h-.9zM76.6 135.7h.9v.9h-.9zM73.2 145.8h.9v.9h-.9zM80.5 142.5h.9v.9h-.9zM65.2 144.6h.9v.9h-.9zM44.7 118h.9v.9h-.9zM84.5 138.5h.9v.9h-.9zM50.9 130.7h.9v.9h-.9zM62.3 137.8h.9v.9h-.9zM54.6 147.7h.9v.9h-.9zM72.6 118.8h.9v.9h-.9zM48.7 137.7h.9v.9h-.9zM67.6 132.4h.9v.9h-.9zM64.3 138.8h.9v.9h-.9zM49.7 137.7h.9v.9h-.9zM92.9 130h.9v.9h-.9zM51.4 144.2h.9v.9h-.9zM81.2 148.3h.9v.9h-.9zM56.2 136.2h.9v.9h-.9zM66.7 134.7h.9v.9h-.9zM69.2 148.7h.9v.9h-.9zM71.1 136.9h.9v.9h-.9zM73.5 138h.9v.9h-.9zM79.6 146.9h.9v.9h-.9zM90.6 117.6h.9v.9h-.9zM65.4 133.7h.9v.9h-.9zM54.9 137.8h.9v.9h-.9zM71 142.7h.9v.9h-.9zM62.4 122.7h.9v.9h-.9zM71.3 143.6h.9v.9h-.9zM91.2 147.1h.9v.9h-.9zM64.4 124.6h.9v.9h-.9zM98.9 129.7h.9v.9h-.9zM66.7 145.1h.9v.9h-.9zM70.6 151.4h.9v.9h-.9zM51 129.5h.9v.9h-.9zM66.4 123.6h.9v.9h-.9zM56.4 152h.9v.9h-.9zM67.9 135.9h.9v.9h-.9zM56.9 137.5h.9v.9h-.9zM63.8 125.3h.9v.9h-.9zM74.2 123.1h.9v.9h-.9zM80.6 133.3h.9v.9h-.9zM67.9 127.6h.9v.9h-.9zM87.3 152h.9v.9h-.9zM91.1 146.7h.9v.9h-.9zM81.5 130.4h.9v.9h-.9zM80.9 132.3h.9v.9h-.9zM63.5 122.2h.9v.9h-.9zM64.9 141.4h.9v.9h-.9zM63.4 125h.9v.9h-.9zM75.8 146.9h.9v.9h-.9zM63 145.5h.9v.9h-.9zM76.9 126.3h.9v.9h-.9zM63.7 116.7h.9v.9h-.9zM50.9 141.7h.9v.9h-.9zM52.9 141.3h.9v.9h-.9zM68.8 114.5h.9v.9h-.9zM64.4 138.4h.9v.9h-.9zM55.1 119.5h.9v.9h-.9zM61.8 127.5h.9v.9h-.9zM65.6 115.8h.9v.9h-.9zM54.5 140.5h.9v.9h-.9zM52.5 146.4h.9v.9h-.9zM53.3 135.4h.9v.9h-.9zM81.1 142.7h.9v.9h-.9zM59.9 120.4h.9v.9h-.9zM43.6 150.2h.9v.9h-.9zM70.8 137.6h.9v.9h-.9zM80.4 138.6h.9v.9h-.9zM54.8 135.9h.9v.9h-.9zM62.9 136.9h.9v.9h-.9zM96.4 143.3h.9v.9h-.9zM67.7 134.3h.9v.9h-.9zM55.4 126.1h.9v.9h-.9zM39.8 132h.9v.9h-.9zM44.5 116.7h.9v.9h-.9zM52 114.8h.9v.9h-.9zM82 150.7h.9v.9h-.9zM72.7 109.3h.9v.9h-.9zM64.4 126.1h.9v.9h-.9zM41.5 134.1h.9v.9h-.9zM79.1 141.9h.9v.9h-.9zM45.2 129.7h.9v.9h-.9zM54.3 149.6h.9v.9h-.9zM62.9 126.3h.9v.9h-.9zM52.3 115.4h.9v.9h-.9zM53.2 146.8h.9v.9h-.9zM39.3 139.1h.9v.9h-.9zM62.7 146h.9v.9h-.9zM49.3 147h.9v.9h-.9zM43 136.7h.9v.9h-.9zM61.4 138.4h.9v.9h-.9zM51.3 146.4h.9v.9h-.9zM51.7 130.7h.9v.9h-.9zM73.6 138.5h.9v.9h-.9zM54.2 150.6h.9v.9h-.9zM70.9 148.3h.9v.9h-.9zM61.8 151.1h.9v.9h-.9zM58 124.7h.9v.9h-.9zM64 121.6h.9v.9h-.9zM80.4 145.1h.9v.9h-.9zM42.2 138.9h.9v.9h-.9zM75.2 133.1h.9v.9h-.9zM69.5 130.6h.9v.9h-.9zM63.2 136.1h.9v.9h-.9zM70.4 126.3h.9v.9h-.9zM49.4 140.6h.9v.9h-.9zM57.5 142.7h.9v.9h-.9zM57.5 122.6h.9v.9h-.9zM73.7 139.9h.9v.9h-.9zM73.6 133.3h.9v.9h-.9zM59.4 150.9h.9v.9h-.9zM70.8 136.4h.9v.9h-.9zM65.2 143.7h.9v.9h-.9zM54 140.1h.9v.9h-.9zM51.6 116.6h.9v.9h-.9zM66.7 138.1h.9v.9h-.9zM72.5 143.1h.9v.9h-.9zM73.2 145.7h.9v.9h-.9zM50.3 150.4h.9v.9h-.9zM99.1 130.8h.9v.9h-.9zM47.6 144.6h.9v.9h-.9zM76 148.2h.9v.9h-.9zM84.1 121.7h.9v.9h-.9zM69 142.1h.9v.9h-.9zM80.4 127.2h.9v.9h-.9zM64.4 132.9h.9v.9h-.9zM61.9 135.4h.9v.9h-.9zM62.1 117.5h.9v.9h-.9zM63.6 137.7h.9v.9h-.9zM59 97.8h.9v.9h-.9zM55 129.8h.9v.9h-.9zM76.2 135h.9v.9h-.9zM51.4 142.2h.9v.9h-.9zM78.5 135.6h.9v.9h-.9zM72.1 128.2h.9v.9h-.9zM43.3 146.3h.9v.9h-.9zM85.4 133.6h.9v.9h-.9zM57.2 117.2h.9v.9h-.9zM92.1 123.8h.9v.9h-.9zM51.4 134.9h.9v.9h-.9zM79.9 137.6h.9v.9h-.9zM63.8 137.2h.9v.9h-.9zM75.1 136.6h.9v.9h-.9zM66.1 136.2h.9v.9h-.9zM49.5 151.8h.9v.9h-.9zM55 122.4h.9v.9h-.9zM58.3 137.4h.9v.9h-.9zM74.8 120.8h.9v.9h-.9zM47.5 139h.9v.9h-.9zM69 124.9h.9v.9h-.9zM49.2 138.9h.9v.9h-.9zM62.2 119.1h.9v.9h-.9zM50.2 148.6h.9v.9h-.9zM85 130h.9v.9h-.9zM55.1 143.9h.9v.9h-.9zM47.8 143.1h.9v.9h-.9zM80 139.9h.9v.9h-.9zM68.3 135.3h.9v.9h-.9zM77.1 128h.9v.9h-.9zM84.8 136.7h.9v.9h-.9zM59.8 119h.9v.9h-.9zM58.3 139.6h.9v.9h-.9zM80.3 119.2h.9v.9h-.9zM62.4 129.4h.9v.9h-.9zM48.4 137.1h.9v.9h-.9zM54.1 146.6h.9v.9h-.9zM39.2 115.5h.9v.9h-.9zM70.8 133.3h.9v.9h-.9zM65.7 126.3h.9v.9h-.9zM50.3 128.9h.9v.9h-.9zM63.3 127.7h.9v.9h-.9zM58.5 127.5h.9v.9h-.9zM67.1 124.4h.9v.9h-.9zM36.8 108h.9v.9h-.9zM63.8 138.1h.9v.9h-.9zM76.6 128.8h.9v.9h-.9zM49.1 120.5h.9v.9h-.9zM73.9 130.1h.9v.9h-.9zM76.9 136.1h.9v.9h-.9zM60.4 116.5h.9v.9h-.9zM55.2 145.7h.9v.9h-.9zM56 144.5h.9v.9h-.9zM42.5 148.2h.9v.9h-.9zM100.4 149.3h.9v.9h-.9zM68.2 123.4h.9v.9h-.9zM57.1 129.8h.9v.9h-.9zM66.4 114.7h.9v.9h-.9zM52.7 145.7h.9v.9h-.9zM65.9 145.2h.9v.9h-.9zM75.1 124.4h.9v.9h-.9zM46.4 142.1h.9v.9h-.9zM64.4 137.9h.9v.9h-.9zM53.4 148.2h.9v.9h-.9zM70.5 149.6h.9v.9h-.9zM59.4 144.6h.9v.9h-.9zM63.2 126.6h.9v.9h-.9zM63 118.7h.9v.9h-.9zM61.7 139h.9v.9h-.9zM73.1 125.4h.9v.9h-.9zM46.7 128.9h.9v.9h-.9zM37 129.8h.9v.9h-.9zM98.1 138.6h.9v.9h-.9zM54.1 129.5h.9v.9h-.9zM87.1 124.1h.9v.9h-.9zM62.5 136.1h.9v.9h-.9zM54.4 129.1h.9v.9h-.9zM42.1 127.7h.9v.9h-.9zM60.3 144.8h.9v.9h-.9zM70 138.2h.9v.9h-.9zM62.2 150.4h.9v.9h-.9zM71.4 134.5h.9v.9h-.9zM61 147.3h.9v.9h-.9zM56.3 129.1h.9v.9h-.9zM60.4 131.5h.9v.9h-.9zM80.5 140.9h.9v.9h-.9zM62.9 131.2h.9v.9h-.9zM82.5 141.9h.9v.9h-.9zM91.2 147h.9v.9h-.9zM61.2 130.9h.9v.9h-.9zM60.3 139h.9v.9h-.9zM74.3 142.4h.9v.9h-.9zM84.5 120.2h.9v.9h-.9zM64.4 121.3h.9v.9h-.9zM50.6 130.4h.9v.9h-.9zM55.5 126.3h.9v.9h-.9zM44.2 149.6h.9v.9h-.9zM59.8 147.7h.9v.9h-.9zM49.6 111.4h.9v.9h-.9zM56.2 146.7h.9v.9h-.9zM56.7 141.4h.9v.9h-.9zM50 152.4h.9v.9h-.9zM69.6 148.6h.9v.9h-.9zM60.4 151.1h.9v.9h-.9zM64.9 131.6h.9v.9h-.9zM55.7 137.6h.9v.9h-.9zM52.2 123.8h.9v.9h-.9zM65.7 144.8h.9v.9h-.9zM60.2 146.3h.9v.9h-.9zM84.7 123h.9v.9h-.9zM67.3 126.4h.9v.9h-.9zM55.6 139h.9v.9h-.9zM74.9 143h.9v.9h-.9zM59.2 149.1h.9v.9h-.9zM82.9 142.4h.9v.9h-.9zM40.7 135.3h.9v.9h-.9zM60.2 119.1h.9v.9h-.9zM63.2 145.3h.9v.9h-.9zM60.6 135h.9v.9h-.9zM83.1 130.2h.9v.9h-.9zM51.7 137.4h.9v.9h-.9zM78.6 143.5h.9v.9h-.9zM64.9 131.6h.9v.9h-.9zM80.1 146.8h.9v.9h-.9zM41.4 140.7h.9v.9h-.9zM72 130h.9v.9h-.9zM47.2 133.7h.9v.9h-.9zM41.2 143.2h.9v.9h-.9zM57.3 117.5h.9v.9h-.9zM63.7 150h.9v.9h-.9zM47.4 133.1h.9v.9h-.9zM87.7 139h.9v.9h-.9zM56.8 139.1h.9v.9h-.9zM74.2 125.9h.9v.9h-.9zM62.7 119h.9v.9h-.9zM43.3 120h.9v.9h-.9zM75 140.4h.9v.9h-.9zM73.5 150.4h.9v.9h-.9zM64.6 139.6h.9v.9h-.9zM69.3 142.1h.9v.9h-.9zM50.1 134h.9v.9h-.9zM62 137.4h.9v.9h-.9zM54.2 135.5h.9v.9h-.9zM67.7 139h.9v.9h-.9zM71.7 146h.9v.9h-.9zM71.2 147.6h.9v.9h-.9zM74.9 152.4h.9v.9h-.9zM72.2 130.2h.9v.9h-.9zM94.3 149.4h.9v.9h-.9zM80.3 145h.9v.9h-.9zM64.6 124.4h.9v.9h-.9zM69.7 133.1h.9v.9h-.9zM58.8 113.4h.9v.9h-.9zM84.2 124.1h.9v.9h-.9zM49.7 142.1h.9v.9h-.9zM71.4 128.2h.9v.9h-.9zM63.9 139.8h.9v.9h-.9zM66 142.8h.9v.9h-.9zM74.1 132.9h.9v.9h-.9zM59 126.1h.9v.9h-.9zM73.8 143.5h.9v.9h-.9zM63.5 140.4h.9v.9h-.9zM68.1 134.4h.9v.9h-.9zM68.1 122.6h.9v.9h-.9zM75.4 132.5h.9v.9h-.9zM56.4 120.4h.9v.9h-.9zM62.4 135h.9v.9h-.9zM55.6 119.8h.9v.9h-.9zM66 141.6h.9v.9h-.9zM78.9 142.7h.9v.9h-.9zM83.8 150.2h.9v.9h-.9zM62.6 125.4h.9v.9h-.9zM69.6 147.6h.9v.9h-.9zM43.8 123.4h.9v.9h-.9zM73 130.9h.9v.9h-.9zM83 139.4h.9v.9h-.9zM56.8 122.3h.9v.9h-.9zM71.8 118h.9v.9h-.9zM47 122.5h.9v.9h-.9zM61.1 132.8h.9v.9h-.9zM73.1 150.7h.9v.9h-.9zM61.3 149.5h.9v.9h-.9zM61.2 122.9h.9v.9h-.9zM89.4 129.4h.9v.9h-.9zM63.9 123.2h.9v.9h-.9zM72.8 139.1h.9v.9h-.9zM60.2 132.5h.9v.9h-.9zM56.5 129h.9v.9h-.9zM45.6 150.3h.9v.9h-.9zM75.6 121.6h.9v.9h-.9zM48.8 141.5h.9v.9h-.9zM93.5 134.7h.9v.9h-.9zM59.9 134.2h.9v.9h-.9zM67.2 135.1h.9v.9h-.9zM78.1 147.8h.9v.9h-.9zM61 130.9h.9v.9h-.9zM102.9 115.7h.9v.9h-.9zM43.6 111h.9v.9h-.9zM68.7 125.2h.9v.9h-.9zM77.8 113.8h.9v.9h-.9zM62.2 132.7h.9v.9h-.9zM49.9 149.3h.9v.9h-.9zM58.8 142h.9v.9h-.9zM57.1 138.6h.9v.9h-.9zM58.1 137.8h.9v.9h-.9zM62.7 129.5h.9v.9h-.9zM69.7 134.9h.9v.9h-.9zM51.3 125.4h.9v.9h-.9zM69.8 151.7h.9v.9h-.9zM46.9 132.4h.9v.9h-.9zM69.9 148.5h.9v.9h-.9zM73.3 123.9h.9v.9h-.9zM64.5 146.9h.9v.9h-.9zM67.1 134.5h.9v.9h-.9zM48.5 138.8h.9v.9h-.9zM63.1 137.3h.9v.9h-.9zM83.6 150.1h.9v.9h-.9zM53.6 139.5h.9v.9h-.9zM59.9 138.1h.9v.9h-.9zM85.3 147.1h.9v.9h-.9zM64.5 129.7h.9v.9h-.9zM61.9 141h.9v.9h-.9zM57.5 149.2h.9v.9h-.9zM64.3 123.9h.9v.9h-.9zM90.7 105h.9v.9h-.9zM60.5 135.7h.9v.9h-.9zM76.9 149.3h.9v.9h-.9zM68.1 138.2h.9v.9h-.9zM77.3 136.7h.9v.9h-.9zM47.5 132h.9v.9h-.9zM72.6 143.7h.9v.9h-.9zM49.6 150.2h.9v.9h-.9zM68 120.4h.9v.9h-.9zM70.1 148.1h.9v.9h-.9zM70.9 133.6h.9v.9h-.9zM53.5 149.4h.9v.9h-.9zM66.9 136.9h.9v.9h-.9zM58.8 125.6h.9v.9h-.9zM39.5 133.2h.9v.9h-.9zM78.5 145.4h.9v.9h-.9zM61 125.9h.9v.9h-.9zM76.8 152.3h.9v.9h-.9zM58.9 123.5h.9v.9h-.9zM63.2 110.2h.9v.9h-.9zM67.6 128.9h.9v.9h-.9zM73.3 131.5h.9v.9h-.9zM80.5 133h.9v.9h-.9zM90.6 133.1h.9v.9h-.9zM66.5 126.6h.9v.9h-.9zM47.3 140.8h.9v.9h-.9zM68.6 126.3h.9v.9h-.9zM71.3 132.4h.9v.9h-.9zM56.8 136.2h.9v.9h-.9zM69.1 145h.9v.9h-.9zM80.1 141.2h.9v.9h-.9zM54.5 129.4h.9v.9h-.9zM68.8 123.8h.9v.9h-.9zM61.8 132.8h.9v.9h-.9zM62.7 139h.9v.9h-.9zM75.5 148.1h.9v.9h-.9zM50 148.4h.9v.9h-.9zM80.9 122h.9v.9h-.9zM97 130.7h.9v.9h-.9zM64.8 128.2h.9v.9h-.9zM56.5 148.8h.9v.9h-.9zM67.4 132.9h.9v.9h-.9zM79 126.6h.9v.9h-.9zM52.9 130.8h.9v.9h-.9zM54.2 144.6h.9v.9h-.9zM61 125.4h.9v.9h-.9zM58 115.1h.9v.9h-.9zM66.2 138.1h.9v.9h-.9zM71.9 134.4h.9v.9h-.9zM69.2 126.7h.9v.9h-.9zM64.3 138.7h.9v.9h-.9zM48.1 143.5h.9v.9h-.9zM65.9 137.6h.9v.9h-.9zM64 128.5h.9v.9h-.9zM52.9 143.5h.9v.9h-.9zM61.3 128.3h.9v.9h-.9zM54.6 147.3h.9v.9h-.9zM65.1 148.6h.9v.9h-.9zM63.8 124h.9v.9h-.9zM75.3 140.5h.9v.9h-.9zM55.5 133.6h.9v.9h-.9zM51.3 146.1h.9v.9h-.9zM58.6 142.3h.9v.9h-.9zM67.4 134.1h.9v.9h-.9zM68.8 134.3h.9v.9h-.9zM48.6 132.4h.9v.9h-.9zM48.6 145.3h.9v.9h-.9zM72.5 130.5h.9v.9h-.9zM72.1 139.7h.9v.9h-.9zM76.7 126.7h.9v.9h-.9zM64.3 126.1h.9v.9h-.9zM55.1 152.1h.9v.9h-.9zM37.8 126.9h.9v.9h-.9zM70.3 145.5h.9v.9h-.9zM53.8 114.6h.9v.9h-.9zM41.6 141h.9v.9h-.9zM78.3 147h.9v.9h-.9zM54.5 151.9h.9v.9h-.9zM61.5 143.8h.9v.9h-.9zM57.3 113.4h.9v.9h-.9zM59.9 139.1h.9v.9h-.9zM67.6 129.1h.9v.9h-.9zM61 124.5h.9v.9h-.9zM61 137.9h.9v.9h-.9zM38 142.7h.9v.9h-.9zM69.6 124.3h.9v.9h-.9zM64.9 136.9h.9v.9h-.9zM51 144.9h.9v.9h-.9zM88.8 144.4h.9v.9h-.9zM74.1 148.7h.9v.9h-.9zM62.3 147.7h.9v.9h-.9zM53.5 139h.9v.9h-.9zM73.2 151.4h.9v.9h-.9zM60.3 133.8h.9v.9h-.9zM70.1 136.1h.9v.9h-.9zM65.8 145.8h.9v.9h-.9zM54.1 146.6h.9v.9h-.9zM68.9 134.1h.9v.9h-.9zM47.8 130.1h.9v.9h-.9zM63.4 147.3h.9v.9h-.9zM38.5 144.8h.9v.9h-.9zM66.5 124.6h.9v.9h-.9zM75.1 141.3h.9v.9h-.9zM69.6 126.3h.9v.9h-.9zM49.6 146.9h.9v.9h-.9zM82.2 141h.9v.9h-.9zM61.5 132.1h.9v.9h-.9zM41.8 147.8h.9v.9h-.9zM62.8 150.5h.9v.9h-.9zM54.7 148.5h.9v.9h-.9zM54.8 143.4h.9v.9h-.9zM81.8 129.3h.9v.9h-.9zM75.7 136.9h.9v.9h-.9zM51.9 139.2h.9v.9h-.9zM72.3 129.2h.9v.9h-.9zM60.5 130.8h.9v.9h-.9zM54.1 134.7h.9v.9h-.9zM74.6 131.6h.9v.9h-.9zM80.1 132.8h.9v.9h-.9zM55.1 148.7h.9v.9h-.9zM82.1 129.9h.9v.9h-.9zM71.6 124.3h.9v.9h-.9zM58.7 132.9h.9v.9h-.9zM73.1 123.3h.9v.9h-.9zM57.4 129.5h.9v.9h-.9zM65.3 123.6h.9v.9h-.9zM66.7 120.6h.9v.9h-.9zM74.7 122.7h.9v.9h-.9zM80.1 127.8h.9v.9h-.9zM49.9 142.2h.9v.9h-.9zM90.1 143.5h.9v.9h-.9zM72.5 124.1h.9v.9h-.9zM41.1 141.2h.9v.9h-.9zM77 138.5h.9v.9h-.9zM63.9 152.1h.9v.9h-.9zM53.2 148.9h.9v.9h-.9zM74.7 130.2h.9v.9h-.9zM65.6 138.2h.9v.9h-.9zM71.5 126.4h.9v.9h-.9zM61 138h.9v.9h-.9zM64.4 137.2h.9v.9h-.9zM67.2 134.9h.9v.9h-.9zM57.6 148.2h.9v.9h-.9zM55.7 133.5h.9v.9h-.9zM52.7 124.5h.9v.9h-.9zM69.7 136.5h.9v.9h-.9zM62.3 141.9h.9v.9h-.9zM61.8 144.4h.9v.9h-.9zM87.2 140.8h.9v.9h-.9zM73.1 118.9h.9v.9h-.9zM81.1 139.3h.9v.9h-.9zM74.9 124.5h.9v.9h-.9zM53.1 130h.9v.9h-.9zM71.1 124.8h.9v.9h-.9zM54.9 147.3h.9v.9h-.9zM55.8 138.3h.9v.9h-.9zM52.5 118.6h.9v.9h-.9zM62.9 135.7h.9v.9h-.9zM45.7 147.5h.9v.9h-.9zM74.5 146.6h.9v.9h-.9zM57.5 124.6h.9v.9h-.9zM62.8 138.8h.9v.9h-.9zM61.8 130.6h.9v.9h-.9zM51.3 129h.9v.9h-.9zM62.9 131.7h.9v.9h-.9zM85.3 134h.9v.9h-.9zM69.8 132h.9v.9h-.9zM61.6 126.5h.9v.9h-.9zM57.8 120.8h.9v.9h-.9zM37.5 151.5h.9v.9h-.9zM50.5 141.7h.9v.9h-.9zM62.4 130.8h.9v.9h-.9zM73.3 131h.9v.9h-.9zM69.5 133h.9v.9h-.9zM76.4 147.3h.9v.9h-.9zM64.8 148.8h.9v.9h-.9zM62.4 120.3h.9v.9h-.9zM66.7 139.6h.9v.9h-.9zM59.4 134.7h.9v.9h-.9zM60.5 123.5h.9v.9h-.9zM85.9 128.6h.9v.9h-.9zM50.3 119.9h.9v.9h-.9zM53.2 136.6h.9v.9h-.9zM82.8 143.4h.9v.9h-.9zM54.7 123.6h.9v.9h-.9zM49.7 136.1h.9v.9h-.9zM75 131.8h.9v.9h-.9zM66 113.6h.9v.9h-.9zM77.9 135.9h.9v.9h-.9zM72.5 147.6h.9v.9h-.9zM51.2 137.7h.9v.9h-.9zM66.2 128.9h.9v.9h-.9zM72.8 135.6h.9v.9h-.9zM62 148.2h.9v.9h-.9zM54.4 138.6h.9v.9h-.9zM77.7 113.6h.9v.9h-.9zM70.8 134.1h.9v.9h-.9zM77.8 138.9h.9v.9h-.9zM63 123.2h.9v.9h-.9zM101.3 129h.9v.9h-.9zM59.9 129.2h.9v.9h-.9zM60.1 139.3h.9v.9h-.9zM47 148.4h.9v.9h-.9zM60.6 143.4h.9v.9h-.9zM37.2 131.4h.9v.9h-.9zM60.2 132.8h.9v.9h-.9zM55.5 140.3h.9v.9h-.9zM69.1 126.4h.9v.9h-.9zM39 144.8h.9v.9h-.9zM59.9 148.5h.9v.9h-.9zM75 135.8h.9v.9h-.9zM45.8 133.1h.9v.9h-.9zM54.7 150.3h.9v.9h-.9zM42.4 146.8h.9v.9h-.9zM44.4 130.8h.9v.9h-.9zM46 129.5h.9v.9h-.9zM58.3 141h.9v.9h-.9zM56.4 144.4h.9v.9h-.9zM86.2 138.7h.9v.9h-.9zM49.3 135.1h.9v.9h-.9zM62.6 133.1h.9v.9h-.9zM78.5 149.4h.9v.9h-.9zM89.4 142.6h.9v.9h-.9zM72.4 128.3h.9v.9h-.9zM56.3 146.8h.9v.9h-.9zM65.8 124.8h.9v.9h-.9zM56.5 103.8h.9v.9h-.9zM63.9 123.8h.9v.9h-.9zM63.3 124.2h.9v.9h-.9zM52.1 131.4h.9v.9h-.9zM99.3 124.2h.9v.9h-.9zM48.9 131.2h.9v.9h-.9zM77.4 145.6h.9v.9h-.9zM72.7 133.5h.9v.9h-.9zM65.5 128.7h.9v.9h-.9zM61.6 128.3h.9v.9h-.9zM45.5 126.3h.9v.9h-.9zM88.4 141.2h.9v.9h-.9zM54.4 135.8h.9v.9h-.9zM58.2 150.1h.9v.9h-.9zM63.5 130.1h.9v.9h-.9zM72.5 140.4h.9v.9h-.9zM55.2 128.6h.9v.9h-.9zM65.7 119.3h.9v.9h-.9zM52.3 147.8h.9v.9h-.9zM74.9 149h.9v.9h-.9zM58.3 130.5h.9v.9h-.9zM60.4 131.8h.9v.9h-.9zM80.1 134.6h.9v.9h-.9zM81.1 129.3h.9v.9h-.9zM54.5 129.9h.9v.9h-.9zM56.3 119.6h.9v.9h-.9zM60.1 130h.9v.9h-.9zM91.8 131.8h.9v.9h-.9zM36.8 147.1h.9v.9h-.9zM75.9 136.6h.9v.9h-.9zM67.5 144.7h.9v.9h-.9zM56.8 137.4h.9v.9h-.9zM81.8 138.8h.9v.9h-.9zM46.9 146.5h.9v.9h-.9zM63.2 149.5h.9v.9h-.9zM64.5 138.9h.9v.9h-.9zM72.2 129.1h.9v.9h-.9zM52.9 147h.9v.9h-.9zM72.5 145.8h.9v.9h-.9zM81.2 122.5h.9v.9h-.9zM76 114.8h.9v.9h-.9zM64.5 140.6h.9v.9h-.9zM76.9 148.6h.9v.9h-.9zM52 134h.9v.9h-.9zM61.8 129.5h.9v.9h-.9zM53.5 129.8h.9v.9h-.9zM78.4 151.6h.9v.9h-.9zM65 125.2h.9v.9h-.9zM55.6 139.1h.9v.9h-.9zM76.9 150h.9v.9h-.9zM52.5 147.3h.9v.9h-.9zM57.1 143.4h.9v.9h-.9zM57.2 139.6h.9v.9h-.9zM69.3 132.5h.9v.9h-.9zM65 143.4h.9v.9h-.9zM43 130h.9v.9h-.9zM93 141.8h.9v.9h-.9zM56.8 117.2h.9v.9h-.9zM51.7 142.6h.9v.9h-.9zM72.4 141.8h.9v.9h-.9zM71.3 130.5h.9v.9h-.9zM84 124.8h.9v.9h-.9zM70.3 134.1h.9v.9h-.9zM42.2 146.7h.9v.9h-.9zM60.3 144.6h.9v.9h-.9zM79.9 138.7h.9v.9h-.9zM55.5 134.7h.9v.9h-.9zM63 152.5h.9v.9h-.9zM73.4 128.7h.9v.9h-.9zM75.6 147.4h.9v.9h-.9zM62.3 142h.9v.9h-.9zM59.8 123.4h.9v.9h-.9zM62.7 145.2h.9v.9h-.9zM59.3 112.8h.9v.9h-.9zM53.7 148.7h.9v.9h-.9zM66.7 149.1h.9v.9h-.9zM54.3 132.5h.9v.9h-.9zM51.2 128.6h.9v.9h-.9zM70.3 138.5h.9v.9h-.9zM57.7 140.2h.9v.9h-.9zM47.3 132.8h.9v.9h-.9zM44.9 120.8h.9v.9h-.9zM46.6 125.1h.9v.9h-.9zM83.8 151.8h.9v.9h-.9zM79.7 130.7h.9v.9h-.9zM71.7 124.7h.9v.9h-.9zM57 139.6h.9v.9h-.9zM43.6 139.1h.9v.9h-.9zM71.6 114.6h.9v.9h-.9zM62.2 138.5h.9v.9h-.9zM49.5 143.1h.9v.9h-.9zM65.4 129.1h.9v.9h-.9zM84.6 139.8h.9v.9h-.9zM57.6 134.6h.9v.9h-.9zM41.8 134.5h.9v.9h-.9zM70.9 139.2h.9v.9h-.9zM47.8 127.8h.9v.9h-.9zM40.4 122.1h.9v.9h-.9zM65.2 140.2h.9v.9h-.9zM52.2 134.6h.9v.9h-.9zM53.6 143.7h.9v.9h-.9zM71.9 130.9h.9v.9h-.9zM58 123.7h.9v.9h-.9zM63.6 146.3h.9v.9h-.9zM59.7 127.2h.9v.9h-.9zM76.9 147h.9v.9h-.9zM55.4 148.9h.9v.9h-.9zM63.6 136.5h.9v.9h-.9zM87.1 142.8h.9v.9h-.9zM67.8 133.5h.9v.9h-.9zM66.3 148.4h.9v.9h-.9zM69.6 128.8h.9v.9h-.9zM69.5 135.7h.9v.9h-.9zM67.7 134.9h.9v.9h-.9zM36.1 119.5h.9v.9h-.9zM58.9 113h.9v.9h-.9zM72.6 132h.9v.9h-.9zM67.9 112.6h.9v.9h-.9zM66.9 147.7h.9v.9h-.9zM66.2 122.8h.9v.9h-.9zM76 131.2h.9v.9h-.9zM56.5 139.1h.9v.9h-.9zM69.5 123.5h.9v.9h-.9zM63.8 137.6h.9v.9h-.9zM82 150.9h.9v.9h-.9zM96.2 129.8h.9v.9h-.9zM52.4 140.9h.9v.9h-.9zM84.2 126h.9v.9h-.9zM59.4 128.9h.9v.9h-.9zM70.5 141.4h.9v.9h-.9zM63.3 144.2h.9v.9h-.9zM53.8 132.9h.9v.9h-.9zM63.3 137.6h.9v.9h-.9zM80.4 137.8h.9v.9h-.9zM80.3 139.6h.9v.9h-.9zM78.4 139h.9v.9h-.9zM52.1 127.7h.9v.9h-.9zM87.5 133.5h.9v.9h-.9zM95.6 124.8h.9v.9h-.9zM53 147.2h.9v.9h-.9zM44.4 147h.9v.9h-.9zM68.6 143.9h.9v.9h-.9zM48.5 141.2h.9v.9h-.9zM75.7 136.4h.9v.9h-.9zM76.9 137.3h.9v.9h-.9zM68.2 133.5h.9v.9h-.9zM46.5 135.3h.9v.9h-.9zM70.1 128.7h.9v.9h-.9zM38.9 120h.9v.9h-.9zM80.5 134.5h.9v.9h-.9zM54.1 150.5h.9v.9h-.9zM61.6 120.5h.9v.9h-.9zM58.2 127.3h.9v.9h-.9zM61.4 127h.9v.9h-.9zM64.7 142h.9v.9h-.9zM56.5 134.8h.9v.9h-.9zM61.8 146.1h.9v.9h-.9zM54.6 145.2h.9v.9h-.9zM79.7 134.9h.9v.9h-.9zM51.5 133.6h.9v.9h-.9zM41.2 131.1h.9v.9h-.9zM48.6 135.1h.9v.9h-.9zM59.1 142.7h.9v.9h-.9zM65.3 141.6h.9v.9h-.9zM63.2 140.1h.9v.9h-.9zM49.4 144.3h.9v.9h-.9zM80.4 149.2h.9v.9h-.9zM46.7 141.6h.9v.9h-.9zM43.1 145.3h.9v.9h-.9zM61.2 132h.9v.9h-.9zM54.3 134.4h.9v.9h-.9zM63.7 126.4h.9v.9h-.9zM64.6 139.8h.9v.9h-.9zM70.5 136.5h.9v.9h-.9zM76.7 140.6h.9v.9h-.9zM46.1 143.8h.9v.9h-.9zM71.1 107.8h.9v.9h-.9zM61.7 141.2h.9v.9h-.9zM64.3 138.1h.9v.9h-.9zM61.8 152.2h.9v.9h-.9zM68.7 133.9h.9v.9h-.9zM52.8 131.2h.9v.9h-.9zM68 138.6h.9v.9h-.9zM67.7 151.9h.9v.9h-.9zM78.4 141.6h.9v.9h-.9zM64.4 136.3h.9v.9h-.9zM60.9 148h.9v.9h-.9zM47.6 125.6h.9v.9h-.9zM58 126.4h.9v.9h-.9zM54.4 150.1h.9v.9h-.9zM35 143.3h.9v.9h-.9zM47 134.3h.9v.9h-.9zM56.5 126.1h.9v.9h-.9zM44.8 137.8h.9v.9h-.9zM58.8 149.1h.9v.9h-.9zM87.6 133.8h.9v.9h-.9zM53.6 133.9h.9v.9h-.9zM69.8 147.3h.9v.9h-.9zM51.6 142.2h.9v.9h-.9zM63.4 149.6h.9v.9h-.9zM58.6 134.7h.9v.9h-.9zM52.9 122.5h.9v.9h-.9zM67.3 144.8h.9v.9h-.9zM78.3 140h.9v.9h-.9zM57.9 126.9h.9v.9h-.9zM49 129.1h.9v.9h-.9zM68.2 138h.9v.9h-.9zM60.2 125.5h.9v.9h-.9zM63.6 142.8h.9v.9h-.9zM50.6 122.1h.9v.9h-.9zM59.7 139.9h.9v.9h-.9zM65.7 126h.9v.9h-.9zM73.8 129.9h.9v.9h-.9zM72.7 138.1h.9v.9h-.9zM79.7 126h.9v.9h-.9zM73.1 141.7h.9v.9h-.9zM52.2 144.7h.9v.9h-.9zM93 140.9h.9v.9h-.9zM54 135.3h.9v.9h-.9zM80.6 139.8h.9v.9h-.9zM82.9 129.8h.9v.9h-.9zM80.7 119.7h.9v.9h-.9zM61.7 133.8h.9v.9h-.9zM57.6 150.5h.9v.9h-.9zM56.1 140.9h.9v.9h-.9zM87.7 146.1h.9v.9h-.9zM58.5 129h.9v.9h-.9zM38.1 141.2h.9v.9h-.9zM75.3 149.2h.9v.9h-.9zM73.8 111.6h.9v.9h-.9zM52.5 145.8h.9v.9h-.9zM58.7 146.2h.9v.9h-.9zM96.9 128.6h.9v.9h-.9zM92.4 136.1h.9v.9h-.9zM44.9 138.1h.9v.9h-.9zM75.6 130.6h.9v.9h-.9zM84.3 127.4h.9v.9h-.9zM61.4 147.1h.9v.9h-.9zM61.2 130.9h.9v.9h-.9zM63.7 144.2h.9v.9h-.9zM86.3 151.9h.9v.9h-.9zM88.1 136.7h.9v.9h-.9zM42.5 136.6h.9v.9h-.9zM58.6 126h.9v.9h-.9zM57.3 136.3h.9v.9h-.9zM64.6 147.1h.9v.9h-.9zM52.1 149.6h.9v.9h-.9zM64.5 145.1h.9v.9h-.9zM80 123.4h.9v.9h-.9zM84.6 129.1h.9v.9h-.9zM69.1 149h.9v.9h-.9zM75.9 119.8h.9v.9h-.9zM66 149.5h.9v.9h-.9zM62.4 136.1h.9v.9h-.9zM56.9 126.6h.9v.9h-.9zM49.6 131.2h.9v.9h-.9zM60.9 140.8h.9v.9h-.9zM62.9 118.1h.9v.9h-.9zM43.6 144.5h.9v.9h-.9zM73.3 122.1h.9v.9h-.9zM76.1 110.2h.9v.9h-.9zM94.1 143.5h.9v.9h-.9zM42.5 142.6h.9v.9h-.9zM63.5 132h.9v.9h-.9zM59.2 134.5h.9v.9h-.9zM62.6 127.1h.9v.9h-.9zM56.6 143.2h.9v.9h-.9zM70.8 122.4h.9v.9h-.9zM46.4 125.6h.9v.9h-.9zM35.8 115.6h.9v.9h-.9zM59.1 125.4h.9v.9h-.9zM49.8 129.3h.9v.9h-.9zM61.5 146.2h.9v.9h-.9zM71.3 117.6h.9v.9h-.9zM83.3 133.4h.9v.9h-.9zM51 136.7h.9v.9h-.9zM58.8 121.7h.9v.9h-.9zM84.2 130.6h.9v.9h-.9zM56.2 142.9h.9v.9h-.9zM85.7 142.3h.9v.9h-.9zM52.3 141.8h.9v.9h-.9zM78.4 141.2h.9v.9h-.9zM72.4 131.7h.9v.9h-.9zM63.1 118.5h.9v.9h-.9zM54.6 124.5h.9v.9h-.9zM51.9 136h.9v.9h-.9zM79.1 128.4h.9v.9h-.9zM53.8 150.4h.9v.9h-.9zM68.8 142.8h.9v.9h-.9zM74.8 128.8h.9v.9h-.9zM66.9 129.8h.9v.9h-.9zM54.6 138.5h.9v.9h-.9zM69.6 123h.9v.9h-.9zM54 143.7h.9v.9h-.9zM66.2 144.3h.9v.9h-.9zM59.9 128.1h.9v.9h-.9zM74.2 143.6h.9v.9h-.9zM54.1 144.4h.9v.9h-.9zM84.5 133.9h.9v.9h-.9zM51.3 139.8h.9v.9h-.9zM65.2 143.3h.9v.9h-.9zM45.7 139.7h.9v.9h-.9zM75.6 144.7h.9v.9h-.9zM72.2 150.2h.9v.9h-.9zM53.2 150.5h.9v.9h-.9zM66.7 126h.9v.9h-.9zM60.1 140h.9v.9h-.9zM68.3 151.9h.9v.9h-.9zM66.5 131.4h.9v.9h-.9zM92.5 133.4h.9v.9h-.9zM53.2 147.2h.9v.9h-.9zM58.6 128.3h.9v.9h-.9zM50.1 150.1h.9v.9h-.9zM50.1 138.1h.9v.9h-.9zM58 134.9h.9v.9h-.9zM53.3 138.7h.9v.9h-.9zM71.9 148.6h.9v.9h-.9zM59.3 124.2h.9v.9h-.9zM44.6 137.1h.9v.9h-.9zM64.4 138.4h.9v.9h-.9zM45.8 129.9h.9v.9h-.9zM54.3 144.5h.9v.9h-.9zM58.7 143.9h.9v.9h-.9zM70.7 115.8h.9v.9h-.9zM61 150.9h.9v.9h-.9zM57.3 138.5h.9v.9h-.9zM62.3 123.5h.9v.9h-.9zM92.5 135.6h.9v.9h-.9zM72.3 132.1h.9v.9h-.9zM82.3 149.8h.9v.9h-.9zM79.4 147.6h.9v.9h-.9zM73.2 152.3h.9v.9h-.9zM69.3 138.6h.9v.9h-.9zM74.6 127.2h.9v.9h-.9zM66 129.3h.9v.9h-.9zM60.5 126.6h.9v.9h-.9zM53 139.1h.9v.9h-.9zM65.6 146.2h.9v.9h-.9zM62.8 144h.9v.9h-.9zM72.9 129.4h.9v.9h-.9zM42 129.5h.9v.9h-.9zM60.7 131.2h.9v.9h-.9zM92.8 129.6h.9v.9h-.9zM70.2 128.7h.9v.9h-.9zM73 123.2h.9v.9h-.9zM76.4 139.1h.9v.9h-.9zM58.8 123.9h.9v.9h-.9zM85.8 130.7h.9v.9h-.9zM82.8 110.6h.9v.9h-.9zM87.3 137.3h.9v.9h-.9zM77 143.8h.9v.9h-.9zM59.3 138.5h.9v.9h-.9zM49 122.4h.9v.9h-.9zM65.6 145.1h.9v.9h-.9zM66.1 123.6h.9v.9h-.9zM75.1 138.1h.9v.9h-.9zM73.8 133.9h.9v.9h-.9zM60.5 148.7h.9v.9h-.9zM81.9 123.9h.9v.9h-.9zM49.6 147.8h.9v.9h-.9zM68.7 137.7h.9v.9h-.9zM51.2 148.2h.9v.9h-.9zM66.4 139.5h.9v.9h-.9zM69 131.4h.9v.9h-.9zM69.2 138.6h.9v.9h-.9zM73.4 141.3h.9v.9h-.9zM47.3 129.4h.9v.9h-.9zM60.5 149.9h.9v.9h-.9zM55.5 149.6h.9v.9h-.9zM78.1 146.7h.9v.9h-.9zM93.4 137h.9v.9h-.9zM68.2 150.5h.9v.9h-.9zM69.3 148.1h.9v.9h-.9zM68.6 116.1h.9v.9h-.9zM78.1 135h.9v.9h-.9zM52.5 133.9h.9v.9h-.9zM60.3 149.7h.9v.9h-.9zM68.3 136.4h.9v.9h-.9zM63.8 127.3h.9v.9h-.9zM55.6 132h.9v.9h-.9zM61 124.4h.9v.9h-.9zM58.8 148.1h.9v.9h-.9zM69.9 137.1h.9v.9h-.9zM68.5 134.5h.9v.9h-.9zM48.5 146.8h.9v.9h-.9zM93.3 142.7h.9v.9h-.9zM48.2 142.9h.9v.9h-.9zM59.5 134.1h.9v.9h-.9zM42.4 136.3h.9v.9h-.9zM69.2 119.6h.9v.9h-.9zM61.1 131.8h.9v.9h-.9zM50.9 144.1h.9v.9h-.9zM85.4 141.7h.9v.9h-.9zM77.4 145.5h.9v.9h-.9zM63.2 143.5h.9v.9h-.9zM81.3 132.5h.9v.9h-.9zM62.1 122.1h.9v.9h-.9zM39.7 128.2h.9v.9h-.9zM75.7 141.2h.9v.9h-.9zM67.4 151.5h.9v.9h-.9zM40.9 152.3h.9v.9h-.9zM65.1 145.7h.9v.9h-.9zM82 128.3h.9v.9h-.9zM52.7 141.6h.9v.9h-.9zM63.3 130.8h.9v.9h-.9zM62.4 129.2h.9v.9h-.9zM65.8 133h.9v.9h-.9zM86.2 125.8h.9v.9h-.9zM71.6 138h.9v.9h-.9zM84.6 126.6h.9v.9h-.9zM55.4 133h.9v.9h-.9zM58.9 126.5h.9v.9h-.9zM62 128.9h.9v.9h-.9zM46.3 144.4h.9v.9h-.9zM57.1 143.1h.9v.9h-.9zM72.2 141.7h.9v.9h-.9zM65.7 136.9h.9v.9h-.9zM59.5 132.3h.9v.9h-.9zM65.9 142.7h.9v.9h-.9zM76.2 134.8h.9v.9h-.9zM79.9 127h.9v.9h-.9zM89 147.6h.9v.9h-.9zM48.4 135.9h.9v.9h-.9zM70.2 148.6h.9v.9h-.9zM65 123h.9v.9h-.9zM80 135.3h.9v.9h-.9zM69.7 133.7h.9v.9h-.9zM62.5 122.2h.9v.9h-.9zM72.7 130.3h.9v.9h-.9zM40.8 141.6h.9v.9h-.9zM63.6 147.6h.9v.9h-.9zM74.7 123.9h.9v.9h-.9zM61.7 137.1h.9v.9h-.9zM65.2 125.7h.9v.9h-.9zM65 147.8h.9v.9h-.9zM73.9 109.7h.9v.9h-.9zM60.5 131.2h.9v.9h-.9zM75.9 137.1h.9v.9h-.9zM68.7 142.4h.9v.9h-.9zM61.2 152.1h.9v.9h-.9zM87.8 146.1h.9v.9h-.9zM56.7 139.9h.9v.9h-.9zM76.8 145h.9v.9h-.9zM55.1 147.5h.9v.9h-.9zM73.5 143.5h.9v.9h-.9zM58.5 136.8h.9v.9h-.9zM39.1 136.8h.9v.9h-.9zM58.2 133.9h.9v.9h-.9zM60.3 133.6h.9v.9h-.9zM65.1 138.2h.9v.9h-.9zM56 135.7h.9v.9h-.9zM62.8 142.5h.9v.9h-.9zM69.8 133.2h.9v.9h-.9zM53.2 119.3h.9v.9h-.9zM47.7 141.6h.9v.9h-.9zM61.9 132.9h.9v.9h-.9zM62 131.2h.9v.9h-.9zM55.8 137.8h.9v.9h-.9zM45.1 138.6h.9v.9h-.9zM62.8 127.3h.9v.9h-.9zM77.4 141.1h.9v.9h-.9zM78.2 129.9h.9v.9h-.9zM47.8 124.2h.9v.9h-.9zM43.5 116.5h.9v.9h-.9zM84.4 131.9h.9v.9h-.9zM66.5 131.3h.9v.9h-.9zM41.4 126.4h.9v.9h-.9zM65.8 127.2h.9v.9h-.9zM73 151.2h.9v.9h-.9zM75.6 145.3h.9v.9h-.9zM61.9 148h.9v.9h-.9zM53.6 124.2h.9v.9h-.9zM60.6 134.4h.9v.9h-.9zM80 126.4h.9v.9h-.9zM78.9 128.6h.9v.9h-.9zM47.5 118.7h.9v.9h-.9zM63.6 121.4h.9v.9h-.9zM66.8 137.6h.9v.9h-.9zM58.8 116.1h.9v.9h-.9zM57.2 141.9h.9v.9h-.9zM40.7 144.6h.9v.9h-.9zM64.2 131.2h.9v.9h-.9zM66.7 144.2h.9v.9h-.9zM63.7 128.6h.9v.9h-.9zM74.2 129.7h.9v.9h-.9zM68.7 147.7h.9v.9h-.9zM77.4 138.7h.9v.9h-.9zM61.4 139.1h.9v.9h-.9zM72.6 128.1h.9v.9h-.9zM83.9 119.8h.9v.9h-.9zM77.1 123.2h.9v.9h-.9zM49.8 131.6h.9v.9h-.9zM60.3 122.4h.9v.9h-.9zM72.1 135.8h.9v.9h-.9zM81.5 126h.9v.9h-.9zM40.4 144.5h.9v.9h-.9zM61.1 147.7h.9v.9h-.9zM47.9 116.3h.9v.9h-.9zM58.1 152.4h.9v.9h-.9zM84.6 122.3h.9v.9h-.9zM56.1 117.1h.9v.9h-.9zM53 126.6h.9v.9h-.9zM69.6 149.4h.9v.9h-.9zM95.1 133.2h.9v.9h-.9zM74.7 139.4h.9v.9h-.9zM67.9 146.5h.9v.9h-.9zM70.6 136h.9v.9h-.9zM54.9 132.7h.9v.9h-.9zM64.2 132.9h.9v.9h-.9zM59.6 129.4h.9v.9h-.9zM75.2 134.4h.9v.9h-.9zM62.5 134.7h.9v.9h-.9zM81.1 131.2h.9v.9h-.9zM82.4 127.7h.9v.9h-.9zM83.9 143.7h.9v.9h-.9zM57.6 142h.9v.9h-.9zM78.8 126.7h.9v.9h-.9zM61.1 140.5h.9v.9h-.9zM61.3 133.9h.9v.9h-.9zM64.3 140.5h.9v.9h-.9zM62.4 121.3h.9v.9h-.9zM58.4 133.3h.9v.9h-.9zM78 115.1h.9v.9h-.9zM55.8 135.6h.9v.9h-.9zM72.6 141.4h.9v.9h-.9zM75.2 135.3h.9v.9h-.9zM61 150.2h.9v.9h-.9zM86.4 141.2h.9v.9h-.9zM66.1 127.7h.9v.9h-.9zM91.4 141.4h.9v.9h-.9zM72.1 119.6h.9v.9h-.9zM61.9 134.8h.9v.9h-.9zM84 135h.9v.9h-.9zM48.8 128h.9v.9h-.9zM72.9 138.3h.9v.9h-.9zM64.6 135.2h.9v.9h-.9zM65.7 140.9h.9v.9h-.9zM57.9 134h.9v.9h-.9zM67.1 125.2h.9v.9h-.9zM69.8 113.2h.9v.9h-.9zM72.3 135.7h.9v.9h-.9zM48.8 151.7h.9v.9h-.9zM54.6 150.2h.9v.9h-.9zM61.2 148.3h.9v.9h-.9zM59.9 116.6h.9v.9h-.9zM69.1 142.2h.9v.9h-.9zM54.5 121.5h.9v.9h-.9zM67.4 129.5h.9v.9h-.9zM62.7 137h.9v.9h-.9zM53.4 148.9h.9v.9h-.9zM67.3 148.6h.9v.9h-.9zM60.3 129.9h.9v.9h-.9zM57.2 127.5h.9v.9h-.9zM69.9 138.6h.9v.9h-.9zM50.1 120.3h.9v.9h-.9zM52.9 117.2h.9v.9h-.9zM52.6 120.5h.9v.9h-.9zM73.2 124.4h.9v.9h-.9zM56.4 135.7h.9v.9h-.9zM64.5 141.6h.9v.9h-.9zM73.9 144.1h.9v.9h-.9zM59.6 150.7h.9v.9h-.9zM68.9 129.3h.9v.9h-.9zM83.4 124.2h.9v.9h-.9zM70.2 150.7h.9v.9h-.9zM65.5 140.8h.9v.9h-.9zM65.6 144.3h.9v.9h-.9zM67 137.1h.9v.9h-.9zM73.2 116.4h.9v.9h-.9zM67.3 133.8h.9v.9h-.9zM89.4 140.2h.9v.9h-.9zM55.6 144.2h.9v.9h-.9zM59.1 124.1h.9v.9h-.9zM60.5 142.5h.9v.9h-.9zM79.4 148.5h.9v.9h-.9zM67 135.3h.9v.9h-.9z"/>
<path fill="#e0101a" fill-opacity="0.7" d="M65.2 144.2h.9v.9h-.9zM62.5 143.8h.9v.9h-.9zM56.8 133.9h.9v.9h-.9zM70.1 139.9h.9v.9h-.9zM65.2 129.7h.9v.9h-.9zM48.4 130.3h.9v.9h-.9zM56.4 130.6h.9v.9h-.9zM76.8 127.5h.9v.9h-.9zM70.7 133.9h.9v.9h-.9zM54.2 134.9h.9v.9h-.9zM69.9 124h.9v.9h-.9zM53.8 130.8h.9v.9h-.9zM69.6 129h.9v.9h-.9zM67.1 137.9h.9v.9h-.9zM63.6 137.8h.9v.9h-.9zM74.2 132.4h.9v.9h-.9zM66.3 125.1h.9v.9h-.9zM57.5 133.2h.9v.9h-.9zM70.4 128.4h.9v.9h-.9zM51.9 141.8h.9v.9h-.9zM83.4 112.4h.9v.9h-.9zM54.6 135h.9v.9h-.9zM67.6 126.1h.9v.9h-.9zM66.4 143.3h.9v.9h-.9zM61.2 140.2h.9v.9h-.9zM64.6 126.2h.9v.9h-.9zM58.4 128.9h.9v.9h-.9zM74.7 143.7h.9v.9h-.9zM65.6 120.9h.9v.9h-.9zM59.4 130.6h.9v.9h-.9zM47.4 133.9h.9v.9h-.9zM65.9 122.9h.9v.9h-.9zM60 130.2h.9v.9h-.9zM79 139.6h.9v.9h-.9zM70 134.7h.9v.9h-.9zM52.8 141.8h.9v.9h-.9zM57.9 117.9h.9v.9h-.9zM69.6 131.1h.9v.9h-.9zM63.5 138.3h.9v.9h-.9zM61.6 137.5h.9v.9h-.9zM74.3 131.3h.9v.9h-.9zM60.6 134.2h.9v.9h-.9zM68.9 130.7h.9v.9h-.9zM64.2 128.3h.9v.9h-.9zM62.9 138.6h.9v.9h-.9zM56.7 132.5h.9v.9h-.9zM51.4 128.1h.9v.9h-.9zM64.2 138.5h.9v.9h-.9zM55 133.2h.9v.9h-.9zM55.8 136.7h.9v.9h-.9zM65.7 137.7h.9v.9h-.9zM61.8 122.1h.9v.9h-.9zM58.9 122.8h.9v.9h-.9zM57.9 133.5h.9v.9h-.9zM72.5 128.6h.9v.9h-.9zM57.1 135.7h.9v.9h-.9zM46.4 150.7h.9v.9h-.9zM50.7 142.5h.9v.9h-.9zM71.7 142.1h.9v.9h-.9zM62.7 140.1h.9v.9h-.9zM60.7 142.1h.9v.9h-.9zM58.1 127.2h.9v.9h-.9zM66.7 130.2h.9v.9h-.9zM69.1 126.8h.9v.9h-.9zM65.7 125.8h.9v.9h-.9zM62.7 152h.9v.9h-.9zM54.6 123.7h.9v.9h-.9zM50.3 132.1h.9v.9h-.9zM76.9 130.2h.9v.9h-.9zM71.2 132.5h.9v.9h-.9zM58.3 150.8h.9v.9h-.9zM72.5 118.6h.9v.9h-.9zM55.4 137.5h.9v.9h-.9zM68.9 132.1h.9v.9h-.9zM66.1 138.5h.9v.9h-.9zM60.6 142.4h.9v.9h-.9zM56.5 140.3h.9v.9h-.9zM71.1 135.7h.9v.9h-.9zM60.7 133.9h.9v.9h-.9zM45.2 136.1h.9v.9h-.9zM51.8 117.1h.9v.9h-.9zM69.8 126.4h.9v.9h-.9zM66.5 134.4h.9v.9h-.9zM49 126.5h.9v.9h-.9zM61.3 137.9h.9v.9h-.9zM64.1 123.4h.9v.9h-.9zM59.1 134.9h.9v.9h-.9zM53 130.3h.9v.9h-.9zM59 116.2h.9v.9h-.9zM77.7 141.4h.9v.9h-.9zM59.7 141.9h.9v.9h-.9zM54.9 146.8h.9v.9h-.9zM60.5 135.2h.9v.9h-.9zM58.7 134.8h.9v.9h-.9zM66.2 134.3h.9v.9h-.9zM56.7 140.3h.9v.9h-.9zM68.1 134h.9v.9h-.9zM72.2 127.8h.9v.9h-.9zM74 132.7h.9v.9h-.9zM76 130.3h.9v.9h-.9zM61.4 135.8h.9v.9h-.9zM72.5 146.1h.9v.9h-.9zM59.8 127.9h.9v.9h-.9zM69.8 144.4h.9v.9h-.9zM69.3 131.3h.9v.9h-.9zM74 133.8h.9v.9h-.9zM64.9 139.2h.9v.9h-.9zM58.8 115.1h.9v.9h-.9zM65.3 140h.9v.9h-.9zM67.1 138.5h.9v.9h-.9zM64.9 142.7h.9v.9h-.9zM64.5 146.5h.9v.9h-.9zM63.9 140.7h.9v.9h-.9zM59 136.5h.9v.9h-.9zM67 135.2h.9v.9h-.9zM76.2 134.4h.9v.9h-.9zM72.8 137h.9v.9h-.9zM72.5 126.5h.9v.9h-.9zM60.5 142.1h.9v.9h-.9zM56.8 137.3h.9v.9h-.9zM68.2 135.6h.9v.9h-.9zM67.1 138.5h.9v.9h-.9zM61.6 137.5h.9v.9h-.9zM59.3 130.2h.9v.9h-.9zM50.5 133.1h.9v.9h-.9zM49.5 134.2h.9v.9h-.9zM65.2 124.9h.9v.9h-.9zM64.1 136.4h.9v.9h-.9zM60.6 126.4h.9v.9h-.9zM62.6 137.4h.9v.9h-.9zM71.1 150.2h.9v.9h-.9zM47.3 136.9h.9v.9h-.9zM67.1 128.7h.9v.9h-.9zM66.2 151.5h.9v.9h-.9zM64.5 145.4h.9v.9h-.9zM72.3 130.3h.9v.9h-.9zM44.5 143.7h.9v.9h-.9zM76.2 119.3h.9v.9h-.9zM61.9 128.2h.9v.9h-.9zM65.2 134.5h.9v.9h-.9zM72.9 129.1h.9v.9h-.9zM79.4 119.7h.9v.9h-.9zM62.7 139.3h.9v.9h-.9zM70.9 131.1h.9v.9h-.9zM47.8 135.8h.9v.9h-.9zM69.5 116.9h.9v.9h-.9zM59.5 138.7h.9v.9h-.9zM43.7 132.4h.9v.9h-.9zM50.4 122.8h.9v.9h-.9zM66.9 143.5h.9v.9h-.9zM73.1 128.5h.9v.9h-.9zM67.7 119.1h.9v.9h-.9zM51.3 138.6h.9v.9h-.9zM60.2 125.5h.9v.9h-.9zM48.1 132h.9v.9h-.9zM81.9 117.1h.9v.9h-.9zM54.9 143.4h.9v.9h-.9zM47.7 128.8h.9v.9h-.9zM64.1 143.5h.9v.9h-.9zM62.9 149.3h.9v.9h-.9zM63.3 133.1h.9v.9h-.9zM67.1 137h.9v.9h-.9zM51.2 126h.9v.9h-.9zM61.6 136.9h.9v.9h-.9zM53.4 128h.9v.9h-.9zM57.4 136.9h.9v.9h-.9zM60 139.1h.9v.9h-.9zM66.7 126.3h.9v.9h-.9zM61.1 123.6h.9v.9h-.9zM64.4 140.8h.9v.9h-.9zM55.4 119.1h.9v.9h-.9zM67.8 131.6h.9v.9h-.9zM63.3 137.9h.9v.9h-.9zM66.6 141.8h.9v.9h-.9zM59.7 115.5h.9v.9h-.9zM59.5 131.4h.9v.9h-.9zM60.1 137.3h.9v.9h-.9zM61.4 144.9h.9v.9h-.9zM58.3 133.9h.9v.9h-.9zM60.5 151.8h.9v.9h-.9zM55.6 125.6h.9v.9h-.9zM60.4 140.4h.9v.9h-.9zM63.6 132.5h.9v.9h-.9zM51.4 116.5h.9v.9h-.9zM61.7 132h.9v.9h-.9zM78.1 137.1h.9v.9h-.9zM67 142.2h.9v.9h-.9zM56.1 123.6h.9v.9h-.9zM60.5 146.5h.9v.9h-.9zM71.7 129.1h.9v.9h-.9zM53.2 141.8h.9v.9h-.9zM72.6 124.7h.9v.9h-.9zM76.8 127.5h.9v.9h-.9zM69.7 132.3h.9v.9h-.9zM60.8 128.8h.9v.9h-.9zM69.2 139.2h.9v.9h-.9zM70.2 131.6h.9v.9h-.9zM56.5 152.1h.9v.9h-.9zM77.7 132.4h.9v.9h-.9zM54 146.7h.9v.9h-.9zM64.6 134.5h.9v.9h-.9zM70.6 137h.9v.9h-.9zM64.4 150.8h.9v.9h-.9zM47.8 139.4h.9v.9h-.9zM55.3 134.6h.9v.9h-.9zM62.1 136.2h.9v.9h-.9zM43.5 139.9h.9v.9h-.9zM82.9 130.5h.9v.9h-.9zM71 139.3h.9v.9h-.9zM66 129.8h.9v.9h-.9zM68.8 136.3h.9v.9h-.9zM75.5 141h.9v.9h-.9zM57.6 109.3h.9v.9h-.9zM76.1 138.1h.9v.9h-.9zM64.9 128.9h.9v.9h-.9zM84.4 145.3h.9v.9h-.9zM64.3 130.9h.9v.9h-.9zM68.3 145.5h.9v.9h-.9zM67.8 142h.9v.9h-.9zM65.7 137h.9v.9h-.9zM52.9 135h.9v.9h-.9zM63.9 133.4h.9v.9h-.9zM61.5 136.6h.9v.9h-.9zM58.7 132.3h.9v.9h-.9zM56 123.8h.9v.9h-.9zM59 130.5h.9v.9h-.9zM54.5 113.3h.9v.9h-.9zM77.3 142.6h.9v.9h-.9zM60.3 138.7h.9v.9h-.9zM54.2 120.3h.9v.9h-.9zM66.3 138.9h.9v.9h-.9zM57.7 134h.9v.9h-.9zM37.7 132.9h.9v.9h-.9zM72.4 135.4h.9v.9h-.9zM65 138.9h.9v.9h-.9zM46 123.1h.9v.9h-.9zM52.8 136.1h.9v.9h-.9zM58.2 118h.9v.9h-.9zM71 132.4h.9v.9h-.9zM71.9 151h.9v.9h-.9zM49.6 123.2h.9v.9h-.9zM72.6 145.9h.9v.9h-.9zM66.8 137.1h.9v.9h-.9zM69.3 139.6h.9v.9h-.9zM52.8 140.3h.9v.9h-.9zM71.8 130.6h.9v.9h-.9zM55.8 129.9h.9v.9h-.9zM58.6 138.5h.9v.9h-.9zM70 134.2h.9v.9h-.9zM60.9 119h.9v.9h-.9zM59.9 125.6h.9v.9h-.9zM58.8 136.9h.9v.9h-.9zM56.1 129.5h.9v.9h-.9zM53.8 131.8h.9v.9h-.9zM61.1 142.5h.9v.9h-.9zM47 141.7h.9v.9h-.9zM68.9 129.6h.9v.9h-.9zM57.7 135.7h.9v.9h-.9zM67.9 132.7h.9v.9h-.9zM62.2 134.2h.9v.9h-.9zM54.3 136.3h.9v.9h-.9zM68.4 134.4h.9v.9h-.9zM53.9 134h.9v.9h-.9zM62.6 136.7h.9v.9h-.9zM60 141h.9v.9h-.9zM72.6 141h.9v.9h-.9zM65.5 144.3h.9v.9h-.9zM63.1 132.6h.9v.9h-.9zM51.4 134.2h.9v.9h-.9zM73.7 126h.9v.9h-.9zM70.1 123.3h.9v.9h-.9zM66 149.4h.9v.9h-.9zM63.9 124.2h.9v.9h-.9zM65.9 132.8h.9v.9h-.9zM70.2 129.6h.9v.9h-.9zM48.9 130h.9v.9h-.9zM68.4 142.6h.9v.9h-.9zM65.8 134.2h.9v.9h-.9zM69.3 132.4h.9v.9h-.9zM59.6 135.9h.9v.9h-.9zM72.7 129.8h.9v.9h-.9zM67.7 128.7h.9v.9h-.9zM57.3 135.5h.9v.9h-.9zM52.2 126.9h.9v.9h-.9zM53.4 129h.9v.9h-.9zM68.6 134.6h.9v.9h-.9zM52.2 114.2h.9v.9h-.9zM67.2 128.8h.9v.9h-.9zM72.3 130.7h.9v.9h-.9zM52.4 128.7h.9v.9h-.9zM50.6 122.2h.9v.9h-.9zM69.5 129.6h.9v.9h-.9zM69.3 129.4h.9v.9h-.9zM61.5 129.4h.9v.9h-.9zM58.8 128.5h.9v.9h-.9zM76.1 133.6h.9v.9h-.9zM47 148.1h.9v.9h-.9zM74 143.4h.9v.9h-.9zM62.6 132.7h.9v.9h-.9zM59.4 135.1h.9v.9h-.9zM67.4 134h.9v.9h-.9zM56.5 126h.9v.9h-.9zM77.5 148h.9v.9h-.9zM53 128.7h.9v.9h-.9zM63.1 138.9h.9v.9h-.9zM62.5 136h.9v.9h-.9zM66.5 143.5h.9v.9h-.9zM52.4 143.1h.9v.9h-.9zM67.1 138.5h.9v.9h-.9zM50.7 132.1h.9v.9h-.9zM61.2 139.3h.9v.9h-.9zM69.2 139.7h.9v.9h-.9zM52.5 144.4h.9v.9h-.9zM64 141.7h.9v.9h-.9zM63.3 128.2h.9v.9h-.9zM85.6 139.5h.9v.9h-.9zM69.9 130.2h.9v.9h-.9zM61.5 143.2h.9v.9h-.9zM67.2 148.5h.9v.9h-.9zM73.6 125.1h.9v.9h-.9zM50.4 143.6h.9v.9h-.9zM68.5 131.9h.9v.9h-.9zM60.9 129.4h.9v.9h-.9zM78.6 132.7h.9v.9h-.9zM51.7 141.5h.9v.9h-.9zM62.7 137h.9v.9h-.9zM60.1 133.7h.9v.9h-.9zM47.5 138.5h.9v.9h-.9zM57.6 130.9h.9v.9h-.9zM66.1 144.6h.9v.9h-.9zM45.1 132.9h.9v.9h-.9zM68 142.4h.9v.9h-.9zM55.7 136.7h.9v.9h-.9zM66.8 141.7h.9v.9h-.9zM58.1 132.5h.9v.9h-.9zM59 143.4h.9v.9h-.9zM72.6 130.4h.9v.9h-.9zM62.2 135.9h.9v.9h-.9zM55.7 133.1h.9v.9h-.9zM70.7 140.4h.9v.9h-.9zM57.6 128.7h.9v.9h-.9zM62.4 122h.9v.9h-.9zM66 135h.9v.9h-.9zM52.1 132.1h.9v.9h-.9zM57.8 131.9h.9v.9h-.9zM55.9 145.2h.9v.9h-.9zM55.2 140.3h.9v.9h-.9zM65.1 145.9h.9v.9h-.9zM62.9 134.1h.9v.9h-.9zM63.9 118.7h.9v.9h-.9zM83.7 132.3h.9v.9h-.9zM60.7 124.9h.9v.9h-.9zM62.2 147.2h.9v.9h-.9zM56.9 137.7h.9v.9h-.9zM72.1 141.8h.9v.9h-.9zM59.9 119.9h.9v.9h-.9zM66.8 138.7h.9v.9h-.9zM60.6 130.6h.9v.9h-.9zM78.2 121.2h.9v.9h-.9zM59 129.1h.9v.9h-.9zM50.1 128.5h.9v.9h-.9zM56.6 144.2h.9v.9h-.9zM48.5 122.9h.9v.9h-.9zM65.6 121.5h.9v.9h-.9zM46.4 129h.9v.9h-.9zM53.1 126.2h.9v.9h-.9zM62 137.8h.9v.9h-.9zM57.9 131.9h.9v.9h-.9zM69.4 132.9h.9v.9h-.9zM69.6 129.3h.9v.9h-.9zM67.5 144.4h.9v.9h-.9zM60.6 131.4h.9v.9h-.9zM62 137.8h.9v.9h-.9zM53.1 134.4h.9v.9h-.9zM58.4 145.6h.9v.9h-.9zM48.7 139.3h.9v.9h-.9zM60.7 128.1h.9v.9h-.9zM64.5 132.2h.9v.9h-.9zM63.7 136h.9v.9h-.9zM73.5 130.8h.9v.9h-.9zM77.5 112.3h.9v.9h-.9zM78.8 143.9h.9v.9h-.9zM76.6 135.7h.9v.9h-.9zM65.7 125.9h.9v.9h-.9zM74.7 124.8h.9v.9h-.9zM56.6 134.1h.9v.9h-.9zM65.3 136.8h.9v.9h-.9zM53.5 131.3h.9v.9h-.9zM67.5 143.7h.9v.9h-.9zM69.8 137.4h.9v.9h-.9zM61.1 129.7h.9v.9h-.9zM59 133.3h.9v.9h-.9zM67.8 130h.9v.9h-.9zM80.8 126.1h.9v.9h-.9zM70.3 132.5h.9v.9h-.9zM62.2 131.1h.9v.9h-.9zM76.3 131.7h.9v.9h-.9zM68 135.1h.9v.9h-.9zM69.7 138.8h.9v.9h-.9zM77.3 128.2h.9v.9h-.9zM56.4 147.7h.9v.9h-.9zM74.1 134.7h.9v.9h-.9zM60.9 136.2h.9v.9h-.9zM74.4 128h.9v.9h-.9zM75.6 133.7h.9v.9h-.9zM60.3 130.9h.9v.9h-.9zM45.6 136.7h.9v.9h-.9zM52.2 129.6h.9v.9h-.9zM55.8 136h.9v.9h-.9zM69.5 134.4h.9v.9h-.9zM65 137.4h.9v.9h-.9zM77 138.8h.9v.9h-.9zM76.6 133.6h.9v.9h-.9zM66.3 128.9h.9v.9h-.9zM68.4 127.3h.9v.9h-.9zM67.3 129h.9v.9h-.9zM60.4 143.9h.9v.9h-.9zM64.6 140.5h.9v.9h-.9zM61.3 119.2h.9v.9h-.9zM75.8 132.7h.9v.9h-.9zM57.9 141.7h.9v.9h-.9zM53.7 128.2h.9v.9h-.9zM73.1 128.5h.9v.9h-.9zM72.9 131.7h.9v.9h-.9zM61.6 134.7h.9v.9h-.9zM59.1 142.7h.9v.9h-.9zM72.6 134.7h.9v.9h-.9zM68.5 138.5h.9v.9h-.9zM77.6 121.4h.9v.9h-.9zM72 141.5h.9v.9h-.9zM60.7 134.2h.9v.9h-.9zM60.4 144h.9v.9h-.9zM53.7 139h.9v.9h-.9zM74.2 138.7h.9v.9h-.9zM59.3 130.4h.9v.9h-.9zM45.4 125.9h.9v.9h-.9zM72.6 126.6h.9v.9h-.9zM49.5 132.2h.9v.9h-.9zM50.7 137.8h.9v.9h-.9zM56 141.8h.9v.9h-.9zM62.4 122.8h.9v.9h-.9zM56.8 129h.9v.9h-.9zM56.2 144h.9v.9h-.9zM54.9 137.1h.9v.9h-.9zM58.4 138.9h.9v.9h-.9zM51.2 121.6h.9v.9h-.9zM67.7 145.6h.9v.9h-.9zM51.6 131.6h.9v.9h-.9zM59 126.7h.9v.9h-.9zM71.6 134.5h.9v.9h-.9zM51.6 132.4h.9v.9h-.9zM74.6 128.5h.9v.9h-.9zM59 127.5h.9v.9h-.9zM64.7 129.7h.9v.9h-.9zM70.9 127.5h.9v.9h-.9zM51 137.8h.9v.9h-.9zM36.5 126.5h.9v.9h-.9zM65.7 136.1h.9v.9h-.9zM58.5 130.6h.9v.9h-.9zM56.5 132.7h.9v.9h-.9zM59.5 138.6h.9v.9h-.9zM63.4 138.6h.9v.9h-.9zM77.2 132h.9v.9h-.9zM60.9 137.2h.9v.9h-.9zM81.1 131.3h.9v.9h-.9zM77.7 143.6h.9v.9h-.9zM40.1 126.2h.9v.9h-.9zM55 137.3h.9v.9h-.9zM74.6 134.6h.9v.9h-.9zM64.7 151.5h.9v.9h-.9zM66.4 151.4h.9v.9h-.9zM55.8 147.3h.9v.9h-.9zM59.1 114.7h.9v.9h-.9zM56.3 130.3h.9v.9h-.9zM63 140.2h.9v.9h-.9zM69.2 138.3h.9v.9h-.9zM57 148.4h.9v.9h-.9zM73.5 134.4h.9v.9h-.9zM58.5 133.8h.9v.9h-.9zM61.5 128.6h.9v.9h-.9zM63.3 128.8h.9v.9h-.9zM68.8 128.9h.9v.9h-.9zM67.5 136.7h.9v.9h-.9zM64.8 138.3h.9v.9h-.9zM57.5 140h.9v.9h-.9zM63.6 130.7h.9v.9h-.9zM78.1 143h.9v.9h-.9zM61 138.7h.9v.9h-.9zM69.2 146.8h.9v.9h-.9zM72 132.8h.9v.9h-.9zM61.2 124.8h.9v.9h-.9zM65.6 141.1h.9v.9h-.9zM60.1 139.5h.9v.9h-.9zM64.5 130.4h.9v.9h-.9zM53 143.1h.9v.9h-.9zM84.9 138.5h.9v.9h-.9zM54.2 125.8h.9v.9h-.9zM65.5 139.4h.9v.9h-.9zM76.3 114.7h.9v.9h-.9zM79.1 135.5h.9v.9h-.9zM64.6 137.2h.9v.9h-.9zM60.4 131.8h.9v.9h-.9zM72.4 120.2h.9v.9h-.9zM62.4 138.6h.9v.9h-.9zM49.4 132.8h.9v.9h-.9zM76.4 137.1h.9v.9h-.9zM69.4 139.8h.9v.9h-.9zM65.3 137h.9v.9h-.9zM56.5 132.4h.9v.9h-.9zM79.1 124.2h.9v.9h-.9zM62 123.9h.9v.9h-.9zM58.9 127.9h.9v.9h-.9zM53 136.1h.9v.9h-.9zM55.4 138.4h.9v.9h-.9zM78.8 113.5h.9v.9h-.9zM62 117.3h.9v.9h-.9zM62.4 137.1h.9v.9h-.9zM65.2 143.9h.9v.9h-.9zM64.8 120.2h.9v.9h-.9zM76.2 126.5h.9v.9h-.9zM62.6 136.7h.9v.9h-.9zM55.9 134.8h.9v.9h-.9zM76.1 120.5h.9v.9h-.9zM49.3 130.5h.9v.9h-.9zM62 123.8h.9v.9h-.9zM43.9 141.5h.9v.9h-.9zM66.8 123.4h.9v.9h-.9zM68.3 133.6h.9v.9h-.9zM64.8 123.3h.9v.9h-.9zM61.6 138h.9v.9h-.9zM48.5 125.6h.9v.9h-.9zM71.7 150.2h.9v.9h-.9zM69.1 133.5h.9v.9h-.9zM54.2 130.8h.9v.9h-.9zM61.3 137.7h.9v.9h-.9zM74.7 116.4h.9v.9h-.9zM53.5 134.1h.9v.9h-.9zM71.8 137.4h.9v.9h-.9zM40 120.8h.9v.9h-.9zM74.9 138.9h.9v.9h-.9zM85.2 140.6h.9v.9h-.9zM67.4 146.5h.9v.9h-.9zM59.7 129.7h.9v.9h-.9zM54.8 136.1h.9v.9h-.9zM67.2 141.7h.9v.9h-.9zM75.8 139.2h.9v.9h-.9zM73.9 132.1h.9v.9h-.9zM55.3 140h.9v.9h-.9zM72.1 145h.9v.9h-.9zM62.1 130.3h.9v.9h-.9zM60.4 137h.9v.9h-.9zM63.1 132.6h.9v.9h-.9zM65.6 131.7h.9v.9h-.9zM66.3 129.2h.9v.9h-.9zM50.3 131.6h.9v.9h-.9zM79.6 127.5h.9v.9h-.9zM71.3 145h.9v.9h-.9zM58.8 136.2h.9v.9h-.9zM44 138.7h.9v.9h-.9zM76.6 135.6h.9v.9h-.9zM46.5 129.4h.9v.9h-.9zM57.1 135h.9v.9h-.9zM65.9 130.7h.9v.9h-.9zM60.8 127.4h.9v.9h-.9zM68.4 135.7h.9v.9h-.9zM66.4 130h.9v.9h-.9zM67.7 131.6h.9v.9h-.9zM66 132.8h.9v.9h-.9zM57.8 125.2h.9v.9h-.9zM47.6 123h.9v.9h-.9zM49.5 127.4h.9v.9h-.9zM61.7 124.6h.9v.9h-.9zM67.1 151.1h.9v.9h-.9zM39.7 124.5h.9v.9h-.9zM74 124.6h.9v.9h-.9zM62.6 128.9h.9v.9h-.9zM70 122.2h.9v.9h-.9zM66.1 135.9h.9v.9h-.9zM68.3 137.6h.9v.9h-.9zM64.8 119.5h.9v.9h-.9zM60.7 126.3h.9v.9h-.9zM68 132.2h.9v.9h-.9zM64.8 143.1h.9v.9h-.9zM62.6 147.8h.9v.9h-.9zM70.6 121.9h.9v.9h-.9zM58.5 144h.9v.9h-.9zM59.2 143.8h.9v.9h-.9zM58.7 133.1h.9v.9h-.9zM72.2 121.1h.9v.9h-.9zM64.1 130.3h.9v.9h-.9zM64.9 148.1h.9v.9h-.9zM67.7 123h.9v.9h-.9zM71.7 130.3h.9v.9h-.9zM64.9 143.5h.9v.9h-.9zM60.9 141.9h.9v.9h-.9zM65 126.6h.9v.9h-.9zM60.9 122.9h.9v.9h-.9zM73.6 135.4h.9v.9h-.9zM71.7 124.9h.9v.9h-.9zM70.7 124.2h.9v.9h-.9zM65.9 133.9h.9v.9h-.9zM58.5 136.6h.9v.9h-.9zM63.8 126.9h.9v.9h-.9zM57.2 123.3h.9v.9h-.9zM75.2 135.3h.9v.9h-.9zM60.4 139.7h.9v.9h-.9zM56.2 124.5h.9v.9h-.9zM66.5 147h.9v.9h-.9zM66.1 135.3h.9v.9h-.9zM78.3 121.3h.9v.9h-.9zM89.5 125h.9v.9h-.9zM62.9 123h.9v.9h-.9zM53.2 132.1h.9v.9h-.9zM84.3 126.3h.9v.9h-.9zM58.3 136.2h.9v.9h-.9zM54.8 131.9h.9v.9h-.9zM70.5 116.1h.9v.9h-.9zM60.9 131.6h.9v.9h-.9zM59.1 133h.9v.9h-.9zM48.2 130.4h.9v.9h-.9zM59.1 125.5h.9v.9h-.9zM74.2 150.5h.9v.9h-.9zM70.3 126.9h.9v.9h-.9zM75.6 138.1h.9v.9h-.9zM56.5 139h.9v.9h-.9zM58.6 138.7h.9v.9h-.9zM71.3 143.5h.9v.9h-.9zM54.5 133h.9v.9h-.9zM63.5 124h.9v.9h-.9zM67 139.7h.9v.9h-.9zM51.8 129.5h.9v.9h-.9zM54.1 123.5h.9v.9h-.9zM54.4 145.3h.9v.9h-.9zM57.9 130.8h.9v.9h-.9zM71.9 142.4h.9v.9h-.9zM75.5 116.9h.9v.9h-.9zM69.9 119.5h.9v.9h-.9zM58.1 130.6h.9v.9h-.9zM58.6 150.2h.9v.9h-.9zM62.1 143.7h.9v.9h-.9zM62 133.5h.9v.9h-.9zM67.8 137.7h.9v.9h-.9zM67.8 119.7h.9v.9h-.9zM67.8 136.6h.9v.9h-.9zM68.6 133.6h.9v.9h-.9zM67 123.3h.9v.9h-.9zM73.1 124h.9v.9h-.9zM75.4 142.4h.9v.9h-.9zM63 131.6h.9v.9h-.9zM70.1 131.5h.9v.9h-.9zM53.4 136.3h.9v.9h-.9zM53.1 130.2h.9v.9h-.9zM78.8 140.7h.9v.9h-.9zM59.7 133.4h.9v.9h-.9zM58 133.9h.9v.9h-.9zM51.2 139.6h.9v.9h-.9zM63.6 129h.9v.9h-.9zM59.7 130.1h.9v.9h-.9zM58.5 129.9h.9v.9h-.9zM74.6 139.6h.9v.9h-.9zM67.1 137h.9v.9h-.9zM53.8 114.1h.9v.9h-.9zM76.3 139.9h.9v.9h-.9zM65.3 136.3h.9v.9h-.9zM65.2 134.2h.9v.9h-.9zM61.3 115.6h.9v.9h-.9zM68.3 134.4h.9v.9h-.9zM71.8 136.5h.9v.9h-.9zM61.1 139h.9v.9h-.9zM65.1 130.3h.9v.9h-.9zM60.3 130.5h.9v.9h-.9zM61 130.3h.9v.9h-.9zM62.5 143.3h.9v.9h-.9zM46.7 107.3h.9v.9h-.9zM59.5 132.7h.9v.9h-.9zM57.2 122.8h.9v.9h-.9zM56.3 129.8h.9v.9h-.9zM64.8 131.2h.9v.9h-.9zM53.3 130.9h.9v.9h-.9zM76.4 126.7h.9v.9h-.9zM64.1 142.3h.9v.9h-.9zM56.7 129.3h.9v.9h-.9zM88.1 144.2h.9v.9h-.9zM59 135.3h.9v.9h-.9zM64.4 135.2h.9v.9h-.9zM67.5 131.5h.9v.9h-.9zM44.6 126.1h.9v.9h-.9zM64.8 122.7h.9v.9h-.9zM60.8 146.4h.9v.9h-.9zM65.5 128.6h.9v.9h-.9zM64.7 142.7h.9v.9h-.9zM48.9 123.7h.9v.9h-.9zM57.9 130.4h.9v.9h-.9zM62.8 129.2h.9v.9h-.9zM64.4 134.7h.9v.9h-.9zM53.6 128.8h.9v.9h-.9zM53 136.4h.9v.9h-.9zM65.7 139.4h.9v.9h-.9zM56.1 129.6h.9v.9h-.9zM44.6 134.1h.9v.9h-.9zM49.8 136.9h.9v.9h-.9zM72.7 137.7h.9v.9h-.9zM68.8 135.9h.9v.9h-.9zM66.7 141.8h.9v.9h-.9zM74.2 150.7h.9v.9h-.9zM61.2 140.9h.9v.9h-.9zM70.9 137.5h.9v.9h-.9zM65.8 123.6h.9v.9h-.9zM72.7 126.7h.9v.9h-.9zM58 126.9h.9v.9h-.9zM68.2 126h.9v.9h-.9zM67.4 138.7h.9v.9h-.9zM64.4 131.2h.9v.9h-.9zM68.6 144.8h.9v.9h-.9zM59.6 125.3h.9v.9h-.9zM58.4 126.7h.9v.9h-.9zM61.5 132.7h.9v.9h-.9zM44 146h.9v.9h-.9zM56.6 130.5h.9v.9h-.9zM46.9 117.7h.9v.9h-.9zM54.9 135.9h.9v.9h-.9zM70.7 119.1h.9v.9h-.9zM65.4 146.5h.9v.9h-.9zM61.1 141.6h.9v.9h-.9zM66.1 126.4h.9v.9h-.9zM71.9 129h.9v.9h-.9zM66.5 130.7h.9v.9h-.9zM61.7 135.3h.9v.9h-.9zM74.7 120.1h.9v.9h-.9zM54 134.8h.9v.9h-.9zM71.8 132.4h.9v.9h-.9zM61.9 138.3h.9v.9h-.9zM76.9 126.5h.9v.9h-.9zM50 131.7h.9v.9h-.9zM70 123.2h.9v.9h-.9zM73.1 141.7h.9v.9h-.9zM70.2 127h.9v.9h-.9zM52.5 139.4h.9v.9h-.9zM65.7 139.7h.9v.9h-.9zM52.1 109.6h.9v.9h-.9zM73 142.2h.9v.9h-.9zM61.1 133.9h.9v.9h-.9zM67.3 140.2h.9v.9h-.9zM61.9 129.8h.9v.9h-.9zM55.2 142.4h.9v.9h-.9zM64.3 105.9h.9v.9h-.9zM66.4 129.3h.9v.9h-.9zM52.7 129.8h.9v.9h-.9zM52.7 130.3h.9v.9h-.9zM58.9 138.2h.9v.9h-.9zM54.9 119h.9v.9h-.9zM58.4 122.7h.9v.9h-.9zM69.8 132.3h.9v.9h-.9zM49.3 126.8h.9v.9h-.9zM63.3 133.7h.9v.9h-.9zM47.9 132.9h.9v.9h-.9zM66 142.1h.9v.9h-.9zM72.8 133h.9v.9h-.9zM52.5 130.9h.9v.9h-.9zM69 126.4h.9v.9h-.9zM74.2 126.1h.9v.9h-.9zM53.9 140.8h.9v.9h-.9zM62.6 136.6h.9v.9h-.9zM60.9 134.2h.9v.9h-.9zM58.5 149.6h.9v.9h-.9zM69 133h.9v.9h-.9zM67.5 140.9h.9v.9h-.9zM59 135.4h.9v.9h-.9zM65.2 129.3h.9v.9h-.9zM56.9 132.3h.9v.9h-.9zM60.9 130.6h.9v.9h-.9zM47 134.6h.9v.9h-.9zM69 134.6h.9v.9h-.9zM78 141.1h.9v.9h-.9zM60.5 128.4h.9v.9h-.9zM67.7 130.9h.9v.9h-.9zM49.8 135h.9v.9h-.9zM61 132.1h.9v.9h-.9zM68.7 135.6h.9v.9h-.9zM80.6 127.9h.9v.9h-.9zM62.7 136.5h.9v.9h-.9zM59.8 129.8h.9v.9h-.9zM78.3 122h.9v.9h-.9zM66.4 119.6h.9v.9h-.9zM66.4 118.2h.9v.9h-.9zM53.6 143.3h.9v.9h-.9zM76.5 135h.9v.9h-.9zM40.5 142.3h.9v.9h-.9zM65.6 124.9h.9v.9h-.9zM60.5 123.1h.9v.9h-.9zM62.7 133.3h.9v.9h-.9zM64.5 140.5h.9v.9h-.9zM58 115.9h.9v.9h-.9zM53.6 123.7h.9v.9h-.9zM60.4 130.4h.9v.9h-.9zM63.1 145.2h.9v.9h-.9zM63.7 125.1h.9v.9h-.9zM60.9 126.8h.9v.9h-.9zM61.5 138.7h.9v.9h-.9zM53.9 139.8h.9v.9h-.9zM78.6 146.5h.9v.9h-.9zM77.3 134.7h.9v.9h-.9zM52 150.4h.9v.9h-.9zM63.1 135.9h.9v.9h-.9zM60.5 126.3h.9v.9h-.9zM68.7 122.5h.9v.9h-.9zM51.8 138.5h.9v.9h-.9zM60.3 127.1h.9v.9h-.9zM67.7 145.6h.9v.9h-.9zM61.1 132.9h.9v.9h-.9zM68.2 141.7h.9v.9h-.9zM72.3 139.6h.9v.9h-.9zM57.9 138.4h.9v.9h-.9zM63.6 120.1h.9v.9h-.9zM74 138.7h.9v.9h-.9zM75.1 133.5h.9v.9h-.9zM69.7 133.4h.9v.9h-.9zM64.9 141.4h.9v.9h-.9zM64 139h.9v.9h-.9zM63.2 144h.9v.9h-.9zM69 120.5h.9v.9h-.9zM77.5 137.6h.9v.9h-.9zM59.2 128.9h.9v.9h-.9zM80.3 134.7h.9v.9h-.9zM67.8 138.9h.9v.9h-.9zM58.4 148.3h.9v.9h-.9zM81.3 127.6h.9v.9h-.9zM73.1 120.7h.9v.9h-.9zM60.7 134.5h.9v.9h-.9zM63.9 138.7h.9v.9h-.9zM66.9 137h.9v.9h-.9zM62.4 136.5h.9v.9h-.9zM58.8 150h.9v.9h-.9zM64 144.1h.9v.9h-.9zM64.4 132.8h.9v.9h-.9zM62 123.5h.9v.9h-.9zM81.1 137.4h.9v.9h-.9zM64.6 130.2h.9v.9h-.9zM74.3 131.3h.9v.9h-.9zM59.6 129.6h.9v.9h-.9zM76.5 136.5h.9v.9h-.9zM62.3 128.8h.9v.9h-.9zM74.4 136.4h.9v.9h-.9zM60.7 141.3h.9v.9h-.9zM70.9 125.9h.9v.9h-.9zM73.2 142.9h.9v.9h-.9zM61.5 123.2h.9v.9h-.9zM72.8 131.2h.9v.9h-.9zM61.8 131.7h.9v.9h-.9zM61.2 140.8h.9v.9h-.9zM54.3 138.3h.9v.9h-.9zM73.3 142.6h.9v.9h-.9zM69.6 136.2h.9v.9h-.9zM61.9 133h.9v.9h-.9zM56.1 147.6h.9v.9h-.9zM62.5 125.8h.9v.9h-.9zM70.6 146.3h.9v.9h-.9zM65.9 131.4h.9v.9h-.9zM54.2 139.3h.9v.9h-.9zM61.5 128.6h.9v.9h-.9zM68.6 123.5h.9v.9h-.9zM69.7 114.3h.9v.9h-.9zM58.4 122.4h.9v.9h-.9zM61.5 140.5h.9v.9h-.9zM52.6 145.1h.9v.9h-.9zM57.8 130.1h.9v.9h-.9zM71.9 128.1h.9v.9h-.9zM75.8 132.4h.9v.9h-.9zM62.8 126.2h.9v.9h-.9zM73.2 133.5h.9v.9h-.9zM59.5 126.3h.9v.9h-.9zM58.3 133.2h.9v.9h-.9zM57.6 140.5h.9v.9h-.9zM63.3 129h.9v.9h-.9zM67.4 145.6h.9v.9h-.9zM46.2 136.9h.9v.9h-.9zM72.6 135.1h.9v.9h-.9zM70.5 121.6h.9v.9h-.9zM57.3 142.2h.9v.9h-.9zM62.8 134.5h.9v.9h-.9zM68.8 137h.9v.9h-.9zM67.4 130h.9v.9h-.9zM61.1 144.6h.9v.9h-.9zM59.5 122.4h.9v.9h-.9zM60.7 141.2h.9v.9h-.9zM78.6 135.2h.9v.9h-.9zM58.4 138.9h.9v.9h-.9zM66.1 143.6h.9v.9h-.9zM67.9 140.1h.9v.9h-.9zM67.9 137.4h.9v.9h-.9zM56 132.7h.9v.9h-.9zM77 144.8h.9v.9h-.9zM71.7 137.2h.9v.9h-.9zM62.7 136.8h.9v.9h-.9zM60.9 142.8h.9v.9h-.9zM61 127.9h.9v.9h-.9zM50.2 146.6h.9v.9h-.9zM57.4 127.1h.9v.9h-.9zM67 148.5h.9v.9h-.9zM69.2 131.3h.9v.9h-.9zM68.4 127.4h.9v.9h-.9zM61.6 134.3h.9v.9h-.9zM63.8 140.3h.9v.9h-.9zM68.2 149.2h.9v.9h-.9zM70.6 131.7h.9v.9h-.9zM65.8 127.2h.9v.9h-.9zM58.6 131.3h.9v.9h-.9zM72.1 128.5h.9v.9h-.9zM50.8 125.9h.9v.9h-.9zM53.7 132.5h.9v.9h-.9zM61.2 124.6h.9v.9h-.9zM57.1 130.7h.9v.9h-.9zM67 138.9h.9v.9h-.9zM74.7 132h.9v.9h-.9zM68.9 134.6h.9v.9h-.9zM54.7 128.9h.9v.9h-.9zM81.8 132.7h.9v.9h-.9zM77.4 140.7h.9v.9h-.9zM77.5 132.5h.9v.9h-.9zM71.5 131.6h.9v.9h-.9zM54.6 124.6h.9v.9h-.9zM67.4 121.1h.9v.9h-.9zM66.8 127h.9v.9h-.9zM66.7 123h.9v.9h-.9zM70.8 132.2h.9v.9h-.9zM51.2 122.5h.9v.9h-.9zM64.3 120.9h.9v.9h-.9zM66.5 137.9h.9v.9h-.9zM58.4 145.2h.9v.9h-.9zM75.7 136.5h.9v.9h-.9zM67.6 137.8h.9v.9h-.9zM61.7 144.6h.9v.9h-.9zM59.4 113.8h.9v.9h-.9zM64 137.6h.9v.9h-.9zM70.6 125.2h.9v.9h-.9zM75.3 127.4h.9v.9h-.9zM69 139.9h.9v.9h-.9zM65.3 143.1h.9v.9h-.9zM59.8 150.5h.9v.9h-.9zM67.9 130.6h.9v.9h-.9zM85.3 134h.9v.9h-.9zM50.5 145.4h.9v.9h-.9zM76.6 129.4h.9v.9h-.9zM55.7 143.1h.9v.9h-.9zM64.3 126.3h.9v.9h-.9zM59.9 134.6h.9v.9h-.9zM71.9 146.6h.9v.9h-.9zM58.7 146.3h.9v.9h-.9zM51.4 139.8h.9v.9h-.9zM62.7 137.5h.9v.9h-.9zM60.3 128.3h.9v.9h-.9zM66.2 143.1h.9v.9h-.9zM45.6 134.4h.9v.9h-.9zM60.5 125.4h.9v.9h-.9zM52.8 138.2h.9v.9h-.9zM68.4 139.2h.9v.9h-.9zM47.5 121.8h.9v.9h-.9zM58.8 130.5h.9v.9h-.9zM78.3 130.9h.9v.9h-.9zM64.9 142h.9v.9h-.9zM77.6 137h.9v.9h-.9zM66.7 149.6h.9v.9h-.9zM60.5 119.6h.9v.9h-.9zM57.7 131.5h.9v.9h-.9zM74.6 136.6h.9v.9h-.9zM73.8 134.8h.9v.9h-.9zM64.2 129.4h.9v.9h-.9zM53.7 138.1h.9v.9h-.9zM66.8 138.6h.9v.9h-.9zM59.5 130.6h.9v.9h-.9zM67 138.9h.9v.9h-.9zM80.2 127h.9v.9h-.9zM72 141.1h.9v.9h-.9zM61.7 135.1h.9v.9h-.9zM63.4 146.3h.9v.9h-.9zM84.8 136.6h.9v.9h-.9zM61.8 141.7h.9v.9h-.9zM67.9 132.5h.9v.9h-.9zM70.1 141h.9v.9h-.9zM60.6 140.9h.9v.9h-.9zM45.4 123.7h.9v.9h-.9zM61.3 135.3h.9v.9h-.9zM51.9 145.9h.9v.9h-.9zM60.8 135.2h.9v.9h-.9zM63.5 140.1h.9v.9h-.9zM59.1 140h.9v.9h-.9zM57 122.1h.9v.9h-.9zM68.1 135.3h.9v.9h-.9zM71.1 118.4h.9v.9h-.9zM64.8 128.8h.9v.9h-.9zM62.3 130.9h.9v.9h-.9zM60.8 128.6h.9v.9h-.9zM72.3 120.2h.9v.9h-.9zM50.1 136.8h.9v.9h-.9zM80.4 127.9h.9v.9h-.9zM56.4 124.6h.9v.9h-.9zM55.5 144.1h.9v.9h-.9zM69.5 141.3h.9v.9h-.9zM66.7 135.9h.9v.9h-.9zM59.1 126.2h.9v.9h-.9zM60.8 144.2h.9v.9h-.9zM58.1 134.3h.9v.9h-.9zM77.8 133.4h.9v.9h-.9zM69.1 129.5h.9v.9h-.9zM79.3 124.1h.9v.9h-.9zM68.5 132.1h.9v.9h-.9zM65.5 136.9h.9v.9h-.9zM74.7 141.1h.9v.9h-.9zM72.5 137h.9v.9h-.9zM55.1 144.8h.9v.9h-.9zM76.5 137.9h.9v.9h-.9zM70.4 132.1h.9v.9h-.9zM52 142h.9v.9h-.9zM57.9 149.5h.9v.9h-.9zM69.5 133.9h.9v.9h-.9zM58.8 134.9h.9v.9h-.9zM55.6 131h.9v.9h-.9zM77 131.6h.9v.9h-.9zM79 133.2h.9v.9h-.9zM67.3 126.6h.9v.9h-.9zM61.4 130.4h.9v.9h-.9zM52.4 149.6h.9v.9h-.9zM68.7 133.3h.9v.9h-.9zM54.8 134.3h.9v.9h-.9zM55.2 126.2h.9v.9h-.9zM62.3 151.5h.9v.9h-.9zM49.5 138.5h.9v.9h-.9zM59.3 110.6h.9v.9h-.9zM52.2 132.9h.9v.9h-.9zM64.3 127.9h.9v.9h-.9zM78.5 138.3h.9v.9h-.9zM58.6 120.7h.9v.9h-.9zM65.3 128.6h.9v.9h-.9zM72.3 125.6h.9v.9h-.9zM73.7 130.3h.9v.9h-.9zM65.4 131.8h.9v.9h-.9zM69 143.3h.9v.9h-.9zM59.3 126.7h.9v.9h-.9zM79.4 141.7h.9v.9h-.9zM79.5 141.8h.9v.9h-.9zM64.9 147.2h.9v.9h-.9zM58.3 130.6h.9v.9h-.9zM60.5 139.6h.9v.9h-.9zM56.8 132.6h.9v.9h-.9zM56.8 132.1h.9v.9h-.9zM73.1 143h.9v.9h-.9zM58 137.7h.9v.9h-.9zM59.9 116.1h.9v.9h-.9zM54 144.1h.9v.9h-.9zM62.8 136.2h.9v.9h-.9zM74.1 134.3h.9v.9h-.9zM58.6 129.1h.9v.9h-.9zM56 138.5h.9v.9h-.9zM59.9 138.2h.9v.9h-.9zM51.4 130.5h.9v.9h-.9zM80.8 137h.9v.9h-.9zM62.9 143.6h.9v.9h-.9zM66.1 146.5h.9v.9h-.9zM54.2 140.2h.9v.9h-.9zM55 139.5h.9v.9h-.9zM84.1 146.4h.9v.9h-.9zM56.7 137.4h.9v.9h-.9zM67.6 128.2h.9v.9h-.9zM65.8 125.4h.9v.9h-.9zM71.8 141.4h.9v.9h-.9zM62.4 139.6h.9v.9h-.9zM83.4 132.7h.9v.9h-.9zM48.3 136.7h.9v.9h-.9zM60 127.7h.9v.9h-.9zM71.2 142.2h.9v.9h-.9zM68.7 147.3h.9v.9h-.9zM58.5 130.6h.9v.9h-.9zM67.2 112h.9v.9h-.9zM41.2 136.8h.9v.9h-.9zM62 134.5h.9v.9h-.9zM55.8 135.9h.9v.9h-.9zM72.5 128.9h.9v.9h-.9zM68.4 132.8h.9v.9h-.9zM62.4 135h.9v.9h-.9zM76.2 138.3h.9v.9h-.9zM69.4 135.2h.9v.9h-.9zM46 141.7h.9v.9h-.9zM63.6 134.8h.9v.9h-.9zM59.5 121.5h.9v.9h-.9zM76.1 148.9h.9v.9h-.9zM76.7 119.1h.9v.9h-.9zM68.3 124.4h.9v.9h-.9zM62.2 129.8h.9v.9h-.9zM58.6 127.8h.9v.9h-.9zM59.7 140.3h.9v.9h-.9zM77 141.6h.9v.9h-.9zM63.6 132.8h.9v.9h-.9zM61.7 133.9h.9v.9h-.9zM58.6 132.6h.9v.9h-.9zM70.7 132.2h.9v.9h-.9zM56.9 133h.9v.9h-.9zM64.4 133.4h.9v.9h-.9zM61.5 139.7h.9v.9h-.9zM63.3 125.8h.9v.9h-.9zM68.4 128.2h.9v.9h-.9zM70.1 140.7h.9v.9h-.9zM67.7 136.5h.9v.9h-.9zM52.5 132.4h.9v.9h-.9zM64.7 139.2h.9v.9h-.9zM54.4 132.8h.9v.9h-.9zM50.9 135.5h.9v.9h-.9zM64.3 135h.9v.9h-.9zM77.4 140h.9v.9h-.9zM62.1 129.3h.9v.9h-.9zM60 140.4h.9v.9h-.9zM71.3 129.9h.9v.9h-.9zM62.7 130.5h.9v.9h-.9zM69.4 135.6h.9v.9h-.9zM57.7 126.8h.9v.9h-.9zM74.5 122.6h.9v.9h-.9zM48.6 109h.9v.9h-.9zM80.6 129.6h.9v.9h-.9zM70.8 138.6h.9v.9h-.9zM70.6 143.3h.9v.9h-.9zM59.8 133.9h.9v.9h-.9zM71.8 138.6h.9v.9h-.9zM57.4 127.9h.9v.9h-.9zM51.6 136.1h.9v.9h-.9zM59.2 121.4h.9v.9h-.9zM59 136.7h.9v.9h-.9zM65.2 132.2h.9v.9h-.9zM65 139.3h.9v.9h-.9zM53.7 127.4h.9v.9h-.9zM71.8 140h.9v.9h-.9zM52 128.1h.9v.9h-.9zM75.7 140.1h.9v.9h-.9zM62.4 142.3h.9v.9h-.9zM75.1 145.5h.9v.9h-.9zM52 123.5h.9v.9h-.9zM59.4 133.6h.9v.9h-.9zM60.7 136h.9v.9h-.9zM76 143h.9v.9h-.9zM71.9 134h.9v.9h-.9zM77.5 137.7h.9v.9h-.9zM65.7 133.9h.9v.9h-.9zM48.3 151.5h.9v.9h-.9zM63.5 141.3h.9v.9h-.9zM82.6 132.5h.9v.9h-.9zM53.9 142.3h.9v.9h-.9zM65.7 126.3h.9v.9h-.9zM71.7 134.1h.9v.9h-.9zM55.7 113.5h.9v.9h-.9zM55.3 137.1h.9v.9h-.9zM55 141.9h.9v.9h-.9zM82.1 136.6h.9v.9h-.9zM65.6 133.4h.9v.9h-.9zM70.9 134.3h.9v.9h-.9zM72.4 145.6h.9v.9h-.9zM70.8 126.2h.9v.9h-.9zM69.2 131.9h.9v.9h-.9zM66.3 141.9h.9v.9h-.9zM58.1 135.7h.9v.9h-.9zM76 127.3h.9v.9h-.9zM62.1 139.9h.9v.9h-.9zM61.7 142.3h.9v.9h-.9zM55.2 121.9h.9v.9h-.9zM66.8 132.9h.9v.9h-.9zM66.3 141.8h.9v.9h-.9zM72.5 131.2h.9v.9h-.9zM60.4 118.3h.9v.9h-.9zM55.5 136h.9v.9h-.9zM65.5 122h.9v.9h-.9zM70.2 133.7h.9v.9h-.9zM72.9 131.2h.9v.9h-.9zM71.8 125.1h.9v.9h-.9zM48.1 127.5h.9v.9h-.9zM69.5 137.3h.9v.9h-.9zM47.8 135.2h.9v.9h-.9zM69.3 147.6h.9v.9h-.9zM70.2 138.2h.9v.9h-.9zM50.4 137h.9v.9h-.9zM47.1 131.6h.9v.9h-.9zM60.5 126.2h.9v.9h-.9zM55.1 132.9h.9v.9h-.9zM68.5 128.8h.9v.9h-.9zM66.2 139.8h.9v.9h-.9zM63.5 149.5h.9v.9h-.9zM61 128.1h.9v.9h-.9zM47.7 142.7h.9v.9h-.9zM69.4 132.5h.9v.9h-.9zM66.3 133h.9v.9h-.9zM71 133.9h.9v.9h-.9zM65.6 133.4h.9v.9h-.9zM56.2 116.1h.9v.9h-.9zM68.2 124h.9v.9h-.9zM67 139.2h.9v.9h-.9zM79.5 128h.9v.9h-.9zM64.9 141.7h.9v.9h-.9zM58 129.3h.9v.9h-.9zM67.4 150.7h.9v.9h-.9zM72.7 141.7h.9v.9h-.9zM55.6 139.3h.9v.9h-.9zM73.2 123.8h.9v.9h-.9zM63.7 132.5h.9v.9h-.9zM69.1 120h.9v.9h-.9zM69.6 134h.9v.9h-.9zM61.4 117h.9v.9h-.9zM46.2 129.7h.9v.9h-.9zM69.1 137.5h.9v.9h-.9zM70 120.3h.9v.9h-.9zM65.3 144.9h.9v.9h-.9zM50.6 139.3h.9v.9h-.9zM57.5 138.4h.9v.9h-.9zM64.5 120.9h.9v.9h-.9zM54.8 144.3h.9v.9h-.9zM62.7 144h.9v.9h-.9zM66.5 141.2h.9v.9h-.9zM60.3 135.8h.9v.9h-.9zM60.5 141.3h.9v.9h-.9zM58.8 142.9h.9v.9h-.9zM76.9 124.2h.9v.9h-.9zM62.2 138.4h.9v.9h-.9zM78.6 143.3h.9v.9h-.9zM64.4 120.1h.9v.9h-.9zM70.7 129.3h.9v.9h-.9zM65.3 137.3h.9v.9h-.9zM51.8 142.6h.9v.9h-.9zM71.3 138.7h.9v.9h-.9zM68.6 136.9h.9v.9h-.9zM51.9 129.9h.9v.9h-.9zM70.5 131.4h.9v.9h-.9zM63.8 137h.9v.9h-.9zM64.4 136.1h.9v.9h-.9zM67.7 134h.9v.9h-.9zM54.4 131.9h.9v.9h-.9zM71.7 128.6h.9v.9h-.9zM67.6 136.5h.9v.9h-.9zM56.2 111.4h.9v.9h-.9zM63.5 127.8h.9v.9h-.9zM58.4 141.5h.9v.9h-.9zM57.2 136.8h.9v.9h-.9zM64.6 135.6h.9v.9h-.9zM80.4 118.2h.9v.9h-.9zM71.7 132.9h.9v.9h-.9zM61.3 128.7h.9v.9h-.9zM64 134.4h.9v.9h-.9zM55.9 147.2h.9v.9h-.9zM57.4 132.9h.9v.9h-.9zM53 135.2h.9v.9h-.9zM66.6 142.7h.9v.9h-.9zM71.9 130h.9v.9h-.9zM77.1 133.2h.9v.9h-.9zM76.7 147.8h.9v.9h-.9zM60.2 125.4h.9v.9h-.9zM68.2 145.5h.9v.9h-.9zM67 142.8h.9v.9h-.9zM68.6 141.1h.9v.9h-.9zM74.7 131.7h.9v.9h-.9zM51.7 133.1h.9v.9h-.9zM57 124.5h.9v.9h-.9zM62.2 139.7h.9v.9h-.9zM48.1 121.9h.9v.9h-.9zM70.3 126.9h.9v.9h-.9zM60.3 144.9h.9v.9h-.9zM73 136.9h.9v.9h-.9zM68.1 112.2h.9v.9h-.9zM68.3 137.1h.9v.9h-.9zM51.9 135.5h.9v.9h-.9zM67.4 133.1h.9v.9h-.9zM70.3 141.1h.9v.9h-.9zM64.1 132h.9v.9h-.9zM53.7 143.1h.9v.9h-.9zM58.8 136.6h.9v.9h-.9zM76.5 140.2h.9v.9h-.9zM53 133.3h.9v.9h-.9zM57.6 120.8h.9v.9h-.9zM56.9 138.7h.9v.9h-.9zM66.4 132.4h.9v.9h-.9zM65.1 124.7h.9v.9h-.9zM57.2 132.7h.9v.9h-.9zM70.3 131.5h.9v.9h-.9zM62.2 136.7h.9v.9h-.9zM75.9 123.9h.9v.9h-.9zM68.1 135.5h.9v.9h-.9zM63 136h.9v.9h-.9zM47 134.2h.9v.9h-.9zM61.6 124.1h.9v.9h-.9zM70.7 133.1h.9v.9h-.9zM60.7 140.1h.9v.9h-.9zM55.9 128.3h.9v.9h-.9zM70.5 141h.9v.9h-.9zM80.5 130.4h.9v.9h-.9zM51.4 122.1h.9v.9h-.9zM53.6 134.9h.9v.9h-.9zM61.6 128.6h.9v.9h-.9zM55.1 128.4h.9v.9h-.9zM60.5 143.5h.9v.9h-.9zM68.8 145h.9v.9h-.9zM70.5 140.1h.9v.9h-.9zM73.5 137.6h.9v.9h-.9zM76.5 143.1h.9v.9h-.9zM78.8 135.7h.9v.9h-.9zM61.2 138.2h.9v.9h-.9zM60.4 128.4h.9v.9h-.9zM67.2 125.1h.9v.9h-.9zM62.3 145.3h.9v.9h-.9zM64.6 140.6h.9v.9h-.9zM68.9 137.1h.9v.9h-.9zM64.5 138.9h.9v.9h-.9zM55.5 138.7h.9v.9h-.9zM54.6 128h.9v.9h-.9zM58.7 123.3h.9v.9h-.9zM47.1 137.1h.9v.9h-.9zM67.8 139.3h.9v.9h-.9zM82.1 135.4h.9v.9h-.9zM69.8 128h.9v.9h-.9zM69.5 124.9h.9v.9h-.9zM80.1 126.3h.9v.9h-.9zM60.1 140h.9v.9h-.9zM45.2 144.7h.9v.9h-.9zM55.6 135.6h.9v.9h-.9zM71.8 135.3h.9v.9h-.9zM71.4 130h.9v.9h-.9zM68.5 116.6h.9v.9h-.9zM76.2 128.7h.9v.9h-.9zM56.3 134.1h.9v.9h-.9zM77.8 128.4h.9v.9h-.9zM63.4 131.1h.9v.9h-.9zM55.7 123.6h.9v.9h-.9zM68.5 139.7h.9v.9h-.9zM57.3 135.8h.9v.9h-.9zM67.3 137h.9v.9h-.9zM62.2 134.4h.9v.9h-.9zM65.9 125.5h.9v.9h-.9zM62.3 140.4h.9v.9h-.9zM58.9 144.5h.9v.9h-.9zM61.5 125.2h.9v.9h-.9zM61.1 123.2h.9v.9h-.9zM68.7 121.3h.9v.9h-.9zM63.7 132.1h.9v.9h-.9zM61 137.4h.9v.9h-.9zM66 129.5h.9v.9h-.9zM70.4 130.4h.9v.9h-.9zM71.1 144.7h.9v.9h-.9zM66.7 141.4h.9v.9h-.9zM52.3 138.5h.9v.9h-.9zM51 132.6h.9v.9h-.9zM69.4 112.6h.9v.9h-.9zM57 127.8h.9v.9h-.9zM55.6 134.2h.9v.9h-.9zM68.9 124.8h.9v.9h-.9zM58.3 119.2h.9v.9h-.9zM57.6 117.3h.9v.9h-.9zM50.9 137.8h.9v.9h-.9zM70.9 127.5h.9v.9h-.9zM66.5 127.8h.9v.9h-.9zM72.5 148h.9v.9h-.9zM42.9 127.1h.9v.9h-.9zM58.2 130.2h.9v.9h-.9zM76.6 146.6h.9v.9h-.9zM63.4 139.1h.9v.9h-.9zM50.2 131.6h.9v.9h-.9zM61.1 132.8h.9v.9h-.9zM66 121.5h.9v.9h-.9zM54.8 151.1h.9v.9h-.9zM49 134.5h.9v.9h-.9zM69.6 137.9h.9v.9h-.9zM64 121.1h.9v.9h-.9zM59.6 121.5h.9v.9h-.9zM80 136.9h.9v.9h-.9zM69.6 135.6h.9v.9h-.9zM60.2 143.5h.9v.9h-.9zM70.9 139.1h.9v.9h-.9zM68.4 139.9h.9v.9h-.9zM61.2 137.5h.9v.9h-.9zM64.2 132h.9v.9h-.9zM68.9 151.1h.9v.9h-.9zM46.5 145.5h.9v.9h-.9zM59.9 143.6h.9v.9h-.9zM55 132.5h.9v.9h-.9zM72.1 133.4h.9v.9h-.9zM66.4 124.3h.9v.9h-.9zM53.9 147.3h.9v.9h-.9zM64.8 133.3h.9v.9h-.9zM51.9 125.7h.9v.9h-.9zM54.9 133.6h.9v.9h-.9zM62.5 129.1h.9v.9h-.9zM57.9 134.9h.9v.9h-.9zM73.3 122.8h.9v.9h-.9zM51.6 143h.9v.9h-.9zM51.5 130.7h.9v.9h-.9zM64.5 148.6h.9v.9h-.9zM46.4 110.8h.9v.9h-.9zM62.8 142.6h.9v.9h-.9zM64.7 127.5h.9v.9h-.9zM65.1 117.5h.9v.9h-.9zM70.4 145.9h.9v.9h-.9zM61.8 140.6h.9v.9h-.9zM54.7 145.8h.9v.9h-.9zM58.1 127.6h.9v.9h-.9zM57.1 119.8h.9v.9h-.9zM69.1 150h.9v.9h-.9zM51.5 132.4h.9v.9h-.9zM67.3 129.5h.9v.9h-.9zM50.4 136.7h.9v.9h-.9zM71.9 134.8h.9v.9h-.9zM54.5 131.6h.9v.9h-.9zM47.3 133.5h.9v.9h-.9zM73.7 142.9h.9v.9h-.9zM62.8 137.5h.9v.9h-.9zM59.2 135.1h.9v.9h-.9zM58.5 135.3h.9v.9h-.9zM59.2 135.6h.9v.9h-.9zM69.3 133.9h.9v.9h-.9zM52.6 138h.9v.9h-.9zM61.4 130h.9v.9h-.9zM68.2 127.3h.9v.9h-.9zM71.3 138.5h.9v.9h-.9zM57.7 128.4h.9v.9h-.9zM62.5 126.7h.9v.9h-.9zM71.4 115.9h.9v.9h-.9zM64.7 131.2h.9v.9h-.9zM54.3 139.1h.9v.9h-.9zM59.5 137.7h.9v.9h-.9zM59.9 131.7h.9v.9h-.9zM67.9 141.7h.9v.9h-.9zM71.9 133.8h.9v.9h-.9zM75.9 131.3h.9v.9h-.9zM52.1 119h.9v.9h-.9zM51.4 127.1h.9v.9h-.9zM48.6 136.6h.9v.9h-.9zM63.8 133.7h.9v.9h-.9zM65.5 133.1h.9v.9h-.9zM61.4 131.5h.9v.9h-.9zM63.8 125h.9v.9h-.9zM74.2 146.4h.9v.9h-.9zM63.8 152.3h.9v.9h-.9zM55.4 141.2h.9v.9h-.9zM50 138.9h.9v.9h-.9zM57.3 142.1h.9v.9h-.9zM64.5 141.6h.9v.9h-.9zM68.6 138.2h.9v.9h-.9zM61.2 146.8h.9v.9h-.9zM66.5 137.9h.9v.9h-.9zM75.5 131.9h.9v.9h-.9zM78.1 142.7h.9v.9h-.9zM64.2 122.4h.9v.9h-.9zM73.7 131.5h.9v.9h-.9zM64.3 135h.9v.9h-.9zM71.5 139.1h.9v.9h-.9zM48.3 128.7h.9v.9h-.9zM66.4 135.4h.9v.9h-.9zM70.2 138.6h.9v.9h-.9zM77.1 128.2h.9v.9h-.9zM74.4 137.1h.9v.9h-.9zM66 139.5h.9v.9h-.9zM60.7 139.8h.9v.9h-.9zM61.8 139.8h.9v.9h-.9zM57.2 143.4h.9v.9h-.9zM50.8 128.7h.9v.9h-.9zM63.1 136h.9v.9h-.9zM56.9 130.8h.9v.9h-.9zM65.7 142.4h.9v.9h-.9zM74.3 130.2h.9v.9h-.9zM63 131.5h.9v.9h-.9zM50.8 130.4h.9v.9h-.9zM73 123.2h.9v.9h-.9zM87.4 141.9h.9v.9h-.9zM78 135.5h.9v.9h-.9zM44.3 137.5h.9v.9h-.9zM76.8 129.4h.9v.9h-.9zM74.1 140.1h.9v.9h-.9zM70.1 140h.9v.9h-.9zM68.4 139.2h.9v.9h-.9zM73.5 137.4h.9v.9h-.9zM68.8 137.5h.9v.9h-.9zM64.7 127h.9v.9h-.9zM48.6 125.9h.9v.9h-.9zM53.2 122.1h.9v.9h-.9zM69.3 131.4h.9v.9h-.9zM70 130.3h.9v.9h-.9zM66.7 132.4h.9v.9h-.9zM65.9 150.8h.9v.9h-.9zM76.9 144.3h.9v.9h-.9zM66 148.4h.9v.9h-.9zM70.5 141.2h.9v.9h-.9zM53.8 129.1h.9v.9h-.9z"/>
<path d="M43.2 151 A23.9 22.5 0 1 1 84.8 151" fill="none" stroke="#3a1212" stroke-width="1.2"/>
<text x="54.2" y="143.4" font-size="13.6" fill="#2a0505" text-anchor="start" stroke="#2a0505" stroke-width="0.35">G1</text>
<polygon points="143.2,148.5 143.2,148.1 143.2,147.3 143.3,146.7 143.2,146.2 143.5,145.6 143.4,144.5 142.8,144.3 142.9,143.8 143.1,143.3 143.0,142.6 143.4,142.3 143.8,141.2 144.4,140.4 144.7,139.8 143.4,139.2 144.0,138.8 143.6,138.4 144.7,137.6 145.0,136.4 144.7,136.4 144.1,135.4 144.2,135.2 144.6,134.5 144.4,133.6 145.1,132.8 144.6,131.9 145.2,131.6 144.7,130.9 144.9,130.1 145.4,129.5 145.0,129.0 146.2,128.7 145.2,128.1 146.3,127.1 146.2,126.7 146.0,126.3 146.3,125.5 146.9,124.8 145.9,123.8 146.9,123.6 147.3,123.4 146.5,122.1 147.1,121.4 146.6,120.8 147.1,120.6 147.1,120.2 148.1,119.7 148.0,119.0 148.5,118.4 148.1,117.6 149.0,116.7 148.6,115.9 149.1,115.4 149.1,114.9 148.9,114.8 149.4,114.3 150.1,113.4 149.8,112.8 150.4,111.9 150.2,111.3 149.8,110.7 150.8,110.7 150.4,109.5 150.2,109.0 150.6,108.9 150.9,108.0 151.2,107.1 150.9,106.7 150.6,106.0 151.5,105.7 151.2,104.6 151.7,104.1 151.0,104.2 152.1,103.6 151.6,102.8 152.4,102.1 151.4,101.2 151.9,100.8 152.3,100.0 151.9,99.2 152.3,98.7 152.1,98.1 153.0,97.6 152.7,97.3 152.1,96.7 153.3,95.9 153.1,95.7 153.1,94.8 153.1,94.4 153.1,93.9 153.6,93.3 153.3,92.1 153.0,91.6 153.6,90.8 153.4,90.2 153.8,89.6 154.3,88.9 153.7,88.8 154.5,87.9 154.7,87.7 154.3,86.6 153.9,86.3 153.8,85.7 154.1,84.7 154.8,84.2 154.1,83.4 155.2,83.0 155.3,82.6 154.3,81.7 155.2,81.0 154.7,81.0 155.1,80.1 155.3,79.8 155.1,78.4 155.8,78.3 156.1,77.2 155.3,76.9 155.5,76.0 155.4,75.3 155.9,74.8 155.5,74.1 156.5,74.0 156.1,73.5 155.8,72.5 157.1,71.6 156.2,71.4 156.6,70.4 157.4,70.4 157.2,69.5 157.3,69.0 157.5,68.2 158.0,67.8 157.3,67.3 158.2,66.6 157.8,66.0 158.4,65.1 158.7,64.7 158.2,64.2 158.8,63.3 158.1,63.0 157.9,62.3 158.2,61.5 158.6,61.5 159.1,60.4 159.2,60.0 158.6,59.4 159.8,59.1 160.4,57.9 160.1,57.7 160.2,57.5 160.4,57.8 161.0,58.7 160.9,59.0 160.3,59.5 160.6,60.4 161.4,60.5 161.5,61.7 162.0,61.9 161.5,61.4 161.7,61.1 162.5,60.3 162.9,59.0 163.0,58.6 162.2,58.1 162.5,57.2 163.5,56.5 162.5,56.1 163.7,55.9 163.4,54.9 163.1,54.6 164.1,54.8 164.2,55.9 163.9,56.0 164.6,56.9 164.3,57.0 164.4,58.2 164.5,58.6 165.6,59.1 165.0,60.0 166.1,60.6 166.5,61.0 166.2,61.7 166.8,62.2 166.1,62.8 167.1,63.8 166.4,64.4 167.7,64.6 167.6,65.5 167.5,65.8 166.8,66.9 167.4,67.5 168.2,68.1 168.1,68.6 168.4,69.4 168.6,69.9 167.9,70.6 167.7,70.5 168.9,71.4 169.1,71.9 168.0,72.3 169.2,73.5 168.7,73.9 168.2,74.8 168.7,74.7 169.1,75.6 169.2,76.4 168.8,77.1 169.1,77.4 170.0,78.3 169.9,79.0 169.5,79.2 169.8,80.3 169.4,80.8 169.9,81.6 170.3,82.2 170.0,82.5 169.9,82.9 170.1,83.5 170.6,84.4 170.8,85.2 171.3,85.6 170.9,86.2 170.9,86.6 170.8,87.2 171.2,87.9 171.4,88.7 172.2,89.2 172.3,89.6 171.9,90.4 171.8,90.8 171.7,91.9 171.6,92.3 172.3,92.5 172.2,93.6 172.4,93.9 172.6,94.5 173.0,95.0 172.4,95.2 173.2,95.8 173.1,96.7 173.5,97.4 172.6,97.8 173.1,98.9 173.7,99.7 174.1,100.0 172.9,100.8 173.4,101.3 173.2,101.8 173.4,102.6 174.4,103.0 173.9,103.9 174.3,104.3 173.7,105.1 173.8,105.6 174.3,106.3 174.9,106.7 173.9,107.3 174.9,108.3 173.8,108.4 174.1,109.5 174.8,109.6 175.0,110.7 175.2,110.9 175.2,111.5 175.5,112.0 174.8,112.7 175.4,113.7 175.1,114.1 174.9,114.7 174.6,115.5 175.9,115.8 175.3,116.6 175.3,117.5 175.1,117.7 175.9,118.5 175.5,118.6 176.1,119.2 176.4,119.7 176.6,120.9 176.2,121.6 176.7,122.0 176.1,122.1 176.0,122.7 176.9,123.8 177.4,124.1 176.7,125.1 177.4,125.8 176.4,126.4 177.1,126.9 176.9,127.2 177.8,128.0 177.8,128.0 178.3,128.6 178.3,129.6 178.2,129.9 178.5,131.0 177.9,131.7 178.3,132.3 178.2,132.4 178.3,132.8 178.4,133.4 179.0,134.3 178.6,135.3 179.5,135.5 179.1,136.0 180.2,136.6 179.8,137.7 179.8,138.2 179.6,138.6 180.0,138.8 180.3,139.8 181.7,140.2 181.5,140.2 181.8,141.4 182.4,141.2 183.1,142.5 182.9,142.2 183.4,143.3 182.7,143.6 183.0,143.8 184.5,144.8 184.5,144.7 184.9,145.1 185.7,145.7 186.4,146.0 186.6,146.5 187.2,146.8 187.7,147.2 188.3,147.6 188.8,148.0 189.3,148.2 190.0,148.5" fill="#d0d0d0" stroke="#9a9a9a" stroke-width="0.5"/>
<path d="M160.3 58 V80" stroke="#777" stroke-width="0.8" fill="none"/>
<path d="M161.3 62 V90" stroke="#999" stroke-width="0.8" fill="none"/>
<path d="M163.6 56 V75" stroke="#888" stroke-width="0.8" fill="none"/>
<path d="M165.4 60 V70" stroke="#999" stroke-width="0.8" fill="none"/>
<path d="M156.2 80 V92" stroke="#666" stroke-width="0.8" fill="none"/>
<path d="M155.6 84 V96" stroke="#777" stroke-width="0.8" fill="none"/>
<path d="M157 74 V86" stroke="#999" stroke-width="0.8" fill="none"/>
<path d="M150 120 V128" stroke="#999" stroke-width="0.8" fill="none"/>
<polyline points="142.9,148.5 143.5,148.5 144.1,148.3 144.6,148.4 145.5,148.2 145.9,148.2 146.6,148.2 147.2,148.2 147.7,148.1 148.5,148.2 148.8,148.1 149.7,148.1 150.3,148.2 150.7,148.0 151.3,148.1 152.0,148.1 152.7,147.9 153.3,147.8 153.9,147.8 154.6,147.6 155.3,147.6 155.9,147.4 156.5,147.3 157.1,147.4 157.7,147.2 158.4,147.2 159.2,147.1 159.7,146.9 160.1,146.9 160.8,146.8 161.5,146.7 161.9,146.4 162.5,146.2 163.1,146.1 163.7,145.8 164.2,145.6 165.0,145.2 165.3,145.0 166.1,144.7 167.1,144.6 167.6,144.0 167.9,144.2 168.2,143.5 168.9,143.0 169.1,143.1 170.0,142.4 170.4,142.3 171.3,141.6 171.2,141.2 171.4,140.7 171.9,140.4 172.6,139.7 172.9,139.2 173.4,139.2 174.1,138.5 174.4,138.3 175.1,137.3 175.6,136.7 176.3,136.6 175.9,135.9 177.1,135.6 177.3,135.0 177.1,134.5 177.9,133.7 177.7,133.4 179.1,132.8 179.0,132.1 179.5,132.0 179.1,131.4 179.8,130.6 180.2,129.8 179.8,129.3 180.6,129.2 180.2,128.6 180.8,127.9 180.9,127.4 181.3,126.7 181.3,126.0 181.8,125.9 181.6,125.2 182.0,124.3 181.9,123.7 182.8,123.2 182.5,122.8 182.5,122.3 183.0,121.4 183.4,121.1 183.8,120.3 183.8,119.9 183.7,118.9 183.6,118.6 183.4,117.7 184.4,117.1 184.3,116.6 184.4,116.1 184.3,115.6 184.4,115.3 184.8,114.2 185.3,113.6 185.4,113.4 185.8,112.6 185.7,112.2 185.9,111.5 186.2,111.0 185.7,110.1 186.3,109.9 185.9,109.3 186.5,108.5 186.1,107.7 186.2,107.3 186.5,106.4 186.3,106.2 186.5,105.2 186.9,104.5 186.9,104.0 187.5,103.6 187.3,103.0 186.9,102.6 188.0,101.5 187.7,101.4 188.1,100.9 188.3,100.3 187.6,99.7 188.6,98.9 188.7,98.0 188.3,97.3 188.5,97.3 189.0,96.3 188.7,95.6 189.0,95.0 189.2,94.6 189.3,94.0 189.4,93.3 189.7,93.0 190.3,92.2 190.3,91.4 189.8,90.8 189.9,90.5 190.9,89.8 190.3,88.9 191.1,88.5 190.6,88.2 191.4,87.6 191.8,86.9 191.9,86.5 191.2,85.5 191.7,85.1 191.5,84.3 192.3,84.1 192.1,83.5 192.7,82.9 192.1,82.0 192.8,81.7 193.1,80.7 193.1,80.0 192.8,79.5 193.2,78.9 193.5,78.5 193.8,77.9 194.1,77.1 193.2,76.8 193.8,76.4 193.3,75.4 193.7,74.9 194.4,74.5 193.8,73.7 194.5,73.2 193.9,72.4 193.8,71.9 194.2,71.2 194.4,70.9 194.2,69.8 194.3,69.4 194.7,69.2 195.1,68.1 194.6,67.7 195.4,66.9 195.4,66.3 195.7,66.1 195.0,65.4 195.5,64.5 195.5,64.3 195.7,63.5 195.9,62.5 196.3,62.0 196.7,61.3 196.5,60.9 196.8,60.5 197.0,60.1 197.5,59.0 196.8,58.7 197.8,58.0 197.2,57.5 197.4,57.8 198.1,58.7 198.2,59.1 197.8,59.7 198.4,60.6 198.3,60.9 198.2,61.7 198.6,62.3 199.0,62.9 198.6,63.7 198.6,64.0 198.3,65.2 199.5,65.6 198.7,65.9 199.0,66.5 199.1,67.2 199.2,68.2 199.6,67.7 199.4,66.5 200.1,66.3 200.2,65.5 200.4,64.7 200.4,64.4 200.3,63.8 200.3,63.0 200.5,62.5 201.0,61.7 200.8,61.2 200.5,60.8 200.5,60.2 200.6,59.2 201.5,58.8 201.2,58.2 202.0,57.7 201.5,57.3 201.5,56.1 202.2,56.0 202.4,55.1 202.4,54.4 202.0,54.3 202.8,54.9 202.6,55.4 202.5,55.8 203.3,56.6 203.4,56.8 203.0,58.0 203.7,58.5 203.8,58.8 203.7,59.3 203.6,59.8 203.7,60.6 203.8,61.5 204.2,62.3 204.5,62.5 203.9,63.1 203.9,64.0 204.6,64.5 204.5,64.9 204.1,65.8 204.0,66.5 204.1,66.6 204.8,67.7 204.2,68.3 204.7,68.4 204.8,69.0 204.9,69.9 205.2,70.7 205.3,71.1 205.2,71.8 205.4,72.2 205.6,73.1 204.8,73.2 205.3,74.0 205.2,74.6 205.0,75.1 205.5,76.0 205.7,76.1 205.2,77.0 205.9,77.5 205.9,78.0 205.5,79.0 205.4,79.6 205.9,79.7 205.8,80.6 205.5,81.1 206.0,81.8 206.5,82.3 206.6,82.9 206.5,83.4 206.4,84.4 206.7,84.5 206.7,85.2 207.0,85.9 207.0,86.4 207.2,87.2 206.4,88.1 207.1,88.5 206.8,88.8 207.1,89.8 207.2,90.3 206.6,90.8 206.9,91.4 207.4,92.1 206.7,92.5 207.1,93.1 207.2,93.6 207.2,94.4 208.0,94.8 208.1,95.7 208.1,96.5 208.0,97.1 207.5,97.5 207.7,97.8 207.7,98.7 207.6,98.9 208.5,100.0 207.6,100.2 207.7,101.0 208.8,101.4 208.5,102.2 208.8,102.8 208.9,103.1 209.3,104.2 208.5,104.2 209.4,105.3 209.0,106.0 209.4,106.4 208.9,106.9 209.3,107.5 209.4,108.4 209.6,108.4 209.6,109.5 210.0,109.8 210.5,110.8 210.1,110.8 210.1,111.4 210.8,112.4 210.3,113.0 211.0,113.8 210.4,114.0 211.1,114.6 211.0,115.2 211.0,115.9 211.1,116.3 211.3,117.2 211.1,117.6 211.3,118.5 211.2,118.7 212.4,119.5 211.8,120.1 212.3,120.3 212.0,120.8 212.4,121.7 213.3,122.6 213.0,123.0 213.2,123.7 213.1,124.1 213.1,124.5 213.3,125.2 213.5,125.9 213.4,126.3 214.2,127.2 214.6,127.5 214.5,127.8 215.0,128.8 215.1,129.1 214.8,129.8 215.6,130.6 215.1,131.3 215.4,131.3 216.1,132.1 216.8,132.4 217.0,133.3 216.6,133.5 217.3,134.0 217.2,134.6 217.5,135.7 218.3,136.0 218.4,136.6 218.8,137.3 219.3,137.9 218.9,138.4 219.1,138.4 219.8,139.0 220.3,140.1 220.7,140.1 220.8,140.4 221.2,141.4 221.4,141.4 222.0,141.9 222.4,142.4 222.6,143.0 223.5,143.4 223.7,144.1 224.7,144.3 224.7,144.9 225.2,145.1 225.7,145.5 226.2,146.0 226.7,146.6 227.1,146.5 227.9,146.7 228.4,146.8 229.0,146.9 229.5,146.9 230.2,147.0 230.8,147.1 231.5,147.3 232.3,147.4 232.9,147.5 233.5,147.6 233.9,147.7 234.5,147.8 235.2,147.9 235.8,148.1 236.4,148.0 237.1,148.1 237.6,148.1 238.3,148.0 239.1,148.0 239.6,148.2 240.1,148.2 240.5,148.1 241.4,148.2 241.8,148.1 242.4,148.2 243.2,148.1 243.7,148.2 244.2,148.2 244.8,148.2 245.7,148.1 246.1,148.2 246.8,148.2 247.3,148.2 247.9,148.2 248.5,148.2 249.3,148.1 249.7,148.2 250.2,148.3 250.8,148.1 251.4,148.3 252.2,148.2 252.7,148.2 253.3,148.1 253.9,148.3 254.5,148.3 255.2,148.2 255.8,148.3 256.4,148.3 256.9,148.2 257.5,148.3 258.1,148.2 258.7,148.4 259.2,148.3 259.9,148.3 260.6,148.3 261.0,148.3 261.9,148.2 262.3,148.2 262.9,148.4 263.6,148.3 264.1,148.3 264.8,148.3 265.2,148.4 266.0,148.4 266.6,148.3 267.1,148.4 267.8,148.4 268.2,148.3 268.9,148.3 269.6,148.4 270.1,148.4 270.9,148.4 271.5,148.3 271.9,148.4 272.7,148.3 273.0,148.5 273.6,148.4 274.5,148.4 274.8,148.4 275.7,148.4 276.0,148.4 276.8,148.4 277.3,148.4 277.9,148.5 278.5,148.5 279.0,148.4 279.7,148.4 280.3,148.5 281.0,148.4 281.7,148.5 282.3,148.5 282.7,148.5 283.5,148.5 284.0,148.4 284.7,148.5 285.3,148.6 285.7,148.4 286.5,148.6 286.9,148.5" fill="none" stroke="#6fbf3a" stroke-width="1.3"/>
<polyline points="145.4,144.1 145.4,143.8 145.4,143.0 145.9,142.9 146.8,142.0 147.5,142.0 147.5,141.5 147.6,140.9 148.8,140.2 149.0,140.1 149.5,139.3 149.5,138.7 150.0,138.7 150.2,138.3 150.5,137.5 151.3,137.3 151.9,136.5 151.8,136.3 152.5,135.9 152.4,135.4 153.3,134.8 153.2,134.4 153.3,134.0 154.0,133.5 154.6,132.8 154.7,132.4 154.9,131.8 155.8,131.3 156.4,131.0 156.0,130.2 156.2,129.8 156.3,129.1 157.3,128.9 157.5,128.4 157.5,127.8 157.6,126.9 157.4,126.5 158.4,126.1 158.6,125.2 158.5,124.9 158.7,124.3 159.1,123.5 159.3,122.8 159.5,122.3 159.1,121.9 159.9,121.2 159.8,120.4 160.3,120.1 160.4,119.6 159.9,119.0 160.9,118.1 160.3,117.9 160.7,117.2 161.6,116.4 161.3,115.7 161.9,115.6 161.7,115.0 161.6,114.5 162.4,113.9 161.8,113.0 162.6,112.8 162.7,112.1 162.8,111.5 162.8,110.7 163.6,110.3 163.2,109.6 163.5,109.2 163.5,108.5 163.9,107.9 164.0,107.1 164.7,106.7 164.7,106.4 164.4,105.5 164.9,105.2 164.9,104.4 164.6,103.6 165.1,103.2 165.1,102.6 165.7,101.7 165.6,101.0 165.5,100.7 166.1,99.9 166.2,99.5 166.4,98.6 166.2,98.0 166.6,97.7 166.2,97.3 167.0,96.3 166.4,96.0 166.6,95.4 166.6,94.8 166.7,94.1 166.8,93.5 166.6,92.7 167.0,92.3 167.5,91.6 167.7,90.8 167.6,90.3 167.1,89.7 167.3,89.2 167.5,88.8 167.9,87.9 168.0,87.5 167.3,87.0 168.2,86.3 167.9,85.8 168.5,85.0 167.6,84.4 167.9,83.8 168.3,83.0 167.9,82.6 168.6,82.0 168.8,81.7 169.0,80.7 168.6,80.2 168.4,79.9 169.1,79.3 168.8,78.4 169.0,77.6 168.8,77.3 169.5,76.3 169.0,76.0 169.2,75.3 169.0,74.7 169.0,74.1 169.1,73.8 169.7,73.0 169.5,72.5 169.6,72.0 170.2,71.0 169.9,70.5 170.5,69.8 169.7,69.2 170.7,68.9 170.7,68.2 170.8,67.6 170.8,67.1 171.2,66.7 171.2,66.1 170.8,65.1 171.7,64.4 171.4,64.0 171.7,63.4 172.2,62.7 172.2,62.6 172.0,61.9 172.3,61.0 172.4,60.4 172.3,59.7 172.3,59.6 172.7,59.0 172.7,58.0 172.9,57.4 173.4,56.6 172.8,56.1 173.2,55.6 172.9,55.1 173.7,54.4 173.3,53.7 173.3,52.9 173.4,52.4 174.0,51.8 174.2,51.0 173.7,50.4 174.3,49.8 174.2,49.4 174.4,48.7 174.1,48.4 174.3,47.3 174.5,46.8 174.1,45.9 174.6,45.7 174.6,45.0 174.6,44.4 175.2,43.7 175.4,42.9 175.3,42.1 175.6,42.0 176.4,41.2 176.5,40.7 176.5,40.1 177.4,40.5 176.8,41.4 177.4,41.9 177.4,42.9 178.1,43.5 177.4,43.8 177.7,44.7 178.2,45.2 177.8,45.9 178.8,46.2 178.3,46.7 179.0,47.4 178.5,48.4 179.2,48.8 178.9,49.7 179.2,50.2 179.6,50.6 180.1,51.2 179.6,51.7 179.5,52.4 180.5,53.2 180.1,53.6 180.7,54.5 180.4,54.8 180.5,55.7 180.9,56.2 181.2,56.9 181.2,57.0 181.5,57.7 181.9,58.6 181.8,59.2 182.2,59.9 182.4,60.5 181.9,61.0 182.1,61.7 182.4,62.2 182.0,62.5 182.1,63.1 183.0,64.2 182.6,64.6 182.9,65.3 182.5,66.1 182.6,66.2 183.4,66.9 183.4,67.7 183.3,68.3 183.8,68.8 183.8,69.5 184.1,69.9 183.6,70.4 183.4,71.3 183.9,71.7 183.7,72.4 184.6,73.2 184.2,73.8 184.3,74.4 184.1,75.3 184.6,75.7 185.0,76.0 184.2,76.6 184.4,77.2 184.7,78.2 185.0,78.7 184.9,79.5 185.4,79.6 185.2,80.7 185.4,81.0 185.1,81.4 185.0,82.0 184.8,83.0 185.3,83.3 185.6,83.9 185.9,84.4 185.2,85.0 186.0,86.0 185.3,86.7 185.2,87.1 185.7,87.4 185.9,88.0 185.9,88.9 185.9,89.6 186.4,89.8 185.8,90.3 185.9,91.0 185.9,91.6 186.2,92.3 186.7,93.2 186.1,93.7 185.9,94.0 186.7,94.6 186.3,95.3 186.2,95.9 186.2,96.9 186.3,97.4 186.3,98.1 187.0,98.5 187.1,99.2 187.1,99.7 186.4,100.0 187.2,101.2 186.8,101.7 187.3,102.0 187.2,102.9 187.2,103.2 186.6,103.8 186.9,104.6 187.0,105.1 187.0,105.5 187.0,106.5 187.1,107.2 187.7,107.6 187.2,108.3 187.8,109.0 187.2,109.2 187.0,110.3 187.3,110.5 187.9,111.1 187.9,111.5 187.6,112.1 188.1,112.9 188.2,113.8 187.5,114.1 188.3,114.9 187.9,115.2 187.7,115.9 188.1,116.7 188.6,117.3 188.3,117.8 188.4,118.1 187.9,119.0 188.3,119.8 188.2,120.1 188.3,120.9 188.9,121.2 188.5,122.1 188.9,122.8 188.4,123.3 188.8,124.0 188.6,124.6 189.3,125.1 188.7,125.5 188.9,126.4 188.8,126.7 189.0,127.4 189.4,127.7 189.0,128.3 189.3,129.3 189.7,129.9 189.1,130.7 189.0,130.8 189.8,131.7 189.8,132.3 190.1,132.7 190.1,133.3 190.1,134.1 190.4,134.6 191.4,135.3 191.5,135.5 191.7,136.0 191.3,136.7 191.9,137.8 191.7,138.1 192.0,138.8 191.9,139.5 192.4,139.6 193.1,140.5 193.3,141.2 193.3,141.4 194.1,141.9 193.9,142.5 194.5,143.0 195.3,143.5 194.9,143.8 195.6,144.0 195.9,144.4 196.7,145.0 196.7,145.7 197.2,146.1 197.7,146.6 197.9,146.9 198.7,147.1 199.2,147.3 199.8,147.4 200.6,147.6 201.1,147.7 201.9,147.8 202.4,148.0 203.1,148.0 203.7,148.1 204.3,148.3 205.1,148.4" fill="none" stroke="#3048a8" stroke-width="1.2" stroke-dasharray="2.2 1.6"/>
<polyline points="142.9,146.1 143.3,145.5 143.8,145.5 144.4,144.6 145.3,144.1 145.8,143.6 146.0,143.7 146.5,142.8 146.5,142.7 147.0,142.3 147.6,141.2 148.4,141.2 148.8,140.1 148.8,140.0 149.9,139.2 149.8,138.9 150.5,138.6 150.6,138.1 151.3,137.3 151.4,137.0 151.8,136.6 152.1,136.0 152.9,135.4 153.5,134.7 153.0,134.6 153.7,133.8 153.5,133.5 153.9,133.0 154.9,132.0 154.9,131.5 155.0,131.4 155.4,130.8 155.3,129.8 155.8,129.3 156.1,128.7 156.0,128.4 156.2,127.5 156.4,127.3 156.8,126.4 157.8,126.0 157.6,125.3 157.9,125.0 157.9,124.0 157.9,123.8 158.5,123.3 158.4,122.6 158.8,121.7 159.4,121.1 159.0,120.6 159.5,119.8 160.4,119.4 159.9,118.6 159.8,118.1 160.0,117.7 160.9,117.3 160.6,116.7 161.4,115.6 160.9,115.1 161.9,115.0 161.1,114.0 161.4,113.7 162.0,113.4 162.6,112.4 162.1,111.9 162.5,111.6 162.4,111.1 163.1,110.2 163.7,109.6 163.7,109.4 164.0,108.9 163.7,108.1 164.3,107.2 164.1,107.1 164.7,106.1 164.8,105.4 164.6,105.2 164.6,104.2 165.0,104.0 165.2,103.1 164.6,102.4 165.3,101.8 165.0,101.5 165.3,101.1 165.2,100.4 165.6,99.5 166.3,99.5 166.5,98.4 165.5,98.1 166.6,97.3 166.0,97.0 166.4,96.3 166.7,95.6 167.0,95.0 166.9,94.0 166.7,94.0 166.8,93.3 166.9,92.8 166.4,91.7 166.5,91.5 167.6,90.4 166.8,89.8 167.2,89.5 166.9,89.0 167.2,88.1 167.1,87.5 166.8,86.5 167.9,86.1 167.3,86.0 167.3,84.7 168.0,84.3 167.8,83.6 167.2,82.9 168.0,82.6 167.9,82.1 167.8,81.4 167.4,80.4 167.7,80.3 167.5,79.6 168.3,79.0 167.4,77.9 168.3,77.4 167.4,77.0 168.3,76.6 168.3,75.8 167.9,75.4 167.9,74.4 167.7,73.9 168.4,73.2 168.1,72.3 168.5,71.7 168.7,71.5 168.9,70.9 168.9,70.0 169.2,69.7 168.9,68.9 169.3,68.5 169.1,67.9 169.4,67.6 168.8,66.9 169.0,66.0 169.7,65.6 169.4,64.6 169.7,64.1 169.7,63.4 169.4,63.2 169.9,62.6 170.4,61.4 170.0,61.0 170.1,60.2 170.9,59.8 170.3,59.2 171.1,58.9 170.9,57.8 170.5,57.4 171.2,57.1 170.9,55.8 171.3,55.7 171.1,54.8 171.1,54.6 171.6,53.5 171.4,52.9 171.1,52.7 172.1,51.7 171.7,51.5 171.6,50.8 172.5,49.9 172.4,49.3 172.8,48.5 171.9,48.3 172.2,47.5 172.9,46.7 172.3,46.4 172.4,45.6 172.5,45.2 173.1,44.1 173.3,44.1 172.9,43.4 173.1,44.0 174.2,44.5 173.8,44.8 173.8,45.7 175.0,46.1 175.1,46.5 174.3,47.2 175.5,47.9 175.4,48.5 175.1,49.0 175.0,49.5 176.0,50.5 175.7,50.9 175.5,51.5 176.3,51.7 176.5,52.4 175.6,52.9 176.1,54.0 176.1,54.7 176.8,54.7 177.0,55.4 177.1,55.9 177.4,56.7 177.5,57.1 177.4,57.9 177.2,58.5 178.4,58.9 178.5,59.7 178.5,60.6 178.5,61.1 179.1,61.6 179.1,62.2 178.7,63.2 178.7,63.7 179.6,63.8 180.0,64.2 180.0,65.5 180.3,66.0 180.5,66.5 181.0,67.2 180.6,67.2 180.9,67.7 181.6,68.6 181.8,68.9 181.3,69.9 181.3,70.6 181.3,70.7 182.2,71.7 181.6,72.5 181.4,72.8 182.0,73.8 182.3,74.1 182.4,75.1 182.2,75.2 182.5,75.7 182.3,76.7 182.6,77.0 182.1,78.1 183.2,78.5 182.9,79.0 183.5,80.0 183.5,80.3 183.2,81.1 182.8,81.4 183.2,81.9 183.3,82.7 183.8,83.2 183.3,83.8 182.8,84.1 182.9,85.3 184.0,85.8 183.3,86.3 183.2,86.9 183.7,87.6 183.3,88.4 183.9,89.1 183.4,89.5 184.3,90.3 183.7,90.4 184.5,91.3 183.6,91.9 183.9,92.6 183.7,93.2 184.1,93.4 184.0,94.5 184.9,95.2 183.8,95.8 184.6,96.1 183.9,96.9 184.6,97.2 184.6,97.7 185.2,98.9 184.9,99.6 184.3,99.8 185.3,100.8 184.9,100.8 184.8,101.7 184.9,102.2 184.5,102.8 184.6,103.9 184.5,104.0 185.5,104.5 184.4,105.3 185.1,106.1 185.5,106.9 184.5,107.5 184.8,107.9 185.6,108.2 185.3,109.4 185.1,109.8 185.6,110.2 184.8,111.1 184.8,111.9 185.3,112.2 185.0,112.8 185.4,113.5 185.0,113.9 185.5,114.8 185.7,114.9 186.1,115.8 185.8,116.8 186.1,117.0 185.5,117.7 185.9,118.0 186.1,119.1 185.7,119.6 186.2,119.9 186.7,120.4 186.7,121.0 186.9,121.7 186.7,122.6 186.8,123.2 186.4,123.6 186.9,124.4 186.8,124.7 187.1,125.1 187.1,126.0 187.4,126.5 186.7,127.4 187.1,127.5 186.9,128.7 187.5,128.7 187.1,129.7 187.7,129.9 187.9,130.9 188.1,131.2 187.5,132.2 187.6,132.7 188.2,133.6 188.5,133.7 188.1,134.8 188.3,135.2 188.6,135.6 188.7,136.5 188.8,136.9 189.0,137.9 189.9,138.4 189.8,138.7 189.9,139.5 190.4,139.8 189.4,140.6 190.4,141.1 190.8,141.6 190.6,142.7 191.2,142.9 191.4,143.1 191.6,143.5 192.5,144.1 192.1,144.8 193.2,145.1 194.2,145.2 194.2,145.6 194.8,145.8 195.1,146.3 195.9,146.6 196.4,146.8 197.0,146.8 197.7,147.0 198.3,147.1 198.9,147.1 199.5,147.2 200.1,147.5 200.7,147.6 201.4,147.7 201.8,147.7 202.6,147.9 203.0,147.9 203.7,148.1 204.3,148.2 204.9,148.3 205.6,148.3 206.2,148.4 206.9,148.3 207.5,148.4 208.1,148.3 208.7,148.2 209.2,148.3 209.8,148.2 210.3,148.3 211.1,148.4 211.8,148.3 212.3,148.3 212.7,148.3 213.5,148.3 213.9,148.3 214.7,148.4 215.2,148.3 216.0,148.4 216.5,148.3 217.2,148.3 217.5,148.4 218.3,148.2 219.0,148.3 219.5,148.2 219.9,148.4 220.8,148.4 221.3,148.3 222.0,148.4 222.3,148.3 223.2,148.4 223.8,148.3 224.3,148.3 224.7,148.4 225.4,148.3 226.2,148.3 226.9,148.4 227.3,148.3 228.0,148.3 228.7,148.4 229.2,148.3 229.6,148.3 230.2,148.4 230.8,148.4 231.7,148.4 232.1,148.3 232.8,148.3 233.5,148.3 234.0,148.4 234.5,148.3 235.1,148.3 235.9,148.4 236.5,148.3 237.1,148.4 237.7,148.3 238.1,148.4 238.7,148.3 239.3,148.3 239.8,148.3 240.5,148.5 241.2,148.4 241.6,148.3 242.5,148.5 243.1,148.4 243.6,148.3 244.2,148.4 244.8,148.3 245.3,148.4 246.0,148.4 246.6,148.4 247.2,148.4 247.8,148.4 248.5,148.5 249.1,148.3 249.6,148.4 250.3,148.5 250.9,148.4 251.5,148.4 252.1,148.4 252.6,148.4 253.4,148.5 253.8,148.4 254.3,148.5 255.0,148.5 255.6,148.4 256.3,148.4 257.0,148.5 257.4,148.4 258.0,148.4 258.8,148.3 259.2,148.5 259.7,148.5 260.4,148.5 261.0,148.5 261.8,148.4 262.3,148.5 263.0,148.5 263.6,148.5 264.3,148.4 264.7,148.5 265.3,148.4 265.9,148.5 266.5,148.4 267.0,148.5 267.7,148.4 268.2,148.5 268.8,148.5 269.5,148.5 270.0,148.4 270.7,148.4 271.3,148.4 272.1,148.4 272.5,148.4 273.0,148.4 273.8,148.5 274.4,148.5 274.8,148.6 275.7,148.4 276.0,148.5 276.6,148.5 277.3,148.6 277.8,148.5 278.4,148.4 279.2,148.5 279.6,148.6 280.2,148.4 280.9,148.4 281.6,148.4 282.3,148.6 282.9,148.5 283.3,148.4 283.9,148.6 284.6,148.5 285.3,148.5 286.0,148.4 286.3,148.5 287.0,148.5" fill="none" stroke="#2c3d9e" stroke-width="1.7"/>
<path d="M142.4 36 V150" stroke="#263a96" stroke-width="2.5" fill="none"/>
<path d="M141.5 150.4 H287.5" stroke="#111" stroke-width="1.3" fill="none"/>
<g stroke="#222" stroke-width="1.2" fill="none"><path d="M138 150.5 V33.8"/><path d="M134.2 40.6 L138 33.4 L141.8 40.6"/><path d="M142 154.3 H287"/><path d="M282 151 L287.6 154.3 L282 157.6"/></g>
<text x="128" y="121.2" font-size="13.1" fill="#000" text-anchor="start" transform="rotate(-90 128 121.2)" stroke="#000" stroke-width="0.22">Counts</text>
<text x="164.3" y="173.9" font-size="13.5" fill="#000" text-anchor="start" stroke="#000" stroke-width="0.22">ECL-FITC (Log)</text>
<text x="150.2" y="49.8" font-size="13.2" fill="#000" text-anchor="start" stroke="#000" stroke-width="0.22">WT</text>
<path d="M209.6 20.4 H223.8" stroke="#2b3990" stroke-width="2"/>
<path d="M201.7 48.5 H210 M215.7 48.5 H223.8 M229.4 48.8 H230.8" stroke="#2b3990" stroke-width="2.3"/>
<path d="M211 81.7 H225" stroke="#72b94a" stroke-width="2"/>
<text x="234.8" y="18.3" font-size="9.8" fill="#46528a" text-anchor="start" stroke="#46528a" stroke-width="0.22">ST3GalIV +</text>
<text x="234.8" y="30.1" font-size="9.8" fill="#46528a" text-anchor="start" stroke="#46528a" stroke-width="0.22">TRAP + SA</text>
<text x="234.8" y="47.1" font-size="9.8" fill="#46528a" text-anchor="start" stroke="#46528a" stroke-width="0.22">ST3GalIV +</text>
<text x="234.8" y="58.9" font-size="9.8" fill="#46528a" text-anchor="start" stroke="#46528a" stroke-width="0.22">TRAP - SA</text>
<text x="236.6" y="78.6" font-size="9.8" fill="#88ab5c" text-anchor="start" stroke="#88ab5c" stroke-width="0.22">ST3GalIV,</text>
<text x="236.6" y="90.4" font-size="9.8" fill="#88ab5c" text-anchor="start" stroke="#88ab5c" stroke-width="0.22">Rest</text>
<path d="M367.5 43.2 V144" stroke="#000" stroke-width="1.8"/>
<path d="M366.6 143.3 H516.5" stroke="#000" stroke-width="2"/>
<path d="M363.6 143.2 H367.5" stroke="#000" stroke-width="1.5"/>
<text x="363" y="146.5" font-size="9.8" fill="#111" text-anchor="end" stroke="#111" stroke-width="0.22">0</text>
<path d="M363.6 118.4 H367.5" stroke="#000" stroke-width="1.5"/>
<text x="363" y="121.69999999999999" font-size="9.8" fill="#111" text-anchor="end" stroke="#111" stroke-width="0.22">50</text>
<path d="M363.6 93.6 H367.5" stroke="#000" stroke-width="1.5"/>
<text x="363" y="96.89999999999999" font-size="9.8" fill="#111" text-anchor="end" stroke="#111" stroke-width="0.22">100</text>
<path d="M363.6 68.8 H367.5" stroke="#000" stroke-width="1.5"/>
<text x="363" y="72.09999999999998" font-size="9.8" fill="#111" text-anchor="end" stroke="#111" stroke-width="0.22">150</text>
<path d="M363.6 44.0 H367.5" stroke="#000" stroke-width="1.5"/>
<text x="363" y="47.29999999999998" font-size="9.8" fill="#111" text-anchor="end" stroke="#111" stroke-width="0.22">200</text>
<text x="337" y="125.2" font-size="9.6" fill="#111" text-anchor="start" transform="rotate(-90 337 125.2)" stroke="#111" stroke-width="0.22">ECL-FITC (MFI)</text>
<defs><pattern id="stripe" x="0" y="86.5" width="4" height="3.57" patternUnits="userSpaceOnUse"><rect width="4" height="3.57" fill="#fff"/><rect y="0" width="4" height="1.5" fill="#8cc63f"/></pattern><pattern id="hatch" width="2" height="2" patternUnits="userSpaceOnUse"><rect width="2" height="2" fill="#c6c9ea"/><rect width="1" height="1" fill="#8f95cc"/><rect x="1" y="1" width="1" height="1" fill="#8f95cc"/></pattern></defs>
<rect x="372.1" y="120.1" width="16" height="23.1" fill="#fff" stroke="#000" stroke-width="1.8"/>
<path d="M380.1 119.2 V117.4 M375.3 117.4 H384.9" stroke="#000" stroke-width="1.5"/>
<path d="M380.1 143.5 V147" stroke="#000" stroke-width="1.3"/>
<text x="382.90000000000003" y="153.6" font-size="9.6" fill="#111" text-anchor="end" transform="rotate(-45 382.90000000000003 153.6)" stroke="#111" stroke-width="0.22">WT</text>
<rect x="397.0" y="66.7" width="16" height="76.5" fill="#000" stroke="#000" stroke-width="1.8"/>
<path d="M405.0 65.8 V61.6 M400.4 61.6 H409.6" stroke="#000" stroke-width="1.5"/>
<path d="M405.0 143.5 V147" stroke="#000" stroke-width="1.3"/>
<text x="407.8" y="153.6" font-size="9.6" fill="#111" text-anchor="end" transform="rotate(-45 407.8 153.6)" stroke="#111" stroke-width="0.22">ST3GalIV</text>
<rect x="421.6" y="68.5" width="16" height="74.7" fill="#8cc63f" stroke="#8cc63f" stroke-width="1.8"/>
<path d="M429.6 67.6 V64.5 M424.8 64.5 H434.4" stroke="#8cc63f" stroke-width="1.5"/>
<path d="M429.6 143.5 V147" stroke="#000" stroke-width="1.3"/>
<text x="432.40000000000003" y="153.6" font-size="9.6" fill="#111" text-anchor="end" transform="rotate(-45 432.40000000000003 153.6)" stroke="#111" stroke-width="0.22">ST3GalIV+Rest-SA</text>
<rect x="446.7" y="87.4" width="16" height="55.8" fill="url(#stripe)" stroke="#8cc63f" stroke-width="1.8"/>
<path d="M454.7 86.5 V81.2 M450.2 81.2 H459.2" stroke="#8cc63f" stroke-width="1.5"/>
<path d="M454.7 143.5 V147" stroke="#000" stroke-width="1.3"/>
<text x="457.5" y="153.6" font-size="9.6" fill="#111" text-anchor="end" transform="rotate(-45 457.5 153.6)" stroke="#111" stroke-width="0.22">ST3GalIV+Rest+SA</text>
<rect x="471.1" y="108.5" width="16" height="34.7" fill="#3b53a8" stroke="#33449a" stroke-width="1.8"/>
<path d="M479.1 143.5 V147" stroke="#000" stroke-width="1.3"/>
<text x="481.90000000000003" y="153.6" font-size="9.6" fill="#111" text-anchor="end" transform="rotate(-45 481.90000000000003 153.6)" stroke="#111" stroke-width="0.22">ST3GalIV+Rest-SA</text>
<rect x="495.8" y="108.5" width="16" height="34.7" fill="url(#hatch)" stroke="#3a44a0" stroke-width="1.8"/>
<path d="M503.8 143.5 V147" stroke="#000" stroke-width="1.3"/>
<text x="506.6" y="153.6" font-size="9.6" fill="#111" text-anchor="end" transform="rotate(-45 506.6 153.6)" stroke="#111" stroke-width="0.22">ST3GalIV+Rest+SA</text>
<text x="71.2" y="282.6" font-size="9.4" fill="#000" text-anchor="start" stroke="#000" stroke-width="0.22">WT KO</text>
<text x="106.2" y="282.6" font-size="9.4" fill="#000" text-anchor="start" stroke="#000" stroke-width="0.22">WT KO</text>
<text x="147.4" y="282.4" font-size="9.4" fill="#000" text-anchor="start" stroke="#000" stroke-width="0.22">WT KO</text>
<text x="186.5" y="282.4" font-size="9.4" fill="#000" text-anchor="start" stroke="#000" stroke-width="0.22">WT KO</text>
<text x="68.8" y="291.4" font-size="9.4" fill="#000" text-anchor="start" stroke="#000" stroke-width="0.22">- Rest</text>
<text x="106.5" y="291.4" font-size="9.4" fill="#000" text-anchor="start" stroke="#000" stroke-width="0.22">+ TRAP</text>
<text x="147" y="291.4" font-size="9.4" fill="#000" text-anchor="start" stroke="#000" stroke-width="0.22">- Rest</text>
<text x="181.5" y="291.4" font-size="9.4" fill="#000" text-anchor="start" stroke="#000" stroke-width="0.22">+ TRAP</text>
<text x="85.8" y="304.6" font-size="9.4" fill="#000" text-anchor="start" stroke="#000" stroke-width="0.22">- CMP-SA</text>
<text x="159.2" y="304.3" font-size="9.4" fill="#000" text-anchor="start" stroke="#000" stroke-width="0.22">+ CMP-SA</text>
<g stroke="#111" stroke-width="1"><path d="M72.7 292.8 H99.6 M105.8 292.8 H135.8 M147.7 293.4 H174.6 M186 293.4 H213.8"/><path d="M71.2 307.4 H142.7 M149.2 307.4 H215"/></g>
<defs><filter id="bl" x="-20%" y="-50%" width="140%" height="200%"><feGaussianBlur stdDeviation="0.7"/></filter><filter id="bl2" x="-20%" y="-50%" width="140%" height="200%"><feGaussianBlur stdDeviation="1.2"/></filter></defs>
<rect x="69" y="309" width="73.8" height="22.5" fill="#cbcbcb"/>
<rect x="148.9" y="309" width="66.7" height="22.5" fill="#c5c5c5"/>
<g filter="url(#bl)" fill="#111"><rect x="92" y="325.6" width="9" height="2" fill="#999"/><rect x="90.9" y="318.9" width="12.4" height="6.4" rx="2.6"/><path d="M90.2 312.2 L94 313.9" stroke="#111" stroke-width="1.1"/><rect x="126.5" y="319" width="9" height="3" fill="#a8a8a8"/><rect x="126" y="321.8" width="9.6" height="2.8" rx="1.2"/><rect x="152.5" y="315.9" width="10.5" height="1.3" fill="#8a8a8a"/><rect x="152.3" y="320.6" width="11.7" height="1.9" fill="#444"/><rect x="169.5" y="315.3" width="12.4" height="3" rx="1.5"/><rect x="169.1" y="318.8" width="13.2" height="7.8" rx="3.2"/><rect x="187" y="315.8" width="12" height="1.3" fill="#8a8a8a"/><rect x="186.7" y="321.5" width="13.1" height="2.3" fill="#1a1a1a"/><rect x="206" y="316.6" width="7" height="1.8" rx="0.9"/><rect x="204.2" y="319.4" width="10.4" height="6.8" rx="3"/></g>
<text x="133.8" y="344.6" font-size="10" fill="#000" text-anchor="start" stroke="#000" stroke-width="0.22">RCA I</text>
<defs><clipPath id="cs1"><path d="M68.9 350.8 H136.5 L137.7 356.5 L136.5 362.1 H68.9 Z"/></clipPath><clipPath id="cs2"><rect x="148.8" y="350.8" width="67.6" height="11.3"/></clipPath></defs>
<g clip-path="url(#cs1)"><rect x="68" y="350" width="70" height="13" fill="#979797"/><g filter="url(#bl2)"><rect x="66" y="350" width="5.5" height="13" fill="#6a6a6a"/><ellipse cx="79" cy="357.4" rx="5.5" ry="3.2" fill="#4a4a4a"/><ellipse cx="97.4" cy="357" rx="7" ry="3.4" fill="#404040"/><ellipse cx="116.4" cy="357" rx="6.8" ry="3.2" fill="#454545"/><path d="M127.5 354.5 L134 355 L138 357 L134 359 L127.5 359.5 Z" fill="#404040"/><rect x="66" y="359.8" width="72" height="3" fill="#7a7a7a"/></g></g>
<g clip-path="url(#cs2)"><rect x="148" y="350" width="69" height="13" fill="#7a7a7a"/><g filter="url(#bl2)"><rect x="146" y="349" width="15" height="15" fill="#383838"/><path d="M151 357 L163 354.5 L163 359.5 Z" fill="#a0a0a0"/><rect x="160" y="350" width="40" height="5" fill="#8a8a8a"/><rect x="160" y="356.2" width="38" height="3.6" fill="#2e2e2e"/><ellipse cx="181.5" cy="355" rx="3" ry="2" fill="#c0c0c0"/><ellipse cx="168" cy="354" rx="4" ry="2" fill="#505050"/><rect x="199" y="349" width="20" height="15" fill="#d0d0d0"/><ellipse cx="208" cy="354.6" rx="3" ry="1.4" fill="#666"/><ellipse cx="208.6" cy="360" rx="4" ry="1.6" fill="#333"/><rect x="146" y="360.3" width="53" height="3" fill="#505050"/></g></g>
<text x="133" y="373.8" font-size="10.3" fill="#000" text-anchor="start" stroke="#000" stroke-width="0.22">sWGA</text>
<rect x="69" y="381.3" width="73" height="11" fill="#d2d2d2"/>
<rect x="148.9" y="381.3" width="66.8" height="11.3" fill="#d0d0d0"/>
<g filter="url(#bl)" fill="#111"><rect x="72.7" y="384.7" width="13" height="3.1" rx="1.5"/><rect x="90.8" y="384.7" width="11" height="3.1" rx="1.5"/><rect x="106.2" y="384.7" width="11.8" height="3.1" rx="1.5"/><rect x="122.2" y="384.7" width="11.3" height="3.1" rx="1.5"/><rect x="152.3" y="388" width="12.3" height="3.2" rx="1.5"/><rect x="168.5" y="388" width="11.8" height="3.2" rx="1.5"/><rect x="183.8" y="388.2" width="13.4" height="3.1" rx="1.5"/><rect x="201.5" y="388.1" width="12.3" height="3.2" rx="1.5"/></g>
<text x="131.4" y="406.4" font-size="10.6" fill="#000" text-anchor="start" stroke="#000" stroke-width="0.22">GPIbα</text>
<rect x="68" y="415" width="74" height="11" fill="#d0d0d0"/>
<rect x="148.2" y="415" width="67.5" height="11" fill="#cfcfcf"/>
<g filter="url(#bl)" fill="#111"><rect x="73" y="420.2" width="12.4" height="2.2" rx="1.1"/><rect x="87.7" y="420.2" width="13.8" height="2.2" rx="1.1"/><rect x="105.4" y="420.2" width="13.8" height="2.2" rx="1.1"/><rect x="122.3" y="420.2" width="12.3" height="2.2" rx="1.1"/><rect x="152.5" y="420" width="11.2" height="2.2" rx="1.1"/><rect x="168" y="420" width="14" height="2.2" rx="1.1"/><rect x="185" y="420" width="13.4" height="2.2" rx="1.1"/><rect x="204.4" y="420" width="9.6" height="2.2" rx="1.1"/></g>
<text x="135.2" y="435.3" font-size="10.2" fill="#000" text-anchor="start" stroke="#000" stroke-width="0.22">actin</text>
<text x="12.7" y="325.8" font-size="10.3" fill="#000" text-anchor="start" stroke="#000" stroke-width="0.22">135 kDa</text>
<path d="M52.4 321.8 H62" stroke="#444" stroke-width="1.4"/><path d="M57 318.1 L63.2 321.8 L57 325.5" stroke="#000" stroke-width="2" fill="none" stroke-linecap="round"/>
<text x="15.4" y="359.9" font-size="10.3" fill="#000" text-anchor="start" stroke="#000" stroke-width="0.22">135 kDa</text>
<path d="M53.8 357.5 H64.6" stroke="#444" stroke-width="1.4"/><path d="M59.599999999999994 353.8 L65.8 357.5 L59.599999999999994 361.2" stroke="#000" stroke-width="2" fill="none" stroke-linecap="round"/>
<text x="16.0" y="388.5" font-size="10.3" fill="#000" text-anchor="start" stroke="#000" stroke-width="0.22">135 kDa</text>
<path d="M54.2 385.8 H65" stroke="#444" stroke-width="1.4"/><path d="M60 382.1 L66.2 385.8 L60 389.5" stroke="#000" stroke-width="2" fill="none" stroke-linecap="round"/>
<g stroke="#222" stroke-width="1.1" fill="none"><path d="M353.3 276 V419"/><path d="M344.8 419 H498.8"/>
<path d="M345.3 390.4 H353.3"/>
<path d="M345.3 361.9 H353.3"/>
<path d="M345.3 333.3 H353.3"/>
<path d="M345.3 304.8 H353.3"/>
<path d="M345.3 276.2 H353.3"/>
<path d="M353.3 419 V425.8"/>
<path d="M378 419 V425.8"/>
<path d="M403 419 V425.8"/>
<path d="M427.8 419 V425.8"/>
<path d="M452.7 419 V425.8"/>
<path d="M477.3 419 V425.8"/>
<path d="M497.9 419 V425.8"/>
</g>
<text x="341.2" y="422.6" font-size="10" fill="#111" text-anchor="end" stroke="#111" stroke-width="0.22">0</text>
<text x="341.2" y="394.04" font-size="10" fill="#111" text-anchor="end" stroke="#111" stroke-width="0.22">20</text>
<text x="341.2" y="365.48" font-size="10" fill="#111" text-anchor="end" stroke="#111" stroke-width="0.22">40</text>
<text x="341.2" y="336.92" font-size="10" fill="#111" text-anchor="end" stroke="#111" stroke-width="0.22">60</text>
<text x="341.2" y="308.36" font-size="10" fill="#111" text-anchor="end" stroke="#111" stroke-width="0.22">80</text>
<text x="341.2" y="279.80000000000007" font-size="10" fill="#111" text-anchor="end" stroke="#111" stroke-width="0.22">100</text>
<text x="352.3" y="435.8" font-size="10" fill="#111" text-anchor="middle" stroke="#111" stroke-width="0.22">0</text>
<text x="427.2" y="435.8" font-size="10" fill="#111" text-anchor="middle" stroke="#111" stroke-width="0.22">12</text>
<text x="494.8" y="435.8" font-size="10" fill="#111" text-anchor="middle" stroke="#111" stroke-width="0.22">24</text>
<text x="417" y="446" font-size="10.3" fill="#111" text-anchor="start" stroke="#111" stroke-width="0.22">hours</text>
<text x="309.2" y="415.8" font-size="10.65" fill="#111" text-anchor="start" transform="rotate(-90 309.2 415.8)" stroke="#111" stroke-width="0.22">% CMFDA-positive circulating</text>
<text x="321" y="343.2" font-size="10.5" fill="#111" text-anchor="middle" transform="rotate(-90 321 343.2)" stroke="#111" stroke-width="0.22">platelets</text>
<path d="M353.4 276.2 L497.9 334.9" stroke="#444" stroke-width="1"/>
<path d="M353.4 313.8 L497.9 353.0" stroke="#c8404a" stroke-width="0.9"/>
<path d="M353.4 316.9 L497.9 351.6" stroke="#6070b8" stroke-width="0.8"/>
<path d="M353.4 320.8 L497.9 350.7" stroke="#d88a98" stroke-width="0.8"/>
<path d="M353.4 356.5 L497.9 403.1" stroke="#7478c8" stroke-width="0.9"/>
<rect x="352" y="274.8" width="3.3" height="3" fill="#000"/>
<rect x="496.3" y="333.2" width="3.6" height="3.4" fill="#000"/>
<path d="M352 282.3 H355" stroke="#000" stroke-width="1.2"/>
<circle cx="353.4" cy="313.7" r="1.6" fill="#d42a2a"/><circle cx="353.4" cy="316.9" r="1.6" fill="#2a4aa8"/><circle cx="353.4" cy="320.8" r="1.4" fill="#fff" stroke="#d86a7a" stroke-width="0.8"/>
<path d="M352 310.8 H355 M352 326.6 H355" stroke="#333" stroke-width="1.2"/>
<circle cx="353.6" cy="356.6" r="1.6" fill="#fff" stroke="#6a72c8" stroke-width="0.8"/>
<path d="M352 343.5 H355 M352 369.5 H355" stroke="#333" stroke-width="1"/>
<circle cx="497.9" cy="350.9" r="1.5" fill="#fff" stroke="#d86a7a" stroke-width="0.8"/><rect x="496.4" y="352" width="3" height="3" fill="#d42a2a"/>
<path d="M496.5 346.3 H499.5 M496.5 355.8 H499.5" stroke="#444" stroke-width="1"/>
<circle cx="497.9" cy="403.1" r="1.6" fill="#fff" stroke="#6a72c8" stroke-width="0.8"/>
<path d="M496.5 397.9 H499.5 M496.5 408.8 H499.5" stroke="#444" stroke-width="1"/>
<polygon points="361.50,307.60 362.15,308.91 363.59,309.12 362.55,310.14 362.79,311.58 361.50,310.90 360.21,311.58 360.45,310.14 359.41,309.12 360.85,308.91" fill="#111"/>
<polygon points="366.80,307.60 367.45,308.91 368.89,309.12 367.85,310.14 368.09,311.58 366.80,310.90 365.51,311.58 365.75,310.14 364.71,309.12 366.15,308.91" fill="#111"/>
<polygon points="360.50,315.10 361.15,316.41 362.59,316.62 361.55,317.64 361.79,319.08 360.50,318.40 359.21,319.08 359.45,317.64 358.41,316.62 359.85,316.41" fill="#111"/>
<polygon points="366.00,315.10 366.65,316.41 368.09,316.62 367.05,317.64 367.29,319.08 366.00,318.40 364.71,319.08 364.95,317.64 363.91,316.62 365.35,316.41" fill="#111"/>
<polygon points="360.80,322.20 361.45,323.51 362.89,323.72 361.85,324.74 362.09,326.18 360.80,325.50 359.51,326.18 359.75,324.74 358.71,323.72 360.15,323.51" fill="#111"/>
<polygon points="366.00,322.20 366.65,323.51 368.09,323.72 367.05,324.74 367.29,326.18 366.00,325.50 364.71,326.18 364.95,324.74 363.91,323.72 365.35,323.51" fill="#111"/>
<polygon points="487.80,341.50 488.45,342.81 489.89,343.02 488.85,344.04 489.09,345.48 487.80,344.80 486.51,345.48 486.75,344.04 485.71,343.02 487.15,342.81" fill="#111"/>
<polygon points="492.80,341.50 493.45,342.81 494.89,343.02 493.85,344.04 494.09,345.48 492.80,344.80 491.51,345.48 491.75,344.04 490.71,343.02 492.15,342.81" fill="#111"/>
<polygon points="497.80,341.50 498.45,342.81 499.89,343.02 498.85,344.04 499.09,345.48 497.80,344.80 496.51,345.48 496.75,344.04 495.71,343.02 497.15,342.81" fill="#111"/>
<polygon points="481.00,353.00 481.65,354.31 483.09,354.52 482.05,355.54 482.29,356.98 481.00,356.30 479.71,356.98 479.95,355.54 478.91,354.52 480.35,354.31" fill="#111"/>
<polygon points="486.10,353.00 486.75,354.31 488.19,354.52 487.15,355.54 487.39,356.98 486.10,356.30 484.81,356.98 485.05,355.54 484.01,354.52 485.45,354.31" fill="#111"/>
<polygon points="491.20,353.00 491.85,354.31 493.29,354.52 492.25,355.54 492.49,356.98 491.20,356.30 489.91,356.98 490.15,355.54 489.11,354.52 490.55,354.31" fill="#111"/>
<polygon points="492.30,363.00 492.95,364.31 494.39,364.52 493.35,365.54 493.59,366.98 492.30,366.30 491.01,366.98 491.25,365.54 490.21,364.52 491.65,364.31" fill="#111"/>
<polygon points="497.60,363.00 498.25,364.31 499.69,364.52 498.65,365.54 498.89,366.98 497.60,366.30 496.31,366.98 496.55,365.54 495.51,364.52 496.95,364.31" fill="#111"/>
<polygon points="502.80,363.00 503.45,364.31 504.89,364.52 503.85,365.54 504.09,366.98 502.80,366.30 501.51,366.98 501.75,365.54 500.71,364.52 502.15,364.31" fill="#111"/>
<rect x="355.6" y="377.5" width="2.8" height="2.8" fill="#000"/>
<text x="363.5" y="382.3" font-size="9.8" fill="#111" text-anchor="start" stroke="#111" stroke-width="0.22" letter-spacing="0.35">WT</text>
<circle cx="356.9" cy="387.4" r="1.75" fill="#b82a32"/>
<text x="363.5" y="390.8" font-size="9.8" fill="#111" text-anchor="start" stroke="#111" stroke-width="0.22" letter-spacing="0.35">TRAP + SA</text>
<circle cx="356.9" cy="395.9" r="1.75" fill="#245a80"/>
<text x="363.5" y="399.3" font-size="9.8" fill="#111" text-anchor="start" stroke="#111" stroke-width="0.22" letter-spacing="0.35">TRAP - SA</text>
<circle cx="356.9" cy="404.4" r="1.4" fill="#f4e8ea" stroke="#c88080" stroke-width="1"/>
<text x="363.5" y="407.8" font-size="9.8" fill="#111" text-anchor="start" stroke="#111" stroke-width="0.22" letter-spacing="0.35">Rest + SA</text>
<circle cx="356.9" cy="412.9" r="1.4" fill="#f4e8ea" stroke="#7880c0" stroke-width="1"/>
<text x="363.5" y="416.3" font-size="9.8" fill="#111" text-anchor="start" stroke="#111" stroke-width="0.22" letter-spacing="0.35">Rest - SA</text></svg>
</body></html>
